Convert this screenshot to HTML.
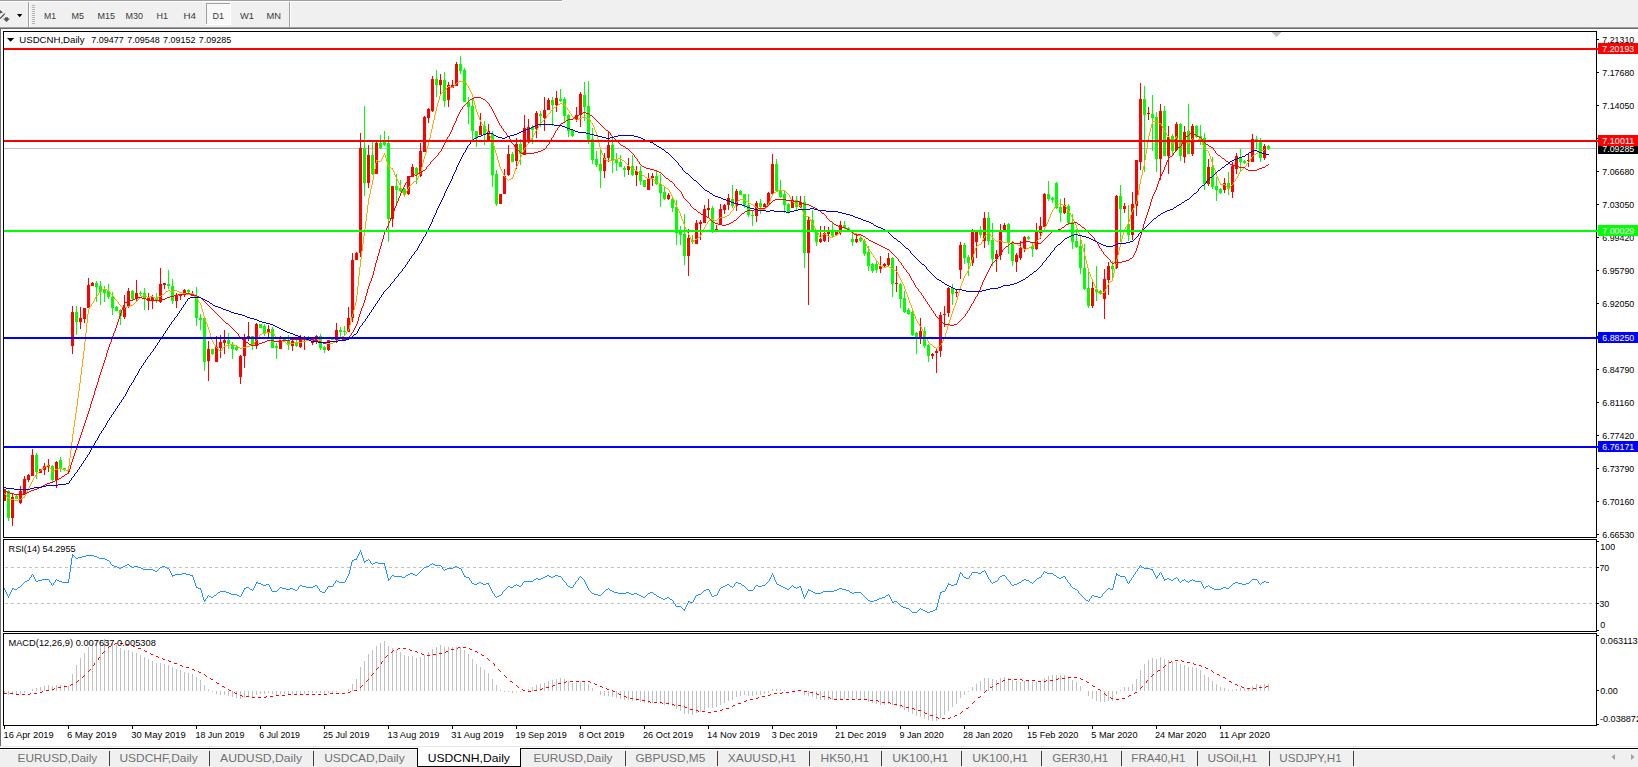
<!DOCTYPE html><html><head><meta charset="utf-8"><title>USDCNH,Daily</title>
<style>html,body{margin:0;padding:0;background:#fff;overflow:hidden}svg{display:block}text{font-family:"Liberation Sans",sans-serif}</style></head><body>
<svg width="1638" height="767" viewBox="0 0 1638 767">
<rect width="1638" height="767" fill="#fff"/>
<g shape-rendering="crispEdges">
<rect x="0" y="0" width="1638" height="27" fill="#f0f0f0"/>
<rect x="0" y="0" width="562" height="1" fill="#a0a0a0"/>
<rect x="0" y="1" width="563" height="1" fill="#ffffff"/>
<rect x="562" y="0" width="1" height="2" fill="#ffffff"/>
<rect x="0" y="27" width="1638" height="1" fill="#a0a0a0"/>
<rect x="0" y="28" width="1638" height="1" fill="#696969"/>
<rect x="28" y="2" width="1" height="25" fill="#a0a0a0"/>
<rect x="29" y="2" width="1" height="25" fill="#ffffff"/>
<rect x="289" y="2" width="1" height="25" fill="#a0a0a0"/>
<rect x="290" y="2" width="1" height="25" fill="#ffffff"/>
<rect x="32" y="5" width="3" height="1" fill="#b4b4b4"/>
<rect x="32" y="7" width="3" height="1" fill="#b4b4b4"/>
<rect x="32" y="9" width="3" height="1" fill="#b4b4b4"/>
<rect x="32" y="11" width="3" height="1" fill="#b4b4b4"/>
<rect x="32" y="13" width="3" height="1" fill="#b4b4b4"/>
<rect x="32" y="15" width="3" height="1" fill="#b4b4b4"/>
<rect x="32" y="17" width="3" height="1" fill="#b4b4b4"/>
<rect x="32" y="19" width="3" height="1" fill="#b4b4b4"/>
<rect x="32" y="21" width="3" height="1" fill="#b4b4b4"/>
<rect x="32" y="23" width="3" height="1" fill="#b4b4b4"/>
<rect x="206" y="3" width="25" height="22" fill="#f8f8f8"/>
<rect x="206" y="3" width="25" height="1" fill="#a0a0a0"/>
<rect x="206" y="3" width="1" height="22" fill="#a0a0a0"/>
<rect x="206" y="24" width="25" height="1" fill="#ffffff"/>
<rect x="230" y="3" width="1" height="22" fill="#ffffff"/>
</g>
<path d="M0 10 L3 12.6 L0 13.6 Z" fill="#555"/>
<path d="M0 18.6 L4.8 13.6" stroke="#4a4a4a" stroke-width="1.3" fill="none"/>
<path d="M3 18.4 L5 18.4 L5 17.2 L8 17.2 L8 18.4 L10 18.4 L6.5 22 Z" fill="#555"/>
<path d="M17 14 L22.4 14 L19.7 17.3 Z" fill="#000"/>
<text x="44" y="19" font-size="9.4" fill="#3a3a3a" textLength="12" lengthAdjust="spacingAndGlyphs">M1</text>
<text x="71.5" y="19" font-size="9.4" fill="#3a3a3a" textLength="12.5" lengthAdjust="spacingAndGlyphs">M5</text>
<text x="97.5" y="19" font-size="9.4" fill="#3a3a3a" textLength="17.5" lengthAdjust="spacingAndGlyphs">M15</text>
<text x="125.5" y="19" font-size="9.4" fill="#3a3a3a" textLength="17.5" lengthAdjust="spacingAndGlyphs">M30</text>
<text x="156.5" y="19" font-size="9.4" fill="#3a3a3a" textLength="11.5" lengthAdjust="spacingAndGlyphs">H1</text>
<text x="183.5" y="19" font-size="9.4" fill="#3a3a3a" textLength="12.5" lengthAdjust="spacingAndGlyphs">H4</text>
<text x="212.5" y="19" font-size="9.4" fill="#3a3a3a" textLength="11.5" lengthAdjust="spacingAndGlyphs">D1</text>
<text x="240" y="19" font-size="9.4" fill="#3a3a3a" textLength="14" lengthAdjust="spacingAndGlyphs">W1</text>
<text x="266.5" y="19" font-size="9.4" fill="#3a3a3a" textLength="14.5" lengthAdjust="spacingAndGlyphs">MN</text>
<g shape-rendering="crispEdges">
<rect x="0" y="29" width="1" height="718" fill="#6e6e6e"/>
<rect x="3" y="31" width="1594" height="1" fill="#000"/>
<rect x="3" y="537" width="1594" height="1" fill="#000"/>
<rect x="3" y="31" width="1" height="507" fill="#000"/>
<rect x="1596" y="31" width="1" height="507" fill="#000"/>
<rect x="3" y="539" width="1594" height="1" fill="#000"/>
<rect x="3" y="631" width="1594" height="1" fill="#000"/>
<rect x="3" y="539" width="1" height="93" fill="#000"/>
<rect x="1596" y="539" width="1" height="93" fill="#000"/>
<rect x="3" y="633" width="1594" height="1" fill="#000"/>
<rect x="3" y="725" width="1594" height="1" fill="#000"/>
<rect x="3" y="633" width="1" height="93" fill="#000"/>
<rect x="1596" y="633" width="1" height="93" fill="#000"/>
</g>
<g shape-rendering="crispEdges">
<rect x="4" y="148" width="1592" height="1" fill="#c0c0c0"/>
<rect x="4" y="489" width="1" height="12" fill="#ff0000"/>
<rect x="4" y="489" width="2" height="12" fill="#ff0000"/>
<rect x="8" y="490" width="1" height="31" fill="#00ff00"/>
<rect x="7" y="491" width="3" height="27" fill="#00ff00"/>
<rect x="12" y="494" width="1" height="32" fill="#ff0000"/>
<rect x="11" y="497" width="3" height="21" fill="#ff0000"/>
<rect x="16" y="494" width="1" height="5" fill="#00ff00"/>
<rect x="15" y="496" width="3" height="3" fill="#00ff00"/>
<rect x="20" y="486" width="1" height="18" fill="#ff0000"/>
<rect x="19" y="491" width="3" height="12" fill="#ff0000"/>
<rect x="24" y="476" width="1" height="19" fill="#ff0000"/>
<rect x="23" y="479" width="3" height="16" fill="#ff0000"/>
<rect x="28" y="474" width="1" height="8" fill="#ff0000"/>
<rect x="27" y="475" width="3" height="5" fill="#ff0000"/>
<rect x="32" y="449" width="1" height="27" fill="#ff0000"/>
<rect x="31" y="455" width="3" height="21" fill="#ff0000"/>
<rect x="36" y="453" width="1" height="26" fill="#00ff00"/>
<rect x="35" y="455" width="3" height="17" fill="#00ff00"/>
<rect x="40" y="469" width="1" height="4" fill="#ff0000"/>
<rect x="39" y="469" width="3" height="4" fill="#ff0000"/>
<rect x="44" y="463" width="1" height="12" fill="#ff0000"/>
<rect x="43" y="466" width="3" height="4" fill="#ff0000"/>
<rect x="48" y="459" width="1" height="13" fill="#ff0000"/>
<rect x="47" y="465" width="3" height="2" fill="#ff0000"/>
<rect x="52" y="465" width="1" height="17" fill="#00ff00"/>
<rect x="51" y="466" width="3" height="14" fill="#00ff00"/>
<rect x="56" y="461" width="1" height="27" fill="#ff0000"/>
<rect x="55" y="462" width="3" height="18" fill="#ff0000"/>
<rect x="60" y="457" width="1" height="15" fill="#00ff00"/>
<rect x="59" y="460" width="3" height="8" fill="#00ff00"/>
<rect x="64" y="468" width="1" height="3" fill="#00ff00"/>
<rect x="63" y="468" width="3" height="2" fill="#00ff00"/>
<rect x="68" y="469" width="1" height="3" fill="#ff0000"/>
<rect x="67" y="470" width="3" height="1" fill="#ff0000"/>
<rect x="72" y="306" width="1" height="48" fill="#ff0000"/>
<rect x="71" y="312" width="3" height="34" fill="#ff0000"/>
<rect x="76" y="306" width="1" height="29" fill="#00ff00"/>
<rect x="75" y="312" width="3" height="10" fill="#00ff00"/>
<rect x="80" y="307" width="1" height="22" fill="#ff0000"/>
<rect x="79" y="318" width="3" height="4" fill="#ff0000"/>
<rect x="84" y="308" width="1" height="15" fill="#ff0000"/>
<rect x="83" y="308" width="3" height="11" fill="#ff0000"/>
<rect x="88" y="278" width="1" height="30" fill="#ff0000"/>
<rect x="87" y="285" width="3" height="23" fill="#ff0000"/>
<rect x="92" y="282" width="1" height="4" fill="#ff0000"/>
<rect x="91" y="283" width="3" height="3" fill="#ff0000"/>
<rect x="96" y="281" width="1" height="21" fill="#00ff00"/>
<rect x="95" y="283" width="3" height="4" fill="#00ff00"/>
<rect x="100" y="281" width="1" height="24" fill="#00ff00"/>
<rect x="99" y="286" width="3" height="6" fill="#00ff00"/>
<rect x="104" y="286" width="1" height="16" fill="#00ff00"/>
<rect x="103" y="290" width="3" height="3" fill="#00ff00"/>
<rect x="108" y="284" width="1" height="15" fill="#00ff00"/>
<rect x="107" y="291" width="3" height="6" fill="#00ff00"/>
<rect x="112" y="292" width="1" height="23" fill="#00ff00"/>
<rect x="111" y="297" width="3" height="11" fill="#00ff00"/>
<rect x="116" y="306" width="1" height="5" fill="#00ff00"/>
<rect x="115" y="307" width="3" height="4" fill="#00ff00"/>
<rect x="120" y="309" width="1" height="16" fill="#00ff00"/>
<rect x="119" y="310" width="3" height="6" fill="#00ff00"/>
<rect x="124" y="295" width="1" height="24" fill="#ff0000"/>
<rect x="123" y="307" width="3" height="10" fill="#ff0000"/>
<rect x="128" y="288" width="1" height="20" fill="#ff0000"/>
<rect x="127" y="291" width="3" height="15" fill="#ff0000"/>
<rect x="132" y="290" width="1" height="10" fill="#00ff00"/>
<rect x="131" y="291" width="3" height="8" fill="#00ff00"/>
<rect x="136" y="280" width="1" height="21" fill="#ff0000"/>
<rect x="135" y="293" width="3" height="6" fill="#ff0000"/>
<rect x="140" y="291" width="1" height="5" fill="#00ff00"/>
<rect x="139" y="293" width="3" height="1" fill="#00ff00"/>
<rect x="144" y="288" width="1" height="22" fill="#00ff00"/>
<rect x="143" y="293" width="3" height="6" fill="#00ff00"/>
<rect x="148" y="293" width="1" height="17" fill="#ff0000"/>
<rect x="147" y="298" width="3" height="3" fill="#ff0000"/>
<rect x="152" y="295" width="1" height="14" fill="#ff0000"/>
<rect x="151" y="297" width="3" height="4" fill="#ff0000"/>
<rect x="156" y="293" width="1" height="10" fill="#00ff00"/>
<rect x="155" y="298" width="3" height="3" fill="#00ff00"/>
<rect x="160" y="268" width="1" height="35" fill="#ff0000"/>
<rect x="159" y="284" width="3" height="18" fill="#ff0000"/>
<rect x="164" y="283" width="1" height="6" fill="#ff0000"/>
<rect x="163" y="283" width="3" height="2" fill="#ff0000"/>
<rect x="168" y="270" width="1" height="19" fill="#00ff00"/>
<rect x="167" y="284" width="3" height="2" fill="#00ff00"/>
<rect x="172" y="279" width="1" height="25" fill="#00ff00"/>
<rect x="171" y="286" width="3" height="15" fill="#00ff00"/>
<rect x="176" y="293" width="1" height="15" fill="#ff0000"/>
<rect x="175" y="295" width="3" height="6" fill="#ff0000"/>
<rect x="180" y="294" width="1" height="6" fill="#ff0000"/>
<rect x="179" y="294" width="3" height="2" fill="#ff0000"/>
<rect x="184" y="289" width="1" height="8" fill="#ff0000"/>
<rect x="183" y="290" width="3" height="3" fill="#ff0000"/>
<rect x="188" y="289" width="1" height="4" fill="#00ff00"/>
<rect x="187" y="290" width="3" height="2" fill="#00ff00"/>
<rect x="192" y="291" width="1" height="5" fill="#ff0000"/>
<rect x="191" y="294" width="3" height="2" fill="#ff0000"/>
<rect x="196" y="287" width="1" height="39" fill="#00ff00"/>
<rect x="195" y="296" width="3" height="22" fill="#00ff00"/>
<rect x="200" y="314" width="1" height="16" fill="#00ff00"/>
<rect x="199" y="318" width="3" height="2" fill="#00ff00"/>
<rect x="204" y="318" width="1" height="53" fill="#00ff00"/>
<rect x="203" y="318" width="3" height="44" fill="#00ff00"/>
<rect x="208" y="341" width="1" height="40" fill="#ff0000"/>
<rect x="207" y="349" width="3" height="12" fill="#ff0000"/>
<rect x="212" y="349" width="1" height="6" fill="#00ff00"/>
<rect x="211" y="349" width="3" height="5" fill="#00ff00"/>
<rect x="216" y="336" width="1" height="26" fill="#ff0000"/>
<rect x="215" y="347" width="3" height="15" fill="#ff0000"/>
<rect x="220" y="335" width="1" height="23" fill="#ff0000"/>
<rect x="219" y="342" width="3" height="6" fill="#ff0000"/>
<rect x="224" y="330" width="1" height="24" fill="#ff0000"/>
<rect x="223" y="340" width="3" height="3" fill="#ff0000"/>
<rect x="228" y="333" width="1" height="16" fill="#00ff00"/>
<rect x="227" y="340" width="3" height="4" fill="#00ff00"/>
<rect x="232" y="342" width="1" height="17" fill="#00ff00"/>
<rect x="231" y="344" width="3" height="5" fill="#00ff00"/>
<rect x="236" y="346" width="1" height="5" fill="#00ff00"/>
<rect x="235" y="347" width="3" height="3" fill="#00ff00"/>
<rect x="240" y="355" width="1" height="29" fill="#ff0000"/>
<rect x="239" y="356" width="3" height="21" fill="#ff0000"/>
<rect x="244" y="334" width="1" height="34" fill="#ff0000"/>
<rect x="243" y="338" width="3" height="18" fill="#ff0000"/>
<rect x="248" y="322" width="1" height="19" fill="#ff0000"/>
<rect x="247" y="336" width="3" height="2" fill="#ff0000"/>
<rect x="252" y="336" width="1" height="14" fill="#00ff00"/>
<rect x="251" y="336" width="3" height="9" fill="#00ff00"/>
<rect x="256" y="323" width="1" height="26" fill="#ff0000"/>
<rect x="255" y="324" width="3" height="22" fill="#ff0000"/>
<rect x="260" y="324" width="1" height="4" fill="#00ff00"/>
<rect x="259" y="324" width="3" height="4" fill="#00ff00"/>
<rect x="264" y="324" width="1" height="12" fill="#00ff00"/>
<rect x="263" y="326" width="3" height="7" fill="#00ff00"/>
<rect x="268" y="325" width="1" height="12" fill="#ff0000"/>
<rect x="267" y="329" width="3" height="4" fill="#ff0000"/>
<rect x="272" y="327" width="1" height="21" fill="#00ff00"/>
<rect x="271" y="329" width="3" height="19" fill="#00ff00"/>
<rect x="276" y="343" width="1" height="16" fill="#00ff00"/>
<rect x="275" y="346" width="3" height="2" fill="#00ff00"/>
<rect x="280" y="336" width="1" height="13" fill="#ff0000"/>
<rect x="279" y="340" width="3" height="9" fill="#ff0000"/>
<rect x="284" y="338" width="1" height="4" fill="#00ff00"/>
<rect x="283" y="339" width="3" height="1" fill="#00ff00"/>
<rect x="288" y="335" width="1" height="15" fill="#00ff00"/>
<rect x="287" y="340" width="3" height="5" fill="#00ff00"/>
<rect x="292" y="340" width="1" height="11" fill="#ff0000"/>
<rect x="291" y="341" width="3" height="5" fill="#ff0000"/>
<rect x="296" y="340" width="1" height="7" fill="#00ff00"/>
<rect x="295" y="342" width="3" height="4" fill="#00ff00"/>
<rect x="300" y="335" width="1" height="13" fill="#ff0000"/>
<rect x="299" y="337" width="3" height="10" fill="#ff0000"/>
<rect x="304" y="336" width="1" height="14" fill="#ff0000"/>
<rect x="303" y="338" width="3" height="2" fill="#ff0000"/>
<rect x="308" y="336" width="1" height="4" fill="#00ff00"/>
<rect x="307" y="338" width="3" height="2" fill="#00ff00"/>
<rect x="312" y="340" width="1" height="5" fill="#ff0000"/>
<rect x="311" y="340" width="3" height="3" fill="#ff0000"/>
<rect x="316" y="335" width="1" height="9" fill="#ff0000"/>
<rect x="315" y="336" width="3" height="5" fill="#ff0000"/>
<rect x="320" y="334" width="1" height="16" fill="#00ff00"/>
<rect x="319" y="336" width="3" height="12" fill="#00ff00"/>
<rect x="324" y="346" width="1" height="7" fill="#00ff00"/>
<rect x="323" y="347" width="3" height="3" fill="#00ff00"/>
<rect x="328" y="340" width="1" height="11" fill="#ff0000"/>
<rect x="327" y="340" width="3" height="10" fill="#ff0000"/>
<rect x="332" y="337" width="1" height="3" fill="#00ff00"/>
<rect x="331" y="338" width="3" height="2" fill="#00ff00"/>
<rect x="336" y="323" width="1" height="20" fill="#ff0000"/>
<rect x="335" y="330" width="3" height="10" fill="#ff0000"/>
<rect x="340" y="327" width="1" height="10" fill="#00ff00"/>
<rect x="339" y="330" width="3" height="2" fill="#00ff00"/>
<rect x="344" y="326" width="1" height="10" fill="#00ff00"/>
<rect x="343" y="331" width="3" height="1" fill="#00ff00"/>
<rect x="348" y="307" width="1" height="25" fill="#ff0000"/>
<rect x="347" y="318" width="3" height="14" fill="#ff0000"/>
<rect x="352" y="253" width="1" height="69" fill="#ff0000"/>
<rect x="351" y="260" width="3" height="58" fill="#ff0000"/>
<rect x="356" y="252" width="1" height="8" fill="#ff0000"/>
<rect x="355" y="253" width="3" height="7" fill="#ff0000"/>
<rect x="360" y="133" width="1" height="124" fill="#ff0000"/>
<rect x="359" y="148" width="3" height="105" fill="#ff0000"/>
<rect x="364" y="106" width="1" height="90" fill="#00ff00"/>
<rect x="363" y="148" width="3" height="35" fill="#00ff00"/>
<rect x="368" y="145" width="1" height="43" fill="#ff0000"/>
<rect x="367" y="155" width="3" height="28" fill="#ff0000"/>
<rect x="372" y="142" width="1" height="33" fill="#00ff00"/>
<rect x="371" y="155" width="3" height="19" fill="#00ff00"/>
<rect x="376" y="142" width="1" height="32" fill="#ff0000"/>
<rect x="375" y="143" width="3" height="31" fill="#ff0000"/>
<rect x="380" y="135" width="1" height="14" fill="#00ff00"/>
<rect x="379" y="143" width="3" height="5" fill="#00ff00"/>
<rect x="384" y="131" width="1" height="15" fill="#00ff00"/>
<rect x="383" y="142" width="3" height="3" fill="#00ff00"/>
<rect x="388" y="136" width="1" height="106" fill="#00ff00"/>
<rect x="387" y="143" width="3" height="76" fill="#00ff00"/>
<rect x="392" y="186" width="1" height="41" fill="#ff0000"/>
<rect x="391" y="186" width="3" height="33" fill="#ff0000"/>
<rect x="396" y="174" width="1" height="32" fill="#00ff00"/>
<rect x="395" y="186" width="3" height="4" fill="#00ff00"/>
<rect x="400" y="180" width="1" height="12" fill="#00ff00"/>
<rect x="399" y="188" width="3" height="3" fill="#00ff00"/>
<rect x="404" y="188" width="1" height="8" fill="#00ff00"/>
<rect x="403" y="189" width="3" height="4" fill="#00ff00"/>
<rect x="408" y="176" width="1" height="19" fill="#ff0000"/>
<rect x="407" y="176" width="3" height="18" fill="#ff0000"/>
<rect x="412" y="164" width="1" height="13" fill="#ff0000"/>
<rect x="411" y="167" width="3" height="10" fill="#ff0000"/>
<rect x="416" y="167" width="1" height="17" fill="#00ff00"/>
<rect x="415" y="168" width="3" height="6" fill="#00ff00"/>
<rect x="420" y="143" width="1" height="34" fill="#ff0000"/>
<rect x="419" y="151" width="3" height="25" fill="#ff0000"/>
<rect x="424" y="116" width="1" height="36" fill="#ff0000"/>
<rect x="423" y="117" width="3" height="35" fill="#ff0000"/>
<rect x="428" y="108" width="1" height="15" fill="#ff0000"/>
<rect x="427" y="109" width="3" height="9" fill="#ff0000"/>
<rect x="432" y="76" width="1" height="36" fill="#ff0000"/>
<rect x="431" y="79" width="3" height="32" fill="#ff0000"/>
<rect x="436" y="70" width="1" height="27" fill="#00ff00"/>
<rect x="435" y="79" width="3" height="6" fill="#00ff00"/>
<rect x="440" y="74" width="1" height="22" fill="#ff0000"/>
<rect x="439" y="80" width="3" height="5" fill="#ff0000"/>
<rect x="444" y="72" width="1" height="35" fill="#00ff00"/>
<rect x="443" y="80" width="3" height="21" fill="#00ff00"/>
<rect x="448" y="82" width="1" height="25" fill="#ff0000"/>
<rect x="447" y="85" width="3" height="15" fill="#ff0000"/>
<rect x="452" y="80" width="1" height="8" fill="#ff0000"/>
<rect x="451" y="85" width="3" height="3" fill="#ff0000"/>
<rect x="456" y="62" width="1" height="24" fill="#ff0000"/>
<rect x="455" y="64" width="3" height="22" fill="#ff0000"/>
<rect x="460" y="56" width="1" height="18" fill="#00ff00"/>
<rect x="459" y="64" width="3" height="7" fill="#00ff00"/>
<rect x="464" y="68" width="1" height="34" fill="#00ff00"/>
<rect x="463" y="70" width="3" height="32" fill="#00ff00"/>
<rect x="468" y="97" width="1" height="27" fill="#00ff00"/>
<rect x="467" y="102" width="3" height="5" fill="#00ff00"/>
<rect x="472" y="99" width="1" height="41" fill="#00ff00"/>
<rect x="471" y="106" width="3" height="25" fill="#00ff00"/>
<rect x="476" y="131" width="1" height="16" fill="#00ff00"/>
<rect x="475" y="131" width="3" height="7" fill="#00ff00"/>
<rect x="480" y="113" width="1" height="22" fill="#ff0000"/>
<rect x="479" y="126" width="3" height="9" fill="#ff0000"/>
<rect x="484" y="121" width="1" height="24" fill="#00ff00"/>
<rect x="483" y="126" width="3" height="8" fill="#00ff00"/>
<rect x="488" y="124" width="1" height="16" fill="#ff0000"/>
<rect x="487" y="131" width="3" height="9" fill="#ff0000"/>
<rect x="492" y="131" width="1" height="56" fill="#00ff00"/>
<rect x="491" y="134" width="3" height="41" fill="#00ff00"/>
<rect x="496" y="170" width="1" height="36" fill="#00ff00"/>
<rect x="495" y="174" width="3" height="30" fill="#00ff00"/>
<rect x="500" y="194" width="1" height="10" fill="#ff0000"/>
<rect x="499" y="194" width="3" height="10" fill="#ff0000"/>
<rect x="504" y="169" width="1" height="25" fill="#ff0000"/>
<rect x="503" y="176" width="3" height="18" fill="#ff0000"/>
<rect x="508" y="145" width="1" height="31" fill="#ff0000"/>
<rect x="507" y="154" width="3" height="21" fill="#ff0000"/>
<rect x="512" y="152" width="1" height="10" fill="#00ff00"/>
<rect x="511" y="154" width="3" height="8" fill="#00ff00"/>
<rect x="516" y="138" width="1" height="31" fill="#ff0000"/>
<rect x="515" y="144" width="3" height="17" fill="#ff0000"/>
<rect x="520" y="139" width="1" height="26" fill="#00ff00"/>
<rect x="519" y="144" width="3" height="10" fill="#00ff00"/>
<rect x="524" y="115" width="1" height="40" fill="#ff0000"/>
<rect x="523" y="128" width="3" height="27" fill="#ff0000"/>
<rect x="528" y="119" width="1" height="24" fill="#ff0000"/>
<rect x="527" y="127" width="3" height="15" fill="#ff0000"/>
<rect x="532" y="125" width="1" height="19" fill="#00ff00"/>
<rect x="531" y="127" width="3" height="3" fill="#00ff00"/>
<rect x="536" y="111" width="1" height="27" fill="#ff0000"/>
<rect x="535" y="113" width="3" height="16" fill="#ff0000"/>
<rect x="540" y="111" width="1" height="16" fill="#00ff00"/>
<rect x="539" y="114" width="3" height="2" fill="#00ff00"/>
<rect x="544" y="97" width="1" height="34" fill="#ff0000"/>
<rect x="543" y="110" width="3" height="8" fill="#ff0000"/>
<rect x="548" y="98" width="1" height="12" fill="#ff0000"/>
<rect x="547" y="100" width="3" height="10" fill="#ff0000"/>
<rect x="552" y="97" width="1" height="29" fill="#00ff00"/>
<rect x="551" y="100" width="3" height="5" fill="#00ff00"/>
<rect x="556" y="91" width="1" height="21" fill="#ff0000"/>
<rect x="555" y="98" width="3" height="7" fill="#ff0000"/>
<rect x="560" y="89" width="1" height="13" fill="#00ff00"/>
<rect x="559" y="99" width="3" height="2" fill="#00ff00"/>
<rect x="564" y="97" width="1" height="25" fill="#00ff00"/>
<rect x="563" y="99" width="3" height="17" fill="#00ff00"/>
<rect x="568" y="114" width="1" height="23" fill="#00ff00"/>
<rect x="567" y="115" width="3" height="16" fill="#00ff00"/>
<rect x="572" y="129" width="1" height="8" fill="#00ff00"/>
<rect x="571" y="130" width="3" height="6" fill="#00ff00"/>
<rect x="576" y="107" width="1" height="15" fill="#ff0000"/>
<rect x="575" y="115" width="3" height="4" fill="#ff0000"/>
<rect x="580" y="92" width="1" height="35" fill="#ff0000"/>
<rect x="579" y="94" width="3" height="21" fill="#ff0000"/>
<rect x="584" y="82" width="1" height="39" fill="#00ff00"/>
<rect x="583" y="95" width="3" height="12" fill="#00ff00"/>
<rect x="588" y="81" width="1" height="63" fill="#00ff00"/>
<rect x="587" y="106" width="3" height="34" fill="#00ff00"/>
<rect x="592" y="128" width="1" height="36" fill="#00ff00"/>
<rect x="591" y="139" width="3" height="21" fill="#00ff00"/>
<rect x="596" y="151" width="1" height="16" fill="#00ff00"/>
<rect x="595" y="159" width="3" height="6" fill="#00ff00"/>
<rect x="600" y="150" width="1" height="38" fill="#00ff00"/>
<rect x="599" y="164" width="3" height="7" fill="#00ff00"/>
<rect x="604" y="153" width="1" height="25" fill="#ff0000"/>
<rect x="603" y="158" width="3" height="13" fill="#ff0000"/>
<rect x="608" y="132" width="1" height="30" fill="#ff0000"/>
<rect x="607" y="145" width="3" height="13" fill="#ff0000"/>
<rect x="612" y="137" width="1" height="36" fill="#00ff00"/>
<rect x="611" y="145" width="3" height="15" fill="#00ff00"/>
<rect x="616" y="153" width="1" height="18" fill="#00ff00"/>
<rect x="615" y="159" width="3" height="4" fill="#00ff00"/>
<rect x="620" y="155" width="1" height="12" fill="#00ff00"/>
<rect x="619" y="162" width="3" height="5" fill="#00ff00"/>
<rect x="624" y="166" width="1" height="11" fill="#00ff00"/>
<rect x="623" y="168" width="3" height="2" fill="#00ff00"/>
<rect x="628" y="158" width="1" height="17" fill="#ff0000"/>
<rect x="627" y="166" width="3" height="4" fill="#ff0000"/>
<rect x="632" y="155" width="1" height="21" fill="#00ff00"/>
<rect x="631" y="166" width="3" height="9" fill="#00ff00"/>
<rect x="636" y="166" width="1" height="20" fill="#ff0000"/>
<rect x="635" y="171" width="3" height="4" fill="#ff0000"/>
<rect x="640" y="166" width="1" height="19" fill="#00ff00"/>
<rect x="639" y="171" width="3" height="10" fill="#00ff00"/>
<rect x="644" y="180" width="1" height="7" fill="#00ff00"/>
<rect x="643" y="180" width="3" height="7" fill="#00ff00"/>
<rect x="648" y="173" width="1" height="17" fill="#ff0000"/>
<rect x="647" y="178" width="3" height="12" fill="#ff0000"/>
<rect x="652" y="173" width="1" height="13" fill="#ff0000"/>
<rect x="651" y="176" width="3" height="2" fill="#ff0000"/>
<rect x="656" y="170" width="1" height="15" fill="#00ff00"/>
<rect x="655" y="176" width="3" height="8" fill="#00ff00"/>
<rect x="660" y="174" width="1" height="33" fill="#00ff00"/>
<rect x="659" y="184" width="3" height="9" fill="#00ff00"/>
<rect x="664" y="186" width="1" height="14" fill="#00ff00"/>
<rect x="663" y="192" width="3" height="7" fill="#00ff00"/>
<rect x="668" y="193" width="1" height="7" fill="#ff0000"/>
<rect x="667" y="195" width="3" height="4" fill="#ff0000"/>
<rect x="672" y="196" width="1" height="16" fill="#00ff00"/>
<rect x="671" y="199" width="3" height="9" fill="#00ff00"/>
<rect x="676" y="200" width="1" height="45" fill="#00ff00"/>
<rect x="675" y="207" width="3" height="26" fill="#00ff00"/>
<rect x="680" y="226" width="1" height="19" fill="#00ff00"/>
<rect x="679" y="231" width="3" height="4" fill="#00ff00"/>
<rect x="684" y="214" width="1" height="51" fill="#00ff00"/>
<rect x="683" y="234" width="3" height="22" fill="#00ff00"/>
<rect x="688" y="229" width="1" height="47" fill="#ff0000"/>
<rect x="687" y="238" width="3" height="18" fill="#ff0000"/>
<rect x="692" y="235" width="1" height="9" fill="#00ff00"/>
<rect x="691" y="240" width="3" height="2" fill="#00ff00"/>
<rect x="696" y="220" width="1" height="24" fill="#ff0000"/>
<rect x="695" y="223" width="3" height="21" fill="#ff0000"/>
<rect x="700" y="220" width="1" height="20" fill="#ff0000"/>
<rect x="699" y="222" width="3" height="2" fill="#ff0000"/>
<rect x="704" y="205" width="1" height="18" fill="#ff0000"/>
<rect x="703" y="209" width="3" height="14" fill="#ff0000"/>
<rect x="708" y="199" width="1" height="18" fill="#ff0000"/>
<rect x="707" y="208" width="3" height="2" fill="#ff0000"/>
<rect x="712" y="206" width="1" height="27" fill="#00ff00"/>
<rect x="711" y="208" width="3" height="23" fill="#00ff00"/>
<rect x="716" y="225" width="1" height="5" fill="#ff0000"/>
<rect x="715" y="229" width="3" height="1" fill="#ff0000"/>
<rect x="720" y="204" width="1" height="20" fill="#ff0000"/>
<rect x="719" y="209" width="3" height="15" fill="#ff0000"/>
<rect x="724" y="204" width="1" height="10" fill="#ff0000"/>
<rect x="723" y="205" width="3" height="5" fill="#ff0000"/>
<rect x="728" y="194" width="1" height="16" fill="#ff0000"/>
<rect x="727" y="198" width="3" height="7" fill="#ff0000"/>
<rect x="732" y="185" width="1" height="23" fill="#00ff00"/>
<rect x="731" y="199" width="3" height="7" fill="#00ff00"/>
<rect x="736" y="189" width="1" height="22" fill="#ff0000"/>
<rect x="735" y="191" width="3" height="15" fill="#ff0000"/>
<rect x="740" y="190" width="1" height="5" fill="#00ff00"/>
<rect x="739" y="191" width="3" height="4" fill="#00ff00"/>
<rect x="744" y="194" width="1" height="14" fill="#00ff00"/>
<rect x="743" y="194" width="3" height="11" fill="#00ff00"/>
<rect x="748" y="194" width="1" height="23" fill="#00ff00"/>
<rect x="747" y="205" width="3" height="10" fill="#00ff00"/>
<rect x="752" y="210" width="1" height="16" fill="#00ff00"/>
<rect x="751" y="215" width="3" height="1" fill="#00ff00"/>
<rect x="756" y="201" width="1" height="21" fill="#ff0000"/>
<rect x="755" y="203" width="3" height="13" fill="#ff0000"/>
<rect x="760" y="199" width="1" height="15" fill="#00ff00"/>
<rect x="759" y="203" width="3" height="4" fill="#00ff00"/>
<rect x="764" y="203" width="1" height="4" fill="#ff0000"/>
<rect x="763" y="204" width="3" height="3" fill="#ff0000"/>
<rect x="768" y="192" width="1" height="14" fill="#ff0000"/>
<rect x="767" y="193" width="3" height="12" fill="#ff0000"/>
<rect x="772" y="154" width="1" height="41" fill="#ff0000"/>
<rect x="771" y="164" width="3" height="30" fill="#ff0000"/>
<rect x="776" y="159" width="1" height="32" fill="#00ff00"/>
<rect x="775" y="164" width="3" height="27" fill="#00ff00"/>
<rect x="780" y="180" width="1" height="18" fill="#00ff00"/>
<rect x="779" y="190" width="3" height="7" fill="#00ff00"/>
<rect x="784" y="190" width="1" height="23" fill="#00ff00"/>
<rect x="783" y="194" width="3" height="11" fill="#00ff00"/>
<rect x="788" y="203" width="1" height="11" fill="#00ff00"/>
<rect x="787" y="204" width="3" height="8" fill="#00ff00"/>
<rect x="792" y="196" width="1" height="12" fill="#ff0000"/>
<rect x="791" y="200" width="3" height="8" fill="#ff0000"/>
<rect x="796" y="196" width="1" height="14" fill="#00ff00"/>
<rect x="795" y="200" width="3" height="7" fill="#00ff00"/>
<rect x="800" y="196" width="1" height="12" fill="#ff0000"/>
<rect x="799" y="202" width="3" height="5" fill="#ff0000"/>
<rect x="804" y="196" width="1" height="72" fill="#00ff00"/>
<rect x="803" y="202" width="3" height="51" fill="#00ff00"/>
<rect x="808" y="216" width="1" height="89" fill="#ff0000"/>
<rect x="807" y="220" width="3" height="33" fill="#ff0000"/>
<rect x="812" y="210" width="1" height="22" fill="#00ff00"/>
<rect x="811" y="220" width="3" height="11" fill="#00ff00"/>
<rect x="816" y="230" width="1" height="16" fill="#00ff00"/>
<rect x="815" y="231" width="3" height="11" fill="#00ff00"/>
<rect x="820" y="226" width="1" height="17" fill="#ff0000"/>
<rect x="819" y="239" width="3" height="3" fill="#ff0000"/>
<rect x="824" y="226" width="1" height="16" fill="#ff0000"/>
<rect x="823" y="233" width="3" height="8" fill="#ff0000"/>
<rect x="828" y="227" width="1" height="15" fill="#ff0000"/>
<rect x="827" y="232" width="3" height="2" fill="#ff0000"/>
<rect x="832" y="222" width="1" height="15" fill="#00ff00"/>
<rect x="831" y="232" width="3" height="4" fill="#00ff00"/>
<rect x="836" y="232" width="1" height="3" fill="#ff0000"/>
<rect x="835" y="232" width="3" height="3" fill="#ff0000"/>
<rect x="840" y="221" width="1" height="14" fill="#ff0000"/>
<rect x="839" y="225" width="3" height="8" fill="#ff0000"/>
<rect x="844" y="221" width="1" height="8" fill="#00ff00"/>
<rect x="843" y="225" width="3" height="3" fill="#00ff00"/>
<rect x="848" y="227" width="1" height="5" fill="#00ff00"/>
<rect x="847" y="228" width="3" height="3" fill="#00ff00"/>
<rect x="852" y="232" width="1" height="14" fill="#00ff00"/>
<rect x="851" y="239" width="3" height="3" fill="#00ff00"/>
<rect x="856" y="234" width="1" height="9" fill="#ff0000"/>
<rect x="855" y="239" width="3" height="3" fill="#ff0000"/>
<rect x="860" y="237" width="1" height="5" fill="#00ff00"/>
<rect x="859" y="238" width="3" height="3" fill="#00ff00"/>
<rect x="864" y="239" width="1" height="17" fill="#00ff00"/>
<rect x="863" y="241" width="3" height="13" fill="#00ff00"/>
<rect x="868" y="246" width="1" height="25" fill="#00ff00"/>
<rect x="867" y="252" width="3" height="14" fill="#00ff00"/>
<rect x="872" y="263" width="1" height="10" fill="#00ff00"/>
<rect x="871" y="264" width="3" height="7" fill="#00ff00"/>
<rect x="876" y="261" width="1" height="12" fill="#00ff00"/>
<rect x="875" y="264" width="3" height="6" fill="#00ff00"/>
<rect x="880" y="256" width="1" height="17" fill="#ff0000"/>
<rect x="879" y="266" width="3" height="3" fill="#ff0000"/>
<rect x="884" y="263" width="1" height="4" fill="#ff0000"/>
<rect x="883" y="264" width="3" height="2" fill="#ff0000"/>
<rect x="888" y="253" width="1" height="13" fill="#ff0000"/>
<rect x="887" y="258" width="3" height="7" fill="#ff0000"/>
<rect x="892" y="257" width="1" height="40" fill="#00ff00"/>
<rect x="891" y="258" width="3" height="26" fill="#00ff00"/>
<rect x="896" y="266" width="1" height="26" fill="#ff0000"/>
<rect x="895" y="283" width="3" height="1" fill="#ff0000"/>
<rect x="900" y="283" width="1" height="25" fill="#00ff00"/>
<rect x="899" y="284" width="3" height="15" fill="#00ff00"/>
<rect x="904" y="291" width="1" height="22" fill="#00ff00"/>
<rect x="903" y="298" width="3" height="14" fill="#00ff00"/>
<rect x="908" y="308" width="1" height="7" fill="#00ff00"/>
<rect x="907" y="310" width="3" height="4" fill="#00ff00"/>
<rect x="912" y="310" width="1" height="26" fill="#00ff00"/>
<rect x="911" y="312" width="3" height="23" fill="#00ff00"/>
<rect x="916" y="332" width="1" height="22" fill="#00ff00"/>
<rect x="915" y="333" width="3" height="6" fill="#00ff00"/>
<rect x="920" y="318" width="1" height="26" fill="#ff0000"/>
<rect x="919" y="331" width="3" height="7" fill="#ff0000"/>
<rect x="924" y="327" width="1" height="21" fill="#00ff00"/>
<rect x="923" y="331" width="3" height="15" fill="#00ff00"/>
<rect x="928" y="344" width="1" height="18" fill="#00ff00"/>
<rect x="927" y="345" width="3" height="11" fill="#00ff00"/>
<rect x="932" y="353" width="1" height="6" fill="#ff0000"/>
<rect x="931" y="354" width="3" height="2" fill="#ff0000"/>
<rect x="936" y="348" width="1" height="25" fill="#ff0000"/>
<rect x="935" y="351" width="3" height="2" fill="#ff0000"/>
<rect x="940" y="312" width="1" height="45" fill="#ff0000"/>
<rect x="939" y="315" width="3" height="36" fill="#ff0000"/>
<rect x="944" y="306" width="1" height="21" fill="#ff0000"/>
<rect x="943" y="314" width="3" height="1" fill="#ff0000"/>
<rect x="948" y="287" width="1" height="30" fill="#ff0000"/>
<rect x="947" y="288" width="3" height="25" fill="#ff0000"/>
<rect x="952" y="284" width="1" height="21" fill="#00ff00"/>
<rect x="951" y="288" width="3" height="6" fill="#00ff00"/>
<rect x="956" y="289" width="1" height="8" fill="#ff0000"/>
<rect x="955" y="292" width="3" height="1" fill="#ff0000"/>
<rect x="960" y="242" width="1" height="37" fill="#ff0000"/>
<rect x="959" y="245" width="3" height="25" fill="#ff0000"/>
<rect x="964" y="243" width="1" height="21" fill="#00ff00"/>
<rect x="963" y="245" width="3" height="13" fill="#00ff00"/>
<rect x="968" y="255" width="1" height="21" fill="#00ff00"/>
<rect x="967" y="257" width="3" height="6" fill="#00ff00"/>
<rect x="972" y="229" width="1" height="37" fill="#ff0000"/>
<rect x="971" y="231" width="3" height="32" fill="#ff0000"/>
<rect x="976" y="230" width="1" height="28" fill="#ff0000"/>
<rect x="975" y="232" width="3" height="10" fill="#ff0000"/>
<rect x="980" y="226" width="1" height="12" fill="#00ff00"/>
<rect x="979" y="232" width="3" height="3" fill="#00ff00"/>
<rect x="984" y="212" width="1" height="36" fill="#ff0000"/>
<rect x="983" y="218" width="3" height="23" fill="#ff0000"/>
<rect x="988" y="212" width="1" height="33" fill="#00ff00"/>
<rect x="987" y="218" width="3" height="23" fill="#00ff00"/>
<rect x="992" y="223" width="1" height="43" fill="#00ff00"/>
<rect x="991" y="240" width="3" height="19" fill="#00ff00"/>
<rect x="996" y="250" width="1" height="22" fill="#ff0000"/>
<rect x="995" y="254" width="3" height="5" fill="#ff0000"/>
<rect x="1000" y="224" width="1" height="36" fill="#ff0000"/>
<rect x="999" y="230" width="3" height="25" fill="#ff0000"/>
<rect x="1004" y="223" width="1" height="7" fill="#ff0000"/>
<rect x="1003" y="225" width="3" height="5" fill="#ff0000"/>
<rect x="1008" y="223" width="1" height="31" fill="#00ff00"/>
<rect x="1007" y="224" width="3" height="18" fill="#00ff00"/>
<rect x="1012" y="241" width="1" height="25" fill="#00ff00"/>
<rect x="1011" y="242" width="3" height="19" fill="#00ff00"/>
<rect x="1016" y="253" width="1" height="19" fill="#ff0000"/>
<rect x="1015" y="255" width="3" height="7" fill="#ff0000"/>
<rect x="1020" y="241" width="1" height="19" fill="#ff0000"/>
<rect x="1019" y="248" width="3" height="10" fill="#ff0000"/>
<rect x="1024" y="236" width="1" height="16" fill="#ff0000"/>
<rect x="1023" y="237" width="3" height="12" fill="#ff0000"/>
<rect x="1028" y="236" width="1" height="4" fill="#00ff00"/>
<rect x="1027" y="237" width="3" height="2" fill="#00ff00"/>
<rect x="1032" y="242" width="1" height="15" fill="#00ff00"/>
<rect x="1031" y="246" width="3" height="3" fill="#00ff00"/>
<rect x="1036" y="223" width="1" height="27" fill="#ff0000"/>
<rect x="1035" y="232" width="3" height="17" fill="#ff0000"/>
<rect x="1040" y="217" width="1" height="22" fill="#ff0000"/>
<rect x="1039" y="226" width="3" height="7" fill="#ff0000"/>
<rect x="1044" y="193" width="1" height="34" fill="#ff0000"/>
<rect x="1043" y="194" width="3" height="33" fill="#ff0000"/>
<rect x="1048" y="181" width="1" height="20" fill="#00ff00"/>
<rect x="1047" y="194" width="3" height="5" fill="#00ff00"/>
<rect x="1052" y="197" width="1" height="6" fill="#00ff00"/>
<rect x="1051" y="198" width="3" height="2" fill="#00ff00"/>
<rect x="1056" y="182" width="1" height="27" fill="#00ff00"/>
<rect x="1055" y="183" width="3" height="25" fill="#00ff00"/>
<rect x="1060" y="199" width="1" height="23" fill="#00ff00"/>
<rect x="1059" y="207" width="3" height="6" fill="#00ff00"/>
<rect x="1064" y="198" width="1" height="16" fill="#ff0000"/>
<rect x="1063" y="205" width="3" height="8" fill="#ff0000"/>
<rect x="1068" y="204" width="1" height="21" fill="#00ff00"/>
<rect x="1067" y="206" width="3" height="17" fill="#00ff00"/>
<rect x="1072" y="214" width="1" height="35" fill="#00ff00"/>
<rect x="1071" y="222" width="3" height="20" fill="#00ff00"/>
<rect x="1076" y="229" width="1" height="19" fill="#00ff00"/>
<rect x="1075" y="241" width="3" height="6" fill="#00ff00"/>
<rect x="1080" y="238" width="1" height="36" fill="#00ff00"/>
<rect x="1079" y="246" width="3" height="22" fill="#00ff00"/>
<rect x="1084" y="244" width="1" height="46" fill="#00ff00"/>
<rect x="1083" y="268" width="3" height="21" fill="#00ff00"/>
<rect x="1088" y="272" width="1" height="36" fill="#00ff00"/>
<rect x="1087" y="288" width="3" height="18" fill="#00ff00"/>
<rect x="1092" y="281" width="1" height="27" fill="#ff0000"/>
<rect x="1091" y="288" width="3" height="18" fill="#ff0000"/>
<rect x="1096" y="266" width="1" height="35" fill="#00ff00"/>
<rect x="1095" y="289" width="3" height="3" fill="#00ff00"/>
<rect x="1100" y="290" width="1" height="5" fill="#00ff00"/>
<rect x="1099" y="291" width="3" height="3" fill="#00ff00"/>
<rect x="1104" y="269" width="1" height="50" fill="#ff0000"/>
<rect x="1103" y="279" width="3" height="20" fill="#ff0000"/>
<rect x="1108" y="262" width="1" height="33" fill="#ff0000"/>
<rect x="1107" y="266" width="3" height="14" fill="#ff0000"/>
<rect x="1112" y="261" width="1" height="18" fill="#00ff00"/>
<rect x="1111" y="266" width="3" height="3" fill="#00ff00"/>
<rect x="1116" y="195" width="1" height="74" fill="#ff0000"/>
<rect x="1115" y="196" width="3" height="72" fill="#ff0000"/>
<rect x="1120" y="185" width="1" height="57" fill="#00ff00"/>
<rect x="1119" y="196" width="3" height="13" fill="#00ff00"/>
<rect x="1124" y="203" width="1" height="10" fill="#ff0000"/>
<rect x="1123" y="206" width="3" height="3" fill="#ff0000"/>
<rect x="1128" y="205" width="1" height="36" fill="#00ff00"/>
<rect x="1127" y="224" width="3" height="11" fill="#00ff00"/>
<rect x="1132" y="192" width="1" height="48" fill="#ff0000"/>
<rect x="1131" y="204" width="3" height="31" fill="#ff0000"/>
<rect x="1136" y="160" width="1" height="56" fill="#ff0000"/>
<rect x="1135" y="160" width="3" height="46" fill="#ff0000"/>
<rect x="1140" y="83" width="1" height="87" fill="#ff0000"/>
<rect x="1139" y="99" width="3" height="63" fill="#ff0000"/>
<rect x="1144" y="86" width="1" height="86" fill="#00ff00"/>
<rect x="1143" y="99" width="3" height="16" fill="#00ff00"/>
<rect x="1148" y="107" width="1" height="13" fill="#ff0000"/>
<rect x="1147" y="113" width="3" height="1" fill="#ff0000"/>
<rect x="1152" y="95" width="1" height="56" fill="#00ff00"/>
<rect x="1151" y="114" width="3" height="4" fill="#00ff00"/>
<rect x="1156" y="112" width="1" height="60" fill="#00ff00"/>
<rect x="1155" y="117" width="3" height="42" fill="#00ff00"/>
<rect x="1160" y="104" width="1" height="76" fill="#ff0000"/>
<rect x="1159" y="111" width="3" height="48" fill="#ff0000"/>
<rect x="1164" y="106" width="1" height="50" fill="#00ff00"/>
<rect x="1163" y="111" width="3" height="45" fill="#00ff00"/>
<rect x="1168" y="126" width="1" height="48" fill="#ff0000"/>
<rect x="1167" y="137" width="3" height="19" fill="#ff0000"/>
<rect x="1172" y="134" width="1" height="22" fill="#00ff00"/>
<rect x="1171" y="136" width="3" height="15" fill="#00ff00"/>
<rect x="1176" y="122" width="1" height="29" fill="#ff0000"/>
<rect x="1175" y="124" width="3" height="26" fill="#ff0000"/>
<rect x="1180" y="123" width="1" height="38" fill="#00ff00"/>
<rect x="1179" y="124" width="3" height="32" fill="#00ff00"/>
<rect x="1184" y="126" width="1" height="37" fill="#ff0000"/>
<rect x="1183" y="132" width="3" height="25" fill="#ff0000"/>
<rect x="1188" y="104" width="1" height="50" fill="#00ff00"/>
<rect x="1187" y="131" width="3" height="23" fill="#00ff00"/>
<rect x="1192" y="124" width="1" height="32" fill="#ff0000"/>
<rect x="1191" y="126" width="3" height="28" fill="#ff0000"/>
<rect x="1196" y="125" width="1" height="13" fill="#00ff00"/>
<rect x="1195" y="126" width="3" height="11" fill="#00ff00"/>
<rect x="1200" y="125" width="1" height="20" fill="#00ff00"/>
<rect x="1199" y="136" width="3" height="4" fill="#00ff00"/>
<rect x="1204" y="133" width="1" height="57" fill="#00ff00"/>
<rect x="1203" y="138" width="3" height="46" fill="#00ff00"/>
<rect x="1208" y="159" width="1" height="27" fill="#ff0000"/>
<rect x="1207" y="167" width="3" height="17" fill="#ff0000"/>
<rect x="1212" y="157" width="1" height="32" fill="#00ff00"/>
<rect x="1211" y="167" width="3" height="20" fill="#00ff00"/>
<rect x="1216" y="177" width="1" height="24" fill="#00ff00"/>
<rect x="1215" y="186" width="3" height="4" fill="#00ff00"/>
<rect x="1220" y="188" width="1" height="6" fill="#00ff00"/>
<rect x="1219" y="189" width="3" height="4" fill="#00ff00"/>
<rect x="1224" y="178" width="1" height="15" fill="#ff0000"/>
<rect x="1223" y="183" width="3" height="7" fill="#ff0000"/>
<rect x="1228" y="172" width="1" height="23" fill="#00ff00"/>
<rect x="1227" y="183" width="3" height="6" fill="#00ff00"/>
<rect x="1232" y="162" width="1" height="36" fill="#ff0000"/>
<rect x="1231" y="166" width="3" height="26" fill="#ff0000"/>
<rect x="1236" y="153" width="1" height="21" fill="#ff0000"/>
<rect x="1235" y="156" width="3" height="13" fill="#ff0000"/>
<rect x="1240" y="149" width="1" height="22" fill="#00ff00"/>
<rect x="1239" y="157" width="3" height="5" fill="#00ff00"/>
<rect x="1244" y="160" width="1" height="4" fill="#00ff00"/>
<rect x="1243" y="161" width="3" height="2" fill="#00ff00"/>
<rect x="1248" y="154" width="1" height="13" fill="#ff0000"/>
<rect x="1247" y="160" width="3" height="1" fill="#ff0000"/>
<rect x="1252" y="134" width="1" height="28" fill="#ff0000"/>
<rect x="1251" y="139" width="3" height="23" fill="#ff0000"/>
<rect x="1256" y="136" width="1" height="13" fill="#00ff00"/>
<rect x="1255" y="139" width="3" height="1" fill="#00ff00"/>
<rect x="1260" y="138" width="1" height="24" fill="#00ff00"/>
<rect x="1259" y="142" width="3" height="16" fill="#00ff00"/>
<rect x="1264" y="144" width="1" height="16" fill="#ff0000"/>
<rect x="1263" y="146" width="3" height="12" fill="#ff0000"/>
<rect x="1268" y="145" width="1" height="5" fill="#00ff00"/>
<rect x="1267" y="146" width="3" height="3" fill="#00ff00"/>
<path d="M4 493h1v1h-1zM5 494h1v1h-1zM6 495h1v2h-1zM7 497h1v1h-1zM8 498h1v1h-1zM9 498h1v1h-1zM10 499h1v1h-1zM11 499h1v1h-1zM12 499h1v1h-1zM13 499h1v1h-1zM14 500h1v1h-1zM15 500h1v1h-1zM16 500h1v1h-1zM17 500h1v1h-1zM18 499h1v1h-1zM19 499h1v1h-1zM20 499h1v1h-1zM21 498h1v1h-1zM22 498h1v1h-1zM23 497h1v1h-1zM24 496h1v2h-1zM25 494h1v2h-1zM26 492h1v2h-1zM27 490h1v2h-1zM28 488h1v2h-1zM29 486h1v2h-1zM30 484h1v2h-1zM31 482h1v2h-1zM32 480h1v2h-1zM33 478h1v2h-1zM34 477h1v1h-1zM35 475h1v2h-1zM36 474h1v1h-1zM37 473h1v1h-1zM38 472h1v1h-1zM39 471h1v1h-1zM40 470h1v1h-1zM41 469h1v1h-1zM42 468h1v1h-1zM43 468h1v1h-1zM44 467h1v1h-1zM45 466h1v1h-1zM46 466h1v1h-1zM47 465h1v1h-1zM48 465h1v1h-1zM49 466h1v2h-1zM50 468h1v1h-1zM51 469h1v2h-1zM52 471h1v1h-1zM53 470h1v1h-1zM54 470h1v1h-1zM55 469h1v1h-1zM56 469h1v1h-1zM57 469h1v1h-1zM58 468h1v1h-1zM59 468h1v1h-1zM60 468h1v1h-1zM61 468h1v1h-1zM62 469h1v1h-1zM63 469h1v1h-1zM64 469h1v1h-1zM65 469h1v1h-1zM66 470h1v1h-1zM67 470h1v1h-1zM68 466h1v5h-1zM69 458h1v8h-1zM70 450h1v8h-1zM71 442h1v8h-1zM72 434h1v8h-1zM73 427h1v7h-1zM74 420h1v7h-1zM75 413h1v7h-1zM76 406h1v7h-1zM77 398h1v8h-1zM78 391h1v7h-1zM79 383h1v8h-1zM80 375h1v8h-1zM81 367h1v8h-1zM82 359h1v8h-1zM83 351h1v8h-1zM84 342h1v9h-1zM85 333h1v9h-1zM86 323h1v10h-1zM87 314h1v9h-1zM88 309h1v5h-1zM89 307h1v2h-1zM90 306h1v1h-1zM91 304h1v2h-1zM92 303h1v1h-1zM93 301h1v2h-1zM94 299h1v2h-1zM95 297h1v2h-1zM96 296h1v1h-1zM97 295h1v1h-1zM98 293h1v2h-1zM99 292h1v1h-1zM100 291h1v1h-1zM101 290h1v1h-1zM102 289h1v1h-1zM103 289h1v1h-1zM104 288h1v1h-1zM105 289h1v1h-1zM106 289h1v1h-1zM107 290h1v1h-1zM108 290h1v1h-1zM109 291h1v1h-1zM110 292h1v2h-1zM111 294h1v1h-1zM112 295h1v1h-1zM113 296h1v1h-1zM114 297h1v2h-1zM115 299h1v1h-1zM116 300h1v1h-1zM117 301h1v1h-1zM118 302h1v2h-1zM119 304h1v1h-1zM120 305h1v1h-1zM121 306h1v1h-1zM122 307h1v1h-1zM123 307h1v1h-1zM124 308h1v1h-1zM125 307h1v1h-1zM126 307h1v1h-1zM127 306h1v1h-1zM128 306h1v1h-1zM129 306h1v1h-1zM130 305h1v1h-1zM131 305h1v1h-1zM132 305h1v1h-1zM133 304h1v1h-1zM134 303h1v1h-1zM135 302h1v1h-1zM136 301h1v1h-1zM137 300h1v1h-1zM138 299h1v1h-1zM139 298h1v1h-1zM140 297h1v1h-1zM141 296h1v1h-1zM142 296h1v1h-1zM143 295h1v1h-1zM144 295h1v1h-1zM145 296h1v1h-1zM146 296h1v1h-1zM147 297h1v1h-1zM148 297h1v1h-1zM149 297h1v1h-1zM150 296h1v1h-1zM151 296h1v1h-1zM152 296h1v1h-1zM153 297h1v1h-1zM154 297h1v1h-1zM155 298h1v1h-1zM156 298h1v1h-1zM157 297h1v1h-1zM158 297h1v1h-1zM159 296h1v1h-1zM160 296h1v1h-1zM161 295h1v1h-1zM162 294h1v1h-1zM163 294h1v1h-1zM164 293h1v1h-1zM165 292h1v1h-1zM166 291h1v1h-1zM167 291h1v1h-1zM168 290h1v1h-1zM169 290h1v1h-1zM170 291h1v1h-1zM171 291h1v1h-1zM172 291h1v1h-1zM173 291h1v1h-1zM174 290h1v1h-1zM175 290h1v1h-1zM176 290h1v1h-1zM177 291h1v1h-1zM178 291h1v1h-1zM179 292h1v1h-1zM180 292h1v1h-1zM181 292h1v1h-1zM182 293h1v1h-1zM183 293h1v1h-1zM184 293h1v1h-1zM185 293h1v1h-1zM186 294h1v1h-1zM187 294h1v1h-1zM188 294h1v1h-1zM189 294h1v1h-1zM190 293h1v1h-1zM191 293h1v1h-1zM192 293h1v1h-1zM193 294h1v1h-1zM194 295h1v2h-1zM195 297h1v1h-1zM196 298h1v1h-1zM197 299h1v1h-1zM198 300h1v2h-1zM199 302h1v1h-1zM200 303h1v2h-1zM201 305h1v4h-1zM202 309h1v3h-1zM203 312h1v4h-1zM204 316h1v3h-1zM205 319h1v3h-1zM206 322h1v2h-1zM207 324h1v3h-1zM208 327h1v3h-1zM209 330h1v3h-1zM210 333h1v4h-1zM211 337h1v3h-1zM212 340h1v2h-1zM213 342h1v2h-1zM214 344h1v1h-1zM215 345h1v2h-1zM216 347h1v1h-1zM217 348h1v1h-1zM218 349h1v1h-1zM219 350h1v1h-1zM220 351h1v1h-1zM221 350h1v1h-1zM222 348h1v2h-1zM223 347h1v1h-1zM224 346h1v1h-1zM225 346h1v1h-1zM226 345h1v1h-1zM227 345h1v1h-1zM228 345h1v1h-1zM229 345h1v1h-1zM230 344h1v1h-1zM231 344h1v1h-1zM232 344h1v1h-1zM233 344h1v1h-1zM234 345h1v1h-1zM235 345h1v1h-1zM236 345h1v1h-1zM237 346h1v1h-1zM238 347h1v1h-1zM239 347h1v1h-1zM240 348h1v1h-1zM241 348h1v1h-1zM242 347h1v1h-1zM243 347h1v1h-1zM244 347h1v1h-1zM245 347h1v1h-1zM246 346h1v1h-1zM247 346h1v1h-1zM248 346h1v1h-1zM249 346h1v1h-1zM250 345h1v1h-1zM251 345h1v1h-1zM252 345h1v1h-1zM253 344h1v1h-1zM254 342h1v2h-1zM255 341h1v1h-1zM256 340h1v1h-1zM257 338h1v2h-1zM258 337h1v1h-1zM259 335h1v2h-1zM260 334h1v1h-1zM261 334h1v1h-1zM262 333h1v1h-1zM263 333h1v1h-1zM264 333h1v1h-1zM265 333h1v1h-1zM266 332h1v1h-1zM267 332h1v1h-1zM268 332h1v1h-1zM269 332h1v1h-1zM270 332h1v1h-1zM271 332h1v1h-1zM272 332h1v1h-1zM273 333h1v1h-1zM274 334h1v2h-1zM275 336h1v1h-1zM276 337h1v1h-1zM277 338h1v1h-1zM278 338h1v1h-1zM279 339h1v1h-1zM280 339h1v1h-1zM281 340h1v1h-1zM282 340h1v1h-1zM283 341h1v1h-1zM284 341h1v1h-1zM285 342h1v1h-1zM286 343h1v1h-1zM287 343h1v1h-1zM288 344h1v1h-1zM289 344h1v1h-1zM290 343h1v1h-1zM291 343h1v1h-1zM292 343h1v1h-1zM293 343h1v1h-1zM294 342h1v1h-1zM295 342h1v1h-1zM296 342h1v1h-1zM297 342h1v1h-1zM298 342h1v1h-1zM299 342h1v1h-1zM300 342h1v1h-1zM301 342h1v1h-1zM302 341h1v1h-1zM303 341h1v1h-1zM304 341h1v1h-1zM305 341h1v1h-1zM306 340h1v1h-1zM307 340h1v1h-1zM308 340h1v1h-1zM309 340h1v1h-1zM310 340h1v1h-1zM311 340h1v1h-1zM312 340h1v1h-1zM313 339h1v1h-1zM314 339h1v1h-1zM315 338h1v1h-1zM316 338h1v1h-1zM317 339h1v1h-1zM318 339h1v1h-1zM319 340h1v1h-1zM320 340h1v1h-1zM321 341h1v1h-1zM322 342h1v1h-1zM323 342h1v1h-1zM324 343h1v1h-1zM325 343h1v1h-1zM326 343h1v1h-1zM327 343h1v1h-1zM328 343h1v1h-1zM329 343h1v1h-1zM330 343h1v1h-1zM331 343h1v1h-1zM332 343h1v1h-1zM333 342h1v1h-1zM334 342h1v1h-1zM335 341h1v1h-1zM336 341h1v1h-1zM337 340h1v1h-1zM338 339h1v1h-1zM339 339h1v1h-1zM340 338h1v1h-1zM341 337h1v1h-1zM342 336h1v1h-1zM343 336h1v1h-1zM344 335h1v1h-1zM345 334h1v1h-1zM346 332h1v2h-1zM347 331h1v1h-1zM348 329h1v2h-1zM349 325h1v4h-1zM350 321h1v4h-1zM351 317h1v4h-1zM352 314h1v3h-1zM353 310h1v4h-1zM354 306h1v4h-1zM355 302h1v4h-1zM356 295h1v7h-1zM357 286h1v9h-1zM358 276h1v10h-1zM359 267h1v9h-1zM360 259h1v8h-1zM361 251h1v8h-1zM362 244h1v7h-1zM363 236h1v8h-1zM364 229h1v7h-1zM365 221h1v8h-1zM366 213h1v8h-1zM367 205h1v8h-1zM368 198h1v7h-1zM369 194h1v4h-1zM370 189h1v5h-1zM371 185h1v4h-1zM372 180h1v5h-1zM373 174h1v6h-1zM374 169h1v5h-1zM375 163h1v6h-1zM376 160h1v3h-1zM377 160h1v1h-1zM378 161h1v1h-1zM379 161h1v1h-1zM380 161h1v1h-1zM381 159h1v2h-1zM382 157h1v2h-1zM383 155h1v2h-1zM384 153h1v2h-1zM385 155h1v3h-1zM386 158h1v4h-1zM387 162h1v3h-1zM388 165h1v2h-1zM389 167h1v1h-1zM390 167h1v1h-1zM391 168h1v1h-1zM392 168h1v2h-1zM393 170h1v2h-1zM394 172h1v3h-1zM395 175h1v2h-1zM396 177h1v2h-1zM397 179h1v2h-1zM398 181h1v2h-1zM399 183h1v2h-1zM400 185h1v3h-1zM401 188h1v2h-1zM402 190h1v3h-1zM403 193h1v2h-1zM404 195h1v2h-1zM405 193h1v2h-1zM406 191h1v2h-1zM407 189h1v2h-1zM408 187h1v2h-1zM409 186h1v1h-1zM410 185h1v1h-1zM411 184h1v1h-1zM412 183h1v1h-1zM413 182h1v1h-1zM414 181h1v1h-1zM415 181h1v1h-1zM416 180h1v1h-1zM417 178h1v2h-1zM418 176h1v2h-1zM419 174h1v2h-1zM420 171h1v3h-1zM421 167h1v4h-1zM422 163h1v4h-1zM423 159h1v4h-1zM424 156h1v3h-1zM425 153h1v3h-1zM426 149h1v4h-1zM427 146h1v3h-1zM428 142h1v4h-1zM429 138h1v4h-1zM430 133h1v5h-1zM431 129h1v4h-1zM432 124h1v5h-1zM433 120h1v4h-1zM434 115h1v5h-1zM435 111h1v4h-1zM436 107h1v4h-1zM437 103h1v4h-1zM438 100h1v3h-1zM439 96h1v4h-1zM440 94h1v2h-1zM441 93h1v1h-1zM442 92h1v1h-1zM443 92h1v1h-1zM444 91h1v1h-1zM445 90h1v1h-1zM446 88h1v2h-1zM447 87h1v1h-1zM448 86h1v1h-1zM449 86h1v1h-1zM450 87h1v1h-1zM451 87h1v1h-1zM452 87h1v1h-1zM453 86h1v1h-1zM454 85h1v1h-1zM455 84h1v1h-1zM456 83h1v1h-1zM457 82h1v1h-1zM458 82h1v1h-1zM459 81h1v1h-1zM460 81h1v1h-1zM461 81h1v1h-1zM462 81h1v1h-1zM463 81h1v1h-1zM464 81h1v1h-1zM465 82h1v1h-1zM466 83h1v2h-1zM467 85h1v1h-1zM468 86h1v2h-1zM469 88h1v2h-1zM470 90h1v2h-1zM471 92h1v2h-1zM472 94h1v3h-1zM473 97h1v4h-1zM474 101h1v4h-1zM475 105h1v4h-1zM476 109h1v3h-1zM477 112h1v3h-1zM478 115h1v2h-1zM479 117h1v3h-1zM480 120h1v2h-1zM481 122h1v2h-1zM482 124h1v1h-1zM483 125h1v2h-1zM484 127h1v1h-1zM485 128h1v1h-1zM486 129h1v2h-1zM487 131h1v1h-1zM488 132h1v2h-1zM489 134h1v2h-1zM490 136h1v2h-1zM491 138h1v2h-1zM492 140h1v3h-1zM493 143h1v3h-1zM494 146h1v4h-1zM495 150h1v3h-1zM496 153h1v3h-1zM497 156h1v4h-1zM498 160h1v3h-1zM499 163h1v4h-1zM500 167h1v2h-1zM501 169h1v2h-1zM502 171h1v2h-1zM503 173h1v2h-1zM504 175h1v2h-1zM505 177h1v1h-1zM506 178h1v1h-1zM507 179h1v1h-1zM508 180h1v1h-1zM509 179h1v1h-1zM510 179h1v1h-1zM511 178h1v1h-1zM512 177h1v2h-1zM513 174h1v3h-1zM514 171h1v3h-1zM515 168h1v3h-1zM516 166h1v2h-1zM517 164h1v2h-1zM518 162h1v2h-1zM519 160h1v2h-1zM520 157h1v3h-1zM521 155h1v2h-1zM522 152h1v3h-1zM523 150h1v2h-1zM524 148h1v2h-1zM525 147h1v1h-1zM526 145h1v2h-1zM527 144h1v1h-1zM528 143h1v1h-1zM529 141h1v2h-1zM530 140h1v1h-1zM531 138h1v2h-1zM532 137h1v1h-1zM533 135h1v2h-1zM534 133h1v2h-1zM535 131h1v2h-1zM536 130h1v1h-1zM537 128h1v2h-1zM538 126h1v2h-1zM539 124h1v2h-1zM540 123h1v1h-1zM541 122h1v1h-1zM542 121h1v1h-1zM543 120h1v1h-1zM544 119h1v1h-1zM545 118h1v1h-1zM546 116h1v2h-1zM547 115h1v1h-1zM548 114h1v1h-1zM549 113h1v1h-1zM550 111h1v2h-1zM551 110h1v1h-1zM552 109h1v1h-1zM553 108h1v1h-1zM554 107h1v1h-1zM555 107h1v1h-1zM556 106h1v1h-1zM557 105h1v1h-1zM558 104h1v1h-1zM559 104h1v1h-1zM560 103h1v1h-1zM561 103h1v1h-1zM562 104h1v1h-1zM563 104h1v1h-1zM564 104h1v1h-1zM565 105h1v2h-1zM566 107h1v1h-1zM567 108h1v2h-1zM568 110h1v1h-1zM569 111h1v2h-1zM570 113h1v1h-1zM571 114h1v2h-1zM572 116h1v1h-1zM573 117h1v1h-1zM574 118h1v1h-1zM575 119h1v1h-1zM576 120h1v1h-1zM577 119h1v1h-1zM578 119h1v1h-1zM579 118h1v1h-1zM580 118h1v1h-1zM581 118h1v1h-1zM582 117h1v1h-1zM583 117h1v1h-1zM584 117h1v1h-1zM585 117h1v1h-1zM586 118h1v1h-1zM587 118h1v1h-1zM588 118h1v1h-1zM589 119h1v1h-1zM590 120h1v2h-1zM591 122h1v1h-1zM592 123h1v2h-1zM593 125h1v2h-1zM594 127h1v3h-1zM595 130h1v2h-1zM596 132h1v3h-1zM597 135h1v4h-1zM598 139h1v4h-1zM599 143h1v4h-1zM600 147h1v3h-1zM601 150h1v3h-1zM602 153h1v2h-1zM603 155h1v3h-1zM604 158h1v2h-1zM605 159h1v1h-1zM606 160h1v1h-1zM607 160h1v1h-1zM608 160h1v1h-1zM609 160h1v1h-1zM610 160h1v1h-1zM611 160h1v1h-1zM612 160h1v1h-1zM613 160h1v1h-1zM614 159h1v1h-1zM615 159h1v1h-1zM616 159h1v1h-1zM617 159h1v1h-1zM618 158h1v1h-1zM619 158h1v1h-1zM620 158h1v1h-1zM621 159h1v1h-1zM622 160h1v1h-1zM623 160h1v1h-1zM624 161h1v1h-1zM625 162h1v1h-1zM626 163h1v1h-1zM627 164h1v1h-1zM628 165h1v1h-1zM629 166h1v1h-1zM630 167h1v1h-1zM631 167h1v1h-1zM632 168h1v1h-1zM633 169h1v1h-1zM634 169h1v1h-1zM635 170h1v1h-1zM636 170h1v1h-1zM637 171h1v1h-1zM638 172h1v1h-1zM639 172h1v1h-1zM640 173h1v1h-1zM641 174h1v1h-1zM642 175h1v1h-1zM643 175h1v1h-1zM644 176h1v1h-1zM645 177h1v1h-1zM646 177h1v1h-1zM647 178h1v1h-1zM648 178h1v1h-1zM649 178h1v1h-1zM650 178h1v1h-1zM651 178h1v1h-1zM652 178h1v1h-1zM653 179h1v1h-1zM654 180h1v1h-1zM655 180h1v1h-1zM656 181h1v1h-1zM657 182h1v1h-1zM658 182h1v1h-1zM659 183h1v1h-1zM660 183h1v1h-1zM661 184h1v1h-1zM662 185h1v1h-1zM663 185h1v1h-1zM664 186h1v1h-1zM665 187h1v1h-1zM666 188h1v1h-1zM667 188h1v1h-1zM668 189h1v1h-1zM669 190h1v2h-1zM670 192h1v2h-1zM671 194h1v2h-1zM672 196h1v2h-1zM673 198h1v2h-1zM674 200h1v3h-1zM675 203h1v2h-1zM676 205h1v2h-1zM677 207h1v2h-1zM678 209h1v2h-1zM679 211h1v2h-1zM680 213h1v3h-1zM681 216h1v3h-1zM682 219h1v2h-1zM683 221h1v3h-1zM684 224h1v3h-1zM685 227h1v2h-1zM686 229h1v2h-1zM687 231h1v2h-1zM688 233h1v2h-1zM689 235h1v2h-1zM690 237h1v2h-1zM691 239h1v2h-1zM692 241h1v1h-1zM693 240h1v1h-1zM694 240h1v1h-1zM695 239h1v1h-1zM696 239h1v1h-1zM697 238h1v1h-1zM698 237h1v1h-1zM699 237h1v1h-1zM700 235h1v2h-1zM701 233h1v2h-1zM702 231h1v2h-1zM703 229h1v2h-1zM704 227h1v2h-1zM705 225h1v2h-1zM706 224h1v1h-1zM707 222h1v2h-1zM708 221h1v1h-1zM709 220h1v1h-1zM710 220h1v1h-1zM711 219h1v1h-1zM712 219h1v1h-1zM713 219h1v1h-1zM714 220h1v1h-1zM715 220h1v1h-1zM716 220h1v1h-1zM717 219h1v1h-1zM718 218h1v1h-1zM719 218h1v1h-1zM720 217h1v1h-1zM721 217h1v1h-1zM722 217h1v1h-1zM723 217h1v1h-1zM724 217h1v1h-1zM725 216h1v1h-1zM726 216h1v1h-1zM727 215h1v1h-1zM728 215h1v1h-1zM729 214h1v1h-1zM730 212h1v2h-1zM731 211h1v1h-1zM732 210h1v1h-1zM733 208h1v2h-1zM734 206h1v2h-1zM735 204h1v2h-1zM736 202h1v2h-1zM737 201h1v1h-1zM738 200h1v1h-1zM739 200h1v1h-1zM740 199h1v1h-1zM741 199h1v1h-1zM742 199h1v1h-1zM743 199h1v1h-1zM744 199h1v1h-1zM745 200h1v1h-1zM746 201h1v1h-1zM747 201h1v1h-1zM748 202h1v1h-1zM749 203h1v1h-1zM750 203h1v1h-1zM751 204h1v1h-1zM752 204h1v1h-1zM753 205h1v1h-1zM754 206h1v1h-1zM755 206h1v1h-1zM756 207h1v1h-1zM757 208h1v1h-1zM758 208h1v1h-1zM759 209h1v1h-1zM760 209h1v1h-1zM761 209h1v1h-1zM762 209h1v1h-1zM763 209h1v1h-1zM764 209h1v1h-1zM765 208h1v1h-1zM766 206h1v2h-1zM767 205h1v1h-1zM768 203h1v2h-1zM769 201h1v2h-1zM770 198h1v3h-1zM771 196h1v2h-1zM772 194h1v2h-1zM773 193h1v1h-1zM774 192h1v1h-1zM775 192h1v1h-1zM776 191h1v1h-1zM777 191h1v1h-1zM778 190h1v1h-1zM779 190h1v1h-1zM780 190h1v1h-1zM781 190h1v1h-1zM782 190h1v1h-1zM783 190h1v1h-1zM784 190h1v1h-1zM785 191h1v1h-1zM786 192h1v1h-1zM787 193h1v1h-1zM788 194h1v1h-1zM789 195h1v2h-1zM790 197h1v2h-1zM791 199h1v2h-1zM792 201h1v1h-1zM793 202h1v1h-1zM794 203h1v1h-1zM795 203h1v1h-1zM796 204h1v1h-1zM797 204h1v1h-1zM798 205h1v1h-1zM799 205h1v1h-1zM800 205h1v2h-1zM801 207h1v2h-1zM802 209h1v3h-1zM803 212h1v2h-1zM804 214h1v2h-1zM805 215h1v1h-1zM806 216h1v1h-1zM807 216h1v1h-1zM808 216h1v1h-1zM809 217h1v2h-1zM810 219h1v2h-1zM811 221h1v2h-1zM812 223h1v1h-1zM813 224h1v2h-1zM814 226h1v2h-1zM815 228h1v2h-1zM816 230h1v1h-1zM817 231h1v2h-1zM818 233h1v2h-1zM819 235h1v2h-1zM820 237h1v1h-1zM821 236h1v1h-1zM822 235h1v1h-1zM823 234h1v1h-1zM824 233h1v1h-1zM825 234h1v1h-1zM826 235h1v1h-1zM827 235h1v1h-1zM828 236h1v1h-1zM829 236h1v1h-1zM830 237h1v1h-1zM831 237h1v1h-1zM832 237h1v1h-1zM833 236h1v1h-1zM834 236h1v1h-1zM835 235h1v1h-1zM836 235h1v1h-1zM837 234h1v1h-1zM838 233h1v1h-1zM839 233h1v1h-1zM840 232h1v1h-1zM841 232h1v1h-1zM842 231h1v1h-1zM843 231h1v1h-1zM844 231h1v1h-1zM845 231h1v1h-1zM846 230h1v1h-1zM847 230h1v1h-1zM848 230h1v1h-1zM849 231h1v1h-1zM850 231h1v1h-1zM851 232h1v1h-1zM852 232h1v1h-1zM853 232h1v1h-1zM854 233h1v1h-1zM855 233h1v1h-1zM856 233h1v1h-1zM857 234h1v1h-1zM858 235h1v1h-1zM859 235h1v1h-1zM860 236h1v1h-1zM861 237h1v1h-1zM862 238h1v2h-1zM863 240h1v1h-1zM864 241h1v1h-1zM865 242h1v2h-1zM866 244h1v2h-1zM867 246h1v2h-1zM868 248h1v1h-1zM869 249h1v2h-1zM870 251h1v1h-1zM871 252h1v2h-1zM872 254h1v1h-1zM873 255h1v2h-1zM874 257h1v1h-1zM875 258h1v2h-1zM876 260h1v1h-1zM877 261h1v1h-1zM878 262h1v2h-1zM879 264h1v1h-1zM880 265h1v1h-1zM881 266h1v1h-1zM882 266h1v1h-1zM883 267h1v1h-1zM884 267h1v1h-1zM885 267h1v1h-1zM886 266h1v1h-1zM887 266h1v1h-1zM888 266h1v1h-1zM889 267h1v1h-1zM890 267h1v1h-1zM891 268h1v1h-1zM892 268h1v1h-1zM893 269h1v1h-1zM894 270h1v1h-1zM895 270h1v1h-1zM896 271h1v1h-1zM897 272h1v2h-1zM898 274h1v2h-1zM899 276h1v2h-1zM900 278h1v2h-1zM901 280h1v2h-1zM902 282h1v2h-1zM903 284h1v2h-1zM904 286h1v3h-1zM905 289h1v3h-1zM906 292h1v2h-1zM907 294h1v3h-1zM908 297h1v3h-1zM909 300h1v3h-1zM910 303h1v2h-1zM911 305h1v3h-1zM912 308h1v3h-1zM913 311h1v3h-1zM914 314h1v2h-1zM915 316h1v3h-1zM916 319h1v2h-1zM917 321h1v2h-1zM918 323h1v1h-1zM919 324h1v2h-1zM920 326h1v1h-1zM921 327h1v2h-1zM922 329h1v2h-1zM923 331h1v2h-1zM924 333h1v2h-1zM925 335h1v2h-1zM926 337h1v2h-1zM927 339h1v2h-1zM928 341h1v2h-1zM929 343h1v1h-1zM930 344h1v1h-1zM931 344h1v1h-1zM932 345h1v1h-1zM933 346h1v1h-1zM934 347h1v1h-1zM935 347h1v1h-1zM936 348h1v1h-1zM937 347h1v1h-1zM938 346h1v1h-1zM939 346h1v1h-1zM940 345h1v1h-1zM941 343h1v2h-1zM942 341h1v2h-1zM943 339h1v2h-1zM944 337h1v2h-1zM945 333h1v4h-1zM946 330h1v3h-1zM947 326h1v4h-1zM948 323h1v3h-1zM949 320h1v3h-1zM950 317h1v3h-1zM951 314h1v3h-1zM952 311h1v3h-1zM953 308h1v3h-1zM954 306h1v2h-1zM955 303h1v3h-1zM956 300h1v3h-1zM957 296h1v4h-1zM958 293h1v3h-1zM959 289h1v4h-1zM960 286h1v3h-1zM961 283h1v3h-1zM962 281h1v2h-1zM963 278h1v3h-1zM964 276h1v2h-1zM965 274h1v2h-1zM966 273h1v1h-1zM967 271h1v2h-1zM968 269h1v2h-1zM969 266h1v3h-1zM970 263h1v3h-1zM971 260h1v3h-1zM972 257h1v3h-1zM973 254h1v3h-1zM974 251h1v3h-1zM975 248h1v3h-1zM976 246h1v2h-1zM977 245h1v1h-1zM978 245h1v1h-1zM979 244h1v1h-1zM980 244h1v1h-1zM981 242h1v2h-1zM982 240h1v2h-1zM983 238h1v2h-1zM984 236h1v2h-1zM985 235h1v1h-1zM986 234h1v1h-1zM987 233h1v1h-1zM988 232h1v1h-1zM989 233h1v1h-1zM990 234h1v2h-1zM991 236h1v1h-1zM992 237h1v1h-1zM993 238h1v1h-1zM994 239h1v1h-1zM995 240h1v1h-1zM996 241h1v1h-1zM997 241h1v1h-1zM998 240h1v1h-1zM999 240h1v1h-1zM1000 240h1v1h-1zM1001 241h1v1h-1zM1002 241h1v1h-1zM1003 242h1v1h-1zM1004 242h1v1h-1zM1005 242h1v1h-1zM1006 242h1v1h-1zM1007 242h1v1h-1zM1008 242h1v1h-1zM1009 242h1v1h-1zM1010 243h1v1h-1zM1011 243h1v1h-1zM1012 243h1v1h-1zM1013 243h1v1h-1zM1014 243h1v1h-1zM1015 243h1v1h-1zM1016 243h1v1h-1zM1017 244h1v1h-1zM1018 245h1v1h-1zM1019 245h1v1h-1zM1020 246h1v1h-1zM1021 247h1v1h-1zM1022 248h1v1h-1zM1023 248h1v1h-1zM1024 249h1v1h-1zM1025 249h1v1h-1zM1026 248h1v1h-1zM1027 248h1v1h-1zM1028 248h1v1h-1zM1029 247h1v1h-1zM1030 247h1v1h-1zM1031 246h1v1h-1zM1032 246h1v1h-1zM1033 245h1v1h-1zM1034 243h1v2h-1zM1035 242h1v1h-1zM1036 241h1v1h-1zM1037 240h1v1h-1zM1038 239h1v1h-1zM1039 238h1v1h-1zM1040 236h1v2h-1zM1041 234h1v2h-1zM1042 232h1v2h-1zM1043 230h1v2h-1zM1044 228h1v2h-1zM1045 226h1v2h-1zM1046 224h1v2h-1zM1047 222h1v2h-1zM1048 219h1v3h-1zM1049 217h1v2h-1zM1050 214h1v3h-1zM1051 212h1v2h-1zM1052 210h1v2h-1zM1053 209h1v1h-1zM1054 207h1v2h-1zM1055 206h1v1h-1zM1056 205h1v1h-1zM1057 204h1v1h-1zM1058 204h1v1h-1zM1059 203h1v1h-1zM1060 203h1v1h-1zM1061 204h1v1h-1zM1062 204h1v1h-1zM1063 205h1v1h-1zM1064 205h1v1h-1zM1065 206h1v1h-1zM1066 207h1v2h-1zM1067 209h1v1h-1zM1068 210h1v1h-1zM1069 211h1v2h-1zM1070 213h1v2h-1zM1071 215h1v2h-1zM1072 217h1v2h-1zM1073 219h1v2h-1zM1074 221h1v2h-1zM1075 223h1v2h-1zM1076 225h1v3h-1zM1077 228h1v3h-1zM1078 231h1v2h-1zM1079 233h1v3h-1zM1080 236h1v4h-1zM1081 240h1v4h-1zM1082 244h1v4h-1zM1083 248h1v4h-1zM1084 252h1v4h-1zM1085 256h1v4h-1zM1086 260h1v4h-1zM1087 264h1v4h-1zM1088 268h1v4h-1zM1089 272h1v2h-1zM1090 274h1v3h-1zM1091 277h1v2h-1zM1092 279h1v3h-1zM1093 282h1v2h-1zM1094 284h1v2h-1zM1095 286h1v2h-1zM1096 288h1v2h-1zM1097 290h1v1h-1zM1098 291h1v2h-1zM1099 293h1v1h-1zM1100 294h1v1h-1zM1101 293h1v1h-1zM1102 293h1v1h-1zM1103 292h1v1h-1zM1104 291h1v2h-1zM1105 289h1v2h-1zM1106 287h1v2h-1zM1107 285h1v2h-1zM1108 283h1v2h-1zM1109 282h1v1h-1zM1110 281h1v1h-1zM1111 281h1v1h-1zM1112 278h1v3h-1zM1113 273h1v5h-1zM1114 269h1v4h-1zM1115 264h1v5h-1zM1116 259h1v5h-1zM1117 255h1v4h-1zM1118 251h1v4h-1zM1119 247h1v4h-1zM1120 243h1v4h-1zM1121 239h1v4h-1zM1122 235h1v4h-1zM1123 231h1v4h-1zM1124 229h1v2h-1zM1125 227h1v2h-1zM1126 226h1v1h-1zM1127 224h1v2h-1zM1128 222h1v2h-1zM1129 219h1v3h-1zM1130 215h1v4h-1zM1131 212h1v3h-1zM1132 210h1v2h-1zM1133 208h1v2h-1zM1134 206h1v2h-1zM1135 204h1v2h-1zM1136 201h1v3h-1zM1137 195h1v6h-1zM1138 190h1v5h-1zM1139 184h1v6h-1zM1140 179h1v5h-1zM1141 175h1v4h-1zM1142 170h1v5h-1zM1143 166h1v4h-1zM1144 160h1v6h-1zM1145 154h1v6h-1zM1146 148h1v6h-1zM1147 142h1v6h-1zM1148 136h1v6h-1zM1149 132h1v4h-1zM1150 128h1v4h-1zM1151 124h1v4h-1zM1152 121h1v3h-1zM1153 121h1v1h-1zM1154 121h1v1h-1zM1155 121h1v1h-1zM1156 121h1v1h-1zM1157 122h1v1h-1zM1158 122h1v1h-1zM1159 123h1v1h-1zM1160 123h1v1h-1zM1161 124h1v2h-1zM1162 126h1v2h-1zM1163 128h1v2h-1zM1164 130h1v2h-1zM1165 132h1v1h-1zM1166 133h1v2h-1zM1167 135h1v1h-1zM1168 136h1v1h-1zM1169 137h1v2h-1zM1170 139h1v2h-1zM1171 141h1v2h-1zM1172 143h1v1h-1zM1173 141h1v2h-1zM1174 139h1v2h-1zM1175 137h1v2h-1zM1176 136h1v2h-1zM1177 138h1v2h-1zM1178 140h1v2h-1zM1179 142h1v2h-1zM1180 144h1v2h-1zM1181 144h1v1h-1zM1182 142h1v2h-1zM1183 141h1v1h-1zM1184 140h1v1h-1zM1185 141h1v1h-1zM1186 142h1v1h-1zM1187 142h1v1h-1zM1188 143h1v1h-1zM1189 142h1v1h-1zM1190 140h1v2h-1zM1191 139h1v1h-1zM1192 138h1v1h-1zM1193 139h1v1h-1zM1194 140h1v1h-1zM1195 140h1v1h-1zM1196 141h1v1h-1zM1197 140h1v1h-1zM1198 139h1v1h-1zM1199 139h1v1h-1zM1200 138h1v2h-1zM1201 140h1v2h-1zM1202 142h1v3h-1zM1203 145h1v2h-1zM1204 147h1v2h-1zM1205 149h1v1h-1zM1206 150h1v1h-1zM1207 150h1v1h-1zM1208 151h1v2h-1zM1209 153h1v3h-1zM1210 156h1v3h-1zM1211 159h1v3h-1zM1212 162h1v3h-1zM1213 165h1v3h-1zM1214 168h1v2h-1zM1215 170h1v3h-1zM1216 173h1v3h-1zM1217 176h1v2h-1zM1218 178h1v3h-1zM1219 181h1v2h-1zM1220 183h1v2h-1zM1221 184h1v1h-1zM1222 184h1v1h-1zM1223 184h1v1h-1zM1224 184h1v1h-1zM1225 185h1v1h-1zM1226 186h1v1h-1zM1227 187h1v1h-1zM1228 188h1v1h-1zM1229 187h1v1h-1zM1230 186h1v1h-1zM1231 185h1v1h-1zM1232 184h1v1h-1zM1233 182h1v2h-1zM1234 181h1v1h-1zM1235 179h1v2h-1zM1236 178h1v1h-1zM1237 176h1v2h-1zM1238 174h1v2h-1zM1239 172h1v2h-1zM1240 171h1v1h-1zM1241 170h1v1h-1zM1242 169h1v1h-1zM1243 168h1v1h-1zM1244 167h1v1h-1zM1245 166h1v1h-1zM1246 164h1v2h-1zM1247 163h1v1h-1zM1248 162h1v1h-1zM1249 160h1v2h-1zM1250 159h1v1h-1zM1251 157h1v2h-1zM1252 156h1v1h-1zM1253 155h1v1h-1zM1254 154h1v1h-1zM1255 154h1v1h-1zM1256 153h1v1h-1zM1257 153h1v1h-1zM1258 152h1v1h-1zM1259 152h1v1h-1zM1260 152h1v1h-1zM1261 151h1v1h-1zM1262 150h1v1h-1zM1263 150h1v1h-1zM1264 149h1v1h-1z" fill="#ffa500"/>
<path d="M4 490h1v1h-1zM5 491h1v1h-1zM6 491h1v1h-1zM7 492h1v1h-1zM8 492h1v1h-1zM9 492h1v1h-1zM10 493h1v1h-1zM11 493h1v1h-1zM12 493h1v1h-1zM13 493h1v1h-1zM14 494h1v1h-1zM15 494h1v1h-1zM16 494h1v1h-1zM17 494h1v1h-1zM18 494h1v1h-1zM19 494h1v1h-1zM20 494h1v1h-1zM21 494h1v1h-1zM22 494h1v1h-1zM23 494h1v1h-1zM24 494h1v1h-1zM25 493h1v1h-1zM26 493h1v1h-1zM27 492h1v1h-1zM28 492h1v1h-1zM29 491h1v1h-1zM30 491h1v1h-1zM31 490h1v1h-1zM32 490h1v1h-1zM33 490h1v1h-1zM34 489h1v1h-1zM35 489h1v1h-1zM36 489h1v1h-1zM37 488h1v1h-1zM38 488h1v1h-1zM39 487h1v1h-1zM40 487h1v1h-1zM41 486h1v1h-1zM42 486h1v1h-1zM43 485h1v1h-1zM44 485h1v1h-1zM45 484h1v1h-1zM46 484h1v1h-1zM47 483h1v1h-1zM48 483h1v1h-1zM49 483h1v1h-1zM50 482h1v1h-1zM51 482h1v1h-1zM52 482h1v1h-1zM53 481h1v1h-1zM54 481h1v1h-1zM55 480h1v1h-1zM56 480h1v1h-1zM57 479h1v1h-1zM58 479h1v1h-1zM59 478h1v1h-1zM60 478h1v1h-1zM61 477h1v1h-1zM62 476h1v1h-1zM63 476h1v1h-1zM64 475h1v1h-1zM65 474h1v1h-1zM66 474h1v1h-1zM67 473h1v1h-1zM68 472h1v2h-1zM69 469h1v3h-1zM70 465h1v4h-1zM71 462h1v3h-1zM72 459h1v3h-1zM73 456h1v3h-1zM74 453h1v3h-1zM75 450h1v3h-1zM76 447h1v3h-1zM77 444h1v3h-1zM78 441h1v3h-1zM79 438h1v3h-1zM80 435h1v3h-1zM81 432h1v3h-1zM82 429h1v3h-1zM83 426h1v3h-1zM84 423h1v3h-1zM85 420h1v3h-1zM86 417h1v3h-1zM87 414h1v3h-1zM88 411h1v3h-1zM89 408h1v3h-1zM90 404h1v4h-1zM91 401h1v3h-1zM92 398h1v3h-1zM93 395h1v3h-1zM94 391h1v4h-1zM95 388h1v3h-1zM96 385h1v3h-1zM97 382h1v3h-1zM98 378h1v4h-1zM99 375h1v3h-1zM100 372h1v3h-1zM101 369h1v3h-1zM102 366h1v3h-1zM103 363h1v3h-1zM104 360h1v3h-1zM105 357h1v3h-1zM106 353h1v4h-1zM107 350h1v3h-1zM108 347h1v3h-1zM109 344h1v3h-1zM110 342h1v2h-1zM111 339h1v3h-1zM112 336h1v3h-1zM113 333h1v3h-1zM114 331h1v2h-1zM115 328h1v3h-1zM116 325h1v3h-1zM117 322h1v3h-1zM118 319h1v3h-1zM119 316h1v3h-1zM120 313h1v3h-1zM121 310h1v3h-1zM122 308h1v2h-1zM123 305h1v3h-1zM124 303h1v2h-1zM125 302h1v1h-1zM126 302h1v1h-1zM127 301h1v1h-1zM128 301h1v1h-1zM129 301h1v1h-1zM130 300h1v1h-1zM131 300h1v1h-1zM132 300h1v1h-1zM133 299h1v1h-1zM134 299h1v1h-1zM135 298h1v1h-1zM136 298h1v1h-1zM137 298h1v1h-1zM138 297h1v1h-1zM139 297h1v1h-1zM140 297h1v1h-1zM141 297h1v1h-1zM142 298h1v1h-1zM143 298h1v1h-1zM144 298h1v1h-1zM145 298h1v1h-1zM146 299h1v1h-1zM147 299h1v1h-1zM148 299h1v1h-1zM149 299h1v1h-1zM150 300h1v1h-1zM151 300h1v1h-1zM152 300h1v1h-1zM153 300h1v1h-1zM154 300h1v1h-1zM155 300h1v1h-1zM156 300h1v1h-1zM157 300h1v1h-1zM158 300h1v1h-1zM159 300h1v1h-1zM160 300h1v1h-1zM161 300h1v1h-1zM162 299h1v1h-1zM163 299h1v1h-1zM164 299h1v1h-1zM165 298h1v1h-1zM166 298h1v1h-1zM167 297h1v1h-1zM168 297h1v1h-1zM169 297h1v1h-1zM170 296h1v1h-1zM171 296h1v1h-1zM172 296h1v1h-1zM173 296h1v1h-1zM174 295h1v1h-1zM175 295h1v1h-1zM176 295h1v1h-1zM177 295h1v1h-1zM178 294h1v1h-1zM179 294h1v1h-1zM180 294h1v1h-1zM181 294h1v1h-1zM182 294h1v1h-1zM183 294h1v1h-1zM184 294h1v1h-1zM185 294h1v1h-1zM186 293h1v1h-1zM187 293h1v1h-1zM188 293h1v1h-1zM189 293h1v1h-1zM190 294h1v1h-1zM191 294h1v1h-1zM192 294h1v1h-1zM193 294h1v1h-1zM194 295h1v1h-1zM195 295h1v1h-1zM196 295h1v1h-1zM197 296h1v1h-1zM198 296h1v1h-1zM199 297h1v1h-1zM200 297h1v1h-1zM201 298h1v1h-1zM202 299h1v1h-1zM203 300h1v1h-1zM204 301h1v1h-1zM205 302h1v1h-1zM206 303h1v1h-1zM207 304h1v1h-1zM208 305h1v1h-1zM209 306h1v1h-1zM210 307h1v1h-1zM211 308h1v1h-1zM212 309h1v1h-1zM213 310h1v1h-1zM214 311h1v1h-1zM215 312h1v1h-1zM216 313h1v1h-1zM217 314h1v1h-1zM218 315h1v1h-1zM219 316h1v1h-1zM220 317h1v1h-1zM221 318h1v1h-1zM222 319h1v1h-1zM223 320h1v1h-1zM224 321h1v1h-1zM225 322h1v1h-1zM226 323h1v1h-1zM227 323h1v1h-1zM228 324h1v1h-1zM229 325h1v1h-1zM230 326h1v1h-1zM231 327h1v1h-1zM232 328h1v1h-1zM233 329h1v1h-1zM234 330h1v1h-1zM235 331h1v1h-1zM236 332h1v1h-1zM237 333h1v1h-1zM238 334h1v2h-1zM239 336h1v1h-1zM240 337h1v1h-1zM241 338h1v1h-1zM242 339h1v1h-1zM243 339h1v1h-1zM244 340h1v1h-1zM245 341h1v1h-1zM246 342h1v1h-1zM247 342h1v1h-1zM248 343h1v1h-1zM249 344h1v1h-1zM250 344h1v1h-1zM251 345h1v1h-1zM252 345h1v1h-1zM253 345h1v1h-1zM254 345h1v1h-1zM255 345h1v1h-1zM256 345h1v1h-1zM257 344h1v1h-1zM258 344h1v1h-1zM259 343h1v1h-1zM260 343h1v1h-1zM261 343h1v1h-1zM262 342h1v1h-1zM263 342h1v1h-1zM264 342h1v1h-1zM265 341h1v1h-1zM266 341h1v1h-1zM267 340h1v1h-1zM268 340h1v1h-1zM269 340h1v1h-1zM270 340h1v1h-1zM271 340h1v1h-1zM272 340h1v1h-1zM273 340h1v1h-1zM274 341h1v1h-1zM275 341h1v1h-1zM276 341h1v1h-1zM277 341h1v1h-1zM278 341h1v1h-1zM279 341h1v1h-1zM280 341h1v1h-1zM281 341h1v1h-1zM282 340h1v1h-1zM283 340h1v1h-1zM284 340h1v1h-1zM285 340h1v1h-1zM286 340h1v1h-1zM287 340h1v1h-1zM288 340h1v1h-1zM289 340h1v1h-1zM290 339h1v1h-1zM291 339h1v1h-1zM292 339h1v1h-1zM293 339h1v1h-1zM294 339h1v1h-1zM295 339h1v1h-1zM296 339h1v1h-1zM297 339h1v1h-1zM298 339h1v1h-1zM299 339h1v1h-1zM300 339h1v1h-1zM301 339h1v1h-1zM302 339h1v1h-1zM303 339h1v1h-1zM304 339h1v1h-1zM305 339h1v1h-1zM306 338h1v1h-1zM307 338h1v1h-1zM308 338h1v1h-1zM309 338h1v1h-1zM310 339h1v1h-1zM311 339h1v1h-1zM312 339h1v1h-1zM313 339h1v1h-1zM314 340h1v1h-1zM315 340h1v1h-1zM316 340h1v1h-1zM317 340h1v1h-1zM318 341h1v1h-1zM319 341h1v1h-1zM320 341h1v1h-1zM321 342h1v1h-1zM322 342h1v1h-1zM323 343h1v1h-1zM324 343h1v1h-1zM325 343h1v1h-1zM326 342h1v1h-1zM327 342h1v1h-1zM328 342h1v1h-1zM329 342h1v1h-1zM330 341h1v1h-1zM331 341h1v1h-1zM332 341h1v1h-1zM333 341h1v1h-1zM334 341h1v1h-1zM335 341h1v1h-1zM336 341h1v1h-1zM337 341h1v1h-1zM338 340h1v1h-1zM339 340h1v1h-1zM340 340h1v1h-1zM341 340h1v1h-1zM342 339h1v1h-1zM343 339h1v1h-1zM344 339h1v1h-1zM345 339h1v1h-1zM346 338h1v1h-1zM347 338h1v1h-1zM348 338h1v1h-1zM349 336h1v2h-1zM350 335h1v1h-1zM351 333h1v2h-1zM352 332h1v1h-1zM353 330h1v2h-1zM354 328h1v2h-1zM355 326h1v2h-1zM356 324h1v2h-1zM357 321h1v3h-1zM358 317h1v4h-1zM359 314h1v3h-1zM360 311h1v3h-1zM361 308h1v3h-1zM362 306h1v2h-1zM363 303h1v3h-1zM364 300h1v3h-1zM365 296h1v4h-1zM366 293h1v3h-1zM367 289h1v4h-1zM368 286h1v3h-1zM369 283h1v3h-1zM370 281h1v2h-1zM371 278h1v3h-1zM372 275h1v3h-1zM373 271h1v4h-1zM374 267h1v4h-1zM375 263h1v4h-1zM376 260h1v3h-1zM377 256h1v4h-1zM378 253h1v3h-1zM379 249h1v4h-1zM380 246h1v3h-1zM381 242h1v4h-1zM382 239h1v3h-1zM383 235h1v4h-1zM384 232h1v3h-1zM385 230h1v2h-1zM386 228h1v2h-1zM387 226h1v2h-1zM388 223h1v3h-1zM389 221h1v2h-1zM390 218h1v3h-1zM391 216h1v2h-1zM392 213h1v3h-1zM393 211h1v2h-1zM394 208h1v3h-1zM395 206h1v2h-1zM396 203h1v3h-1zM397 201h1v2h-1zM398 198h1v3h-1zM399 196h1v2h-1zM400 193h1v3h-1zM401 191h1v2h-1zM402 189h1v2h-1zM403 187h1v2h-1zM404 185h1v2h-1zM405 183h1v2h-1zM406 182h1v1h-1zM407 180h1v2h-1zM408 179h1v1h-1zM409 177h1v2h-1zM410 176h1v1h-1zM411 174h1v2h-1zM412 173h1v1h-1zM413 174h1v1h-1zM414 174h1v1h-1zM415 175h1v1h-1zM416 175h1v1h-1zM417 174h1v1h-1zM418 173h1v1h-1zM419 173h1v1h-1zM420 172h1v1h-1zM421 171h1v1h-1zM422 171h1v1h-1zM423 170h1v1h-1zM424 170h1v1h-1zM425 169h1v1h-1zM426 167h1v2h-1zM427 166h1v1h-1zM428 165h1v1h-1zM429 164h1v1h-1zM430 162h1v2h-1zM431 161h1v1h-1zM432 160h1v1h-1zM433 159h1v1h-1zM434 158h1v1h-1zM435 157h1v1h-1zM436 156h1v1h-1zM437 155h1v1h-1zM438 153h1v2h-1zM439 152h1v1h-1zM440 151h1v1h-1zM441 149h1v2h-1zM442 147h1v2h-1zM443 145h1v2h-1zM444 143h1v2h-1zM445 141h1v2h-1zM446 139h1v2h-1zM447 137h1v2h-1zM448 136h1v1h-1zM449 134h1v2h-1zM450 132h1v2h-1zM451 130h1v2h-1zM452 127h1v3h-1zM453 125h1v2h-1zM454 123h1v2h-1zM455 121h1v2h-1zM456 118h1v3h-1zM457 116h1v2h-1zM458 114h1v2h-1zM459 112h1v2h-1zM460 110h1v2h-1zM461 109h1v1h-1zM462 107h1v2h-1zM463 106h1v1h-1zM464 105h1v1h-1zM465 104h1v1h-1zM466 103h1v1h-1zM467 102h1v1h-1zM468 101h1v1h-1zM469 100h1v1h-1zM470 99h1v1h-1zM471 99h1v1h-1zM472 98h1v1h-1zM473 98h1v1h-1zM474 97h1v1h-1zM475 97h1v1h-1zM476 97h1v1h-1zM477 97h1v1h-1zM478 97h1v1h-1zM479 97h1v1h-1zM480 97h1v1h-1zM481 98h1v1h-1zM482 98h1v1h-1zM483 99h1v1h-1zM484 99h1v1h-1zM485 100h1v1h-1zM486 101h1v1h-1zM487 102h1v1h-1zM488 103h1v1h-1zM489 104h1v2h-1zM490 106h1v1h-1zM491 107h1v2h-1zM492 109h1v2h-1zM493 111h1v2h-1zM494 113h1v2h-1zM495 115h1v2h-1zM496 117h1v2h-1zM497 119h1v2h-1zM498 121h1v2h-1zM499 123h1v2h-1zM500 125h1v1h-1zM501 126h1v2h-1zM502 128h1v1h-1zM503 129h1v2h-1zM504 131h1v1h-1zM505 132h1v1h-1zM506 133h1v2h-1zM507 135h1v1h-1zM508 136h1v1h-1zM509 137h1v2h-1zM510 139h1v2h-1zM511 141h1v2h-1zM512 143h1v1h-1zM513 144h1v1h-1zM514 145h1v2h-1zM515 147h1v1h-1zM516 148h1v1h-1zM517 149h1v1h-1zM518 150h1v1h-1zM519 151h1v1h-1zM520 152h1v1h-1zM521 153h1v1h-1zM522 153h1v1h-1zM523 154h1v1h-1zM524 154h1v1h-1zM525 154h1v1h-1zM526 153h1v1h-1zM527 153h1v1h-1zM528 153h1v1h-1zM529 153h1v1h-1zM530 153h1v1h-1zM531 153h1v1h-1zM532 153h1v1h-1zM533 153h1v1h-1zM534 152h1v1h-1zM535 152h1v1h-1zM536 152h1v1h-1zM537 152h1v1h-1zM538 151h1v1h-1zM539 151h1v1h-1zM540 151h1v1h-1zM541 150h1v1h-1zM542 150h1v1h-1zM543 149h1v1h-1zM544 149h1v1h-1zM545 148h1v1h-1zM546 146h1v2h-1zM547 145h1v1h-1zM548 144h1v1h-1zM549 142h1v2h-1zM550 140h1v2h-1zM551 138h1v2h-1zM552 137h1v1h-1zM553 135h1v2h-1zM554 133h1v2h-1zM555 131h1v2h-1zM556 130h1v1h-1zM557 128h1v2h-1zM558 127h1v1h-1zM559 125h1v2h-1zM560 124h1v1h-1zM561 123h1v1h-1zM562 123h1v1h-1zM563 122h1v1h-1zM564 122h1v1h-1zM565 121h1v1h-1zM566 120h1v1h-1zM567 120h1v1h-1zM568 119h1v1h-1zM569 119h1v1h-1zM570 119h1v1h-1zM571 119h1v1h-1zM572 119h1v1h-1zM573 118h1v1h-1zM574 117h1v1h-1zM575 117h1v1h-1zM576 116h1v1h-1zM577 115h1v1h-1zM578 115h1v1h-1zM579 114h1v1h-1zM580 114h1v1h-1zM581 113h1v1h-1zM582 113h1v1h-1zM583 112h1v1h-1zM584 112h1v1h-1zM585 112h1v1h-1zM586 113h1v1h-1zM587 113h1v1h-1zM588 113h1v1h-1zM589 114h1v1h-1zM590 115h1v1h-1zM591 115h1v1h-1zM592 116h1v1h-1zM593 117h1v1h-1zM594 118h1v1h-1zM595 119h1v1h-1zM596 120h1v1h-1zM597 121h1v1h-1zM598 122h1v1h-1zM599 123h1v1h-1zM600 124h1v1h-1zM601 125h1v1h-1zM602 126h1v1h-1zM603 127h1v1h-1zM604 128h1v1h-1zM605 129h1v1h-1zM606 130h1v1h-1zM607 130h1v1h-1zM608 131h1v1h-1zM609 132h1v1h-1zM610 133h1v2h-1zM611 135h1v1h-1zM612 136h1v1h-1zM613 137h1v1h-1zM614 138h1v1h-1zM615 139h1v1h-1zM616 140h1v1h-1zM617 141h1v1h-1zM618 142h1v1h-1zM619 143h1v1h-1zM620 144h1v1h-1zM621 145h1v1h-1zM622 145h1v1h-1zM623 146h1v1h-1zM624 146h1v1h-1zM625 147h1v1h-1zM626 148h1v1h-1zM627 148h1v1h-1zM628 149h1v1h-1zM629 150h1v1h-1zM630 151h1v1h-1zM631 152h1v1h-1zM632 153h1v1h-1zM633 154h1v1h-1zM634 155h1v2h-1zM635 157h1v1h-1zM636 158h1v1h-1zM637 159h1v2h-1zM638 161h1v1h-1zM639 162h1v2h-1zM640 164h1v1h-1zM641 165h1v1h-1zM642 166h1v1h-1zM643 166h1v1h-1zM644 167h1v1h-1zM645 167h1v1h-1zM646 168h1v1h-1zM647 168h1v1h-1zM648 168h1v1h-1zM649 168h1v1h-1zM650 169h1v1h-1zM651 169h1v1h-1zM652 169h1v1h-1zM653 169h1v1h-1zM654 170h1v1h-1zM655 170h1v1h-1zM656 170h1v1h-1zM657 171h1v1h-1zM658 171h1v1h-1zM659 172h1v1h-1zM660 172h1v1h-1zM661 173h1v1h-1zM662 174h1v1h-1zM663 175h1v1h-1zM664 176h1v1h-1zM665 177h1v1h-1zM666 178h1v1h-1zM667 178h1v1h-1zM668 179h1v1h-1zM669 180h1v1h-1zM670 181h1v1h-1zM671 181h1v1h-1zM672 182h1v1h-1zM673 183h1v1h-1zM674 184h1v2h-1zM675 186h1v1h-1zM676 187h1v1h-1zM677 188h1v1h-1zM678 189h1v1h-1zM679 190h1v1h-1zM680 191h1v1h-1zM681 192h1v2h-1zM682 194h1v2h-1zM683 196h1v2h-1zM684 198h1v1h-1zM685 199h1v1h-1zM686 200h1v1h-1zM687 201h1v1h-1zM688 202h1v1h-1zM689 203h1v1h-1zM690 204h1v2h-1zM691 206h1v1h-1zM692 207h1v1h-1zM693 208h1v1h-1zM694 209h1v1h-1zM695 209h1v1h-1zM696 210h1v1h-1zM697 211h1v1h-1zM698 212h1v1h-1zM699 212h1v1h-1zM700 213h1v1h-1zM701 214h1v1h-1zM702 214h1v1h-1zM703 215h1v1h-1zM704 215h1v1h-1zM705 216h1v1h-1zM706 216h1v1h-1zM707 217h1v1h-1zM708 217h1v1h-1zM709 218h1v1h-1zM710 219h1v1h-1zM711 220h1v1h-1zM712 221h1v1h-1zM713 222h1v1h-1zM714 222h1v1h-1zM715 223h1v1h-1zM716 223h1v1h-1zM717 223h1v1h-1zM718 224h1v1h-1zM719 224h1v1h-1zM720 224h1v1h-1zM721 224h1v1h-1zM722 225h1v1h-1zM723 225h1v1h-1zM724 225h1v1h-1zM725 225h1v1h-1zM726 224h1v1h-1zM727 224h1v1h-1zM728 224h1v1h-1zM729 223h1v1h-1zM730 223h1v1h-1zM731 222h1v1h-1zM732 222h1v1h-1zM733 221h1v1h-1zM734 220h1v1h-1zM735 220h1v1h-1zM736 219h1v1h-1zM737 218h1v1h-1zM738 217h1v1h-1zM739 216h1v1h-1zM740 215h1v1h-1zM741 214h1v1h-1zM742 213h1v1h-1zM743 213h1v1h-1zM744 212h1v1h-1zM745 211h1v1h-1zM746 211h1v1h-1zM747 210h1v1h-1zM748 210h1v1h-1zM749 210h1v1h-1zM750 210h1v1h-1zM751 210h1v1h-1zM752 210h1v1h-1zM753 210h1v1h-1zM754 209h1v1h-1zM755 209h1v1h-1zM756 209h1v1h-1zM757 209h1v1h-1zM758 208h1v1h-1zM759 208h1v1h-1zM760 208h1v1h-1zM761 208h1v1h-1zM762 208h1v1h-1zM763 208h1v1h-1zM764 208h1v1h-1zM765 207h1v1h-1zM766 206h1v1h-1zM767 206h1v1h-1zM768 205h1v1h-1zM769 204h1v1h-1zM770 203h1v1h-1zM771 202h1v1h-1zM772 201h1v1h-1zM773 200h1v1h-1zM774 200h1v1h-1zM775 199h1v1h-1zM776 199h1v1h-1zM777 199h1v1h-1zM778 199h1v1h-1zM779 199h1v1h-1zM780 199h1v1h-1zM781 199h1v1h-1zM782 199h1v1h-1zM783 199h1v1h-1zM784 199h1v1h-1zM785 199h1v1h-1zM786 200h1v1h-1zM787 200h1v1h-1zM788 200h1v1h-1zM789 200h1v1h-1zM790 200h1v1h-1zM791 200h1v1h-1zM792 200h1v1h-1zM793 200h1v1h-1zM794 201h1v1h-1zM795 201h1v1h-1zM796 201h1v1h-1zM797 201h1v1h-1zM798 201h1v1h-1zM799 201h1v1h-1zM800 201h1v1h-1zM801 202h1v1h-1zM802 203h1v1h-1zM803 203h1v1h-1zM804 204h1v1h-1zM805 204h1v1h-1zM806 204h1v1h-1zM807 204h1v1h-1zM808 204h1v1h-1zM809 205h1v1h-1zM810 205h1v1h-1zM811 206h1v1h-1zM812 206h1v1h-1zM813 207h1v1h-1zM814 207h1v1h-1zM815 208h1v1h-1zM816 208h1v1h-1zM817 209h1v1h-1zM818 210h1v1h-1zM819 210h1v1h-1zM820 211h1v1h-1zM821 212h1v1h-1zM822 213h1v1h-1zM823 213h1v1h-1zM824 214h1v1h-1zM825 215h1v1h-1zM826 216h1v2h-1zM827 218h1v1h-1zM828 219h1v1h-1zM829 220h1v1h-1zM830 221h1v1h-1zM831 221h1v1h-1zM832 222h1v1h-1zM833 223h1v1h-1zM834 224h1v1h-1zM835 224h1v1h-1zM836 225h1v1h-1zM837 225h1v1h-1zM838 226h1v1h-1zM839 226h1v1h-1zM840 226h1v1h-1zM841 226h1v1h-1zM842 227h1v1h-1zM843 227h1v1h-1zM844 227h1v1h-1zM845 228h1v1h-1zM846 228h1v1h-1zM847 229h1v1h-1zM848 229h1v1h-1zM849 230h1v1h-1zM850 231h1v1h-1zM851 231h1v1h-1zM852 232h1v1h-1zM853 233h1v1h-1zM854 234h1v1h-1zM855 234h1v1h-1zM856 235h1v1h-1zM857 235h1v1h-1zM858 234h1v1h-1zM859 234h1v1h-1zM860 234h1v1h-1zM861 235h1v1h-1zM862 235h1v1h-1zM863 236h1v1h-1zM864 236h1v1h-1zM865 237h1v1h-1zM866 238h1v1h-1zM867 238h1v1h-1zM868 239h1v1h-1zM869 240h1v1h-1zM870 240h1v1h-1zM871 241h1v1h-1zM872 241h1v1h-1zM873 242h1v1h-1zM874 242h1v1h-1zM875 243h1v1h-1zM876 243h1v1h-1zM877 244h1v1h-1zM878 244h1v1h-1zM879 245h1v1h-1zM880 245h1v1h-1zM881 246h1v1h-1zM882 246h1v1h-1zM883 247h1v1h-1zM884 247h1v1h-1zM885 248h1v1h-1zM886 248h1v1h-1zM887 249h1v1h-1zM888 249h1v1h-1zM889 250h1v1h-1zM890 251h1v1h-1zM891 252h1v1h-1zM892 253h1v1h-1zM893 254h1v1h-1zM894 255h1v1h-1zM895 256h1v1h-1zM896 257h1v1h-1zM897 258h1v1h-1zM898 259h1v2h-1zM899 261h1v1h-1zM900 262h1v1h-1zM901 263h1v2h-1zM902 265h1v1h-1zM903 266h1v2h-1zM904 268h1v1h-1zM905 269h1v1h-1zM906 270h1v2h-1zM907 272h1v1h-1zM908 273h1v1h-1zM909 274h1v2h-1zM910 276h1v2h-1zM911 278h1v2h-1zM912 280h1v1h-1zM913 281h1v2h-1zM914 283h1v2h-1zM915 285h1v2h-1zM916 287h1v1h-1zM917 288h1v1h-1zM918 289h1v2h-1zM919 291h1v1h-1zM920 292h1v1h-1zM921 293h1v2h-1zM922 295h1v1h-1zM923 296h1v2h-1zM924 298h1v1h-1zM925 299h1v2h-1zM926 301h1v1h-1zM927 302h1v2h-1zM928 304h1v1h-1zM929 305h1v2h-1zM930 307h1v1h-1zM931 308h1v2h-1zM932 310h1v1h-1zM933 311h1v2h-1zM934 313h1v1h-1zM935 314h1v2h-1zM936 316h1v1h-1zM937 317h1v1h-1zM938 318h1v1h-1zM939 319h1v1h-1zM940 320h1v1h-1zM941 321h1v1h-1zM942 322h1v1h-1zM943 323h1v1h-1zM944 324h1v1h-1zM945 324h1v1h-1zM946 324h1v1h-1zM947 324h1v1h-1zM948 324h1v1h-1zM949 324h1v1h-1zM950 325h1v1h-1zM951 325h1v1h-1zM952 325h1v1h-1zM953 325h1v1h-1zM954 324h1v1h-1zM955 324h1v1h-1zM956 324h1v1h-1zM957 323h1v1h-1zM958 322h1v1h-1zM959 321h1v1h-1zM960 320h1v1h-1zM961 319h1v1h-1zM962 318h1v1h-1zM963 317h1v1h-1zM964 316h1v1h-1zM965 314h1v2h-1zM966 313h1v1h-1zM967 311h1v2h-1zM968 310h1v1h-1zM969 308h1v2h-1zM970 306h1v2h-1zM971 304h1v2h-1zM972 303h1v1h-1zM973 301h1v2h-1zM974 299h1v2h-1zM975 297h1v2h-1zM976 296h1v1h-1zM977 294h1v2h-1zM978 292h1v2h-1zM979 290h1v2h-1zM980 287h1v3h-1zM981 285h1v2h-1zM982 282h1v3h-1zM983 280h1v2h-1zM984 278h1v2h-1zM985 276h1v2h-1zM986 274h1v2h-1zM987 272h1v2h-1zM988 270h1v2h-1zM989 268h1v2h-1zM990 266h1v2h-1zM991 264h1v2h-1zM992 263h1v1h-1zM993 262h1v1h-1zM994 261h1v1h-1zM995 260h1v1h-1zM996 259h1v1h-1zM997 257h1v2h-1zM998 256h1v1h-1zM999 254h1v2h-1zM1000 253h1v1h-1zM1001 252h1v1h-1zM1002 250h1v2h-1zM1003 249h1v1h-1zM1004 248h1v1h-1zM1005 247h1v1h-1zM1006 246h1v1h-1zM1007 246h1v1h-1zM1008 245h1v1h-1zM1009 244h1v1h-1zM1010 243h1v1h-1zM1011 243h1v1h-1zM1012 242h1v1h-1zM1013 242h1v1h-1zM1014 243h1v1h-1zM1015 243h1v1h-1zM1016 243h1v1h-1zM1017 243h1v1h-1zM1018 243h1v1h-1zM1019 243h1v1h-1zM1020 243h1v1h-1zM1021 242h1v1h-1zM1022 242h1v1h-1zM1023 241h1v1h-1zM1024 241h1v1h-1zM1025 241h1v1h-1zM1026 241h1v1h-1zM1027 241h1v1h-1zM1028 241h1v1h-1zM1029 241h1v1h-1zM1030 242h1v1h-1zM1031 242h1v1h-1zM1032 242h1v1h-1zM1033 242h1v1h-1zM1034 242h1v1h-1zM1035 242h1v1h-1zM1036 242h1v1h-1zM1037 242h1v1h-1zM1038 243h1v1h-1zM1039 243h1v1h-1zM1040 243h1v1h-1zM1041 242h1v1h-1zM1042 241h1v1h-1zM1043 240h1v1h-1zM1044 239h1v1h-1zM1045 238h1v1h-1zM1046 237h1v1h-1zM1047 236h1v1h-1zM1048 235h1v1h-1zM1049 234h1v1h-1zM1050 233h1v1h-1zM1051 232h1v1h-1zM1052 231h1v1h-1zM1053 231h1v1h-1zM1054 230h1v1h-1zM1055 230h1v1h-1zM1056 230h1v1h-1zM1057 230h1v1h-1zM1058 229h1v1h-1zM1059 229h1v1h-1zM1060 229h1v1h-1zM1061 228h1v1h-1zM1062 227h1v1h-1zM1063 227h1v1h-1zM1064 226h1v1h-1zM1065 225h1v1h-1zM1066 224h1v1h-1zM1067 224h1v1h-1zM1068 223h1v1h-1zM1069 223h1v1h-1zM1070 223h1v1h-1zM1071 223h1v1h-1zM1072 223h1v1h-1zM1073 223h1v1h-1zM1074 222h1v1h-1zM1075 222h1v1h-1zM1076 222h1v1h-1zM1077 223h1v1h-1zM1078 224h1v1h-1zM1079 224h1v1h-1zM1080 225h1v1h-1zM1081 226h1v1h-1zM1082 227h1v1h-1zM1083 227h1v1h-1zM1084 228h1v1h-1zM1085 229h1v1h-1zM1086 230h1v1h-1zM1087 231h1v1h-1zM1088 232h1v1h-1zM1089 233h1v1h-1zM1090 234h1v1h-1zM1091 235h1v1h-1zM1092 236h1v1h-1zM1093 237h1v1h-1zM1094 238h1v2h-1zM1095 240h1v1h-1zM1096 241h1v1h-1zM1097 242h1v2h-1zM1098 244h1v2h-1zM1099 246h1v2h-1zM1100 248h1v1h-1zM1101 249h1v2h-1zM1102 251h1v1h-1zM1103 252h1v2h-1zM1104 254h1v1h-1zM1105 255h1v1h-1zM1106 256h1v1h-1zM1107 257h1v1h-1zM1108 258h1v1h-1zM1109 259h1v1h-1zM1110 260h1v2h-1zM1111 262h1v1h-1zM1112 263h1v1h-1zM1113 263h1v1h-1zM1114 262h1v1h-1zM1115 262h1v1h-1zM1116 262h1v1h-1zM1117 262h1v1h-1zM1118 262h1v1h-1zM1119 262h1v1h-1zM1120 262h1v1h-1zM1121 262h1v1h-1zM1122 261h1v1h-1zM1123 261h1v1h-1zM1124 261h1v1h-1zM1125 261h1v1h-1zM1126 260h1v1h-1zM1127 260h1v1h-1zM1128 260h1v1h-1zM1129 259h1v1h-1zM1130 258h1v1h-1zM1131 258h1v1h-1zM1132 257h1v1h-1zM1133 255h1v2h-1zM1134 253h1v2h-1zM1135 251h1v2h-1zM1136 248h1v3h-1zM1137 245h1v3h-1zM1138 241h1v4h-1zM1139 238h1v3h-1zM1140 235h1v3h-1zM1141 231h1v4h-1zM1142 228h1v3h-1zM1143 224h1v4h-1zM1144 221h1v3h-1zM1145 218h1v3h-1zM1146 215h1v3h-1zM1147 212h1v3h-1zM1148 209h1v3h-1zM1149 206h1v3h-1zM1150 202h1v4h-1zM1151 199h1v3h-1zM1152 196h1v3h-1zM1153 194h1v2h-1zM1154 192h1v2h-1zM1155 190h1v2h-1zM1156 187h1v3h-1zM1157 184h1v3h-1zM1158 181h1v3h-1zM1159 178h1v3h-1zM1160 176h1v2h-1zM1161 174h1v2h-1zM1162 172h1v2h-1zM1163 170h1v2h-1zM1164 167h1v3h-1zM1165 165h1v2h-1zM1166 162h1v3h-1zM1167 160h1v2h-1zM1168 158h1v2h-1zM1169 157h1v1h-1zM1170 156h1v1h-1zM1171 156h1v1h-1zM1172 155h1v1h-1zM1173 153h1v2h-1zM1174 152h1v1h-1zM1175 150h1v2h-1zM1176 149h1v1h-1zM1177 148h1v1h-1zM1178 147h1v1h-1zM1179 147h1v1h-1zM1180 146h1v1h-1zM1181 144h1v2h-1zM1182 142h1v2h-1zM1183 140h1v2h-1zM1184 138h1v2h-1zM1185 137h1v1h-1zM1186 136h1v1h-1zM1187 136h1v1h-1zM1188 135h1v1h-1zM1189 134h1v1h-1zM1190 133h1v1h-1zM1191 133h1v1h-1zM1192 132h1v1h-1zM1193 133h1v1h-1zM1194 134h1v1h-1zM1195 134h1v1h-1zM1196 135h1v1h-1zM1197 136h1v1h-1zM1198 136h1v1h-1zM1199 137h1v1h-1zM1200 137h1v1h-1zM1201 138h1v1h-1zM1202 139h1v2h-1zM1203 141h1v1h-1zM1204 142h1v1h-1zM1205 143h1v1h-1zM1206 144h1v1h-1zM1207 144h1v1h-1zM1208 145h1v1h-1zM1209 146h1v1h-1zM1210 146h1v1h-1zM1211 147h1v1h-1zM1212 147h1v1h-1zM1213 148h1v2h-1zM1214 150h1v1h-1zM1215 151h1v2h-1zM1216 153h1v1h-1zM1217 154h1v1h-1zM1218 155h1v1h-1zM1219 155h1v1h-1zM1220 156h1v1h-1zM1221 157h1v1h-1zM1222 158h1v1h-1zM1223 158h1v1h-1zM1224 159h1v1h-1zM1225 160h1v1h-1zM1226 161h1v1h-1zM1227 161h1v1h-1zM1228 162h1v1h-1zM1229 163h1v1h-1zM1230 164h1v1h-1zM1231 164h1v1h-1zM1232 165h1v1h-1zM1233 165h1v1h-1zM1234 165h1v1h-1zM1235 165h1v1h-1zM1236 165h1v1h-1zM1237 166h1v1h-1zM1238 166h1v1h-1zM1239 167h1v1h-1zM1240 167h1v1h-1zM1241 167h1v1h-1zM1242 167h1v1h-1zM1243 167h1v1h-1zM1244 167h1v1h-1zM1245 168h1v1h-1zM1246 169h1v1h-1zM1247 169h1v1h-1zM1248 170h1v1h-1zM1249 170h1v1h-1zM1250 170h1v1h-1zM1251 170h1v1h-1zM1252 170h1v1h-1zM1253 170h1v1h-1zM1254 170h1v1h-1zM1255 170h1v1h-1zM1256 170h1v1h-1zM1257 169h1v1h-1zM1258 169h1v1h-1zM1259 168h1v1h-1zM1260 168h1v1h-1zM1261 168h1v1h-1zM1262 167h1v1h-1zM1263 167h1v1h-1zM1264 167h1v1h-1zM1265 166h1v1h-1zM1266 165h1v1h-1zM1267 165h1v1h-1zM1268 164h1v1h-1z" fill="#ff0000"/>
<path d="M4 487h1v1h-1zM5 487h1v1h-1zM6 488h1v1h-1zM7 488h1v1h-1zM8 488h1v1h-1zM9 488h1v1h-1zM10 488h1v1h-1zM11 488h1v1h-1zM12 488h1v1h-1zM13 488h1v1h-1zM14 489h1v1h-1zM15 489h1v1h-1zM16 489h1v1h-1zM17 489h1v1h-1zM18 489h1v1h-1zM19 489h1v1h-1zM20 489h1v1h-1zM21 489h1v1h-1zM22 489h1v1h-1zM23 489h1v1h-1zM24 489h1v1h-1zM25 489h1v1h-1zM26 489h1v1h-1zM27 489h1v1h-1zM28 489h1v1h-1zM29 489h1v1h-1zM30 488h1v1h-1zM31 488h1v1h-1zM32 488h1v1h-1zM33 488h1v1h-1zM34 487h1v1h-1zM35 487h1v1h-1zM36 487h1v1h-1zM37 487h1v1h-1zM38 487h1v1h-1zM39 487h1v1h-1zM40 487h1v1h-1zM41 487h1v1h-1zM42 486h1v1h-1zM43 486h1v1h-1zM44 486h1v1h-1zM45 486h1v1h-1zM46 485h1v1h-1zM47 485h1v1h-1zM48 485h1v1h-1zM49 485h1v1h-1zM50 485h1v1h-1zM51 485h1v1h-1zM52 485h1v1h-1zM53 485h1v1h-1zM54 485h1v1h-1zM55 485h1v1h-1zM56 485h1v1h-1zM57 485h1v1h-1zM58 484h1v1h-1zM59 484h1v1h-1zM60 484h1v1h-1zM61 484h1v1h-1zM62 484h1v1h-1zM63 484h1v1h-1zM64 484h1v1h-1zM65 484h1v1h-1zM66 483h1v1h-1zM67 483h1v1h-1zM68 483h1v1h-1zM69 481h1v2h-1zM70 480h1v1h-1zM71 478h1v2h-1zM72 477h1v1h-1zM73 476h1v1h-1zM74 474h1v2h-1zM75 473h1v1h-1zM76 472h1v1h-1zM77 470h1v2h-1zM78 469h1v1h-1zM79 467h1v2h-1zM80 466h1v1h-1zM81 464h1v2h-1zM82 463h1v1h-1zM83 461h1v2h-1zM84 460h1v1h-1zM85 458h1v2h-1zM86 457h1v1h-1zM87 455h1v2h-1zM88 454h1v1h-1zM89 452h1v2h-1zM90 450h1v2h-1zM91 448h1v2h-1zM92 447h1v1h-1zM93 445h1v2h-1zM94 443h1v2h-1zM95 441h1v2h-1zM96 440h1v1h-1zM97 438h1v2h-1zM98 436h1v2h-1zM99 434h1v2h-1zM100 433h1v1h-1zM101 431h1v2h-1zM102 430h1v1h-1zM103 428h1v2h-1zM104 427h1v1h-1zM105 425h1v2h-1zM106 423h1v2h-1zM107 421h1v2h-1zM108 420h1v1h-1zM109 418h1v2h-1zM110 417h1v1h-1zM111 415h1v2h-1zM112 414h1v1h-1zM113 412h1v2h-1zM114 411h1v1h-1zM115 409h1v2h-1zM116 408h1v1h-1zM117 406h1v2h-1zM118 405h1v1h-1zM119 403h1v2h-1zM120 402h1v1h-1zM121 400h1v2h-1zM122 399h1v1h-1zM123 397h1v2h-1zM124 396h1v1h-1zM125 394h1v2h-1zM126 392h1v2h-1zM127 390h1v2h-1zM128 388h1v2h-1zM129 386h1v2h-1zM130 385h1v1h-1zM131 383h1v2h-1zM132 382h1v1h-1zM133 380h1v2h-1zM134 378h1v2h-1zM135 376h1v2h-1zM136 375h1v1h-1zM137 373h1v2h-1zM138 371h1v2h-1zM139 369h1v2h-1zM140 368h1v1h-1zM141 366h1v2h-1zM142 365h1v1h-1zM143 363h1v2h-1zM144 362h1v1h-1zM145 360h1v2h-1zM146 359h1v1h-1zM147 357h1v2h-1zM148 356h1v1h-1zM149 355h1v1h-1zM150 353h1v2h-1zM151 352h1v1h-1zM152 351h1v1h-1zM153 349h1v2h-1zM154 348h1v1h-1zM155 346h1v2h-1zM156 345h1v1h-1zM157 343h1v2h-1zM158 342h1v1h-1zM159 340h1v2h-1zM160 339h1v1h-1zM161 337h1v2h-1zM162 336h1v1h-1zM163 334h1v2h-1zM164 333h1v1h-1zM165 331h1v2h-1zM166 330h1v1h-1zM167 328h1v2h-1zM168 327h1v1h-1zM169 325h1v2h-1zM170 324h1v1h-1zM171 322h1v2h-1zM172 321h1v1h-1zM173 320h1v1h-1zM174 318h1v2h-1zM175 317h1v1h-1zM176 316h1v1h-1zM177 314h1v2h-1zM178 313h1v1h-1zM179 311h1v2h-1zM180 310h1v1h-1zM181 308h1v2h-1zM182 307h1v1h-1zM183 305h1v2h-1zM184 304h1v1h-1zM185 302h1v2h-1zM186 301h1v1h-1zM187 299h1v2h-1zM188 298h1v1h-1zM189 298h1v1h-1zM190 297h1v1h-1zM191 297h1v1h-1zM192 297h1v1h-1zM193 297h1v1h-1zM194 297h1v1h-1zM195 297h1v1h-1zM196 297h1v1h-1zM197 297h1v1h-1zM198 297h1v1h-1zM199 297h1v1h-1zM200 297h1v1h-1zM201 298h1v1h-1zM202 298h1v1h-1zM203 299h1v1h-1zM204 299h1v1h-1zM205 300h1v1h-1zM206 300h1v1h-1zM207 301h1v1h-1zM208 301h1v1h-1zM209 302h1v1h-1zM210 303h1v1h-1zM211 303h1v1h-1zM212 304h1v1h-1zM213 305h1v1h-1zM214 305h1v1h-1zM215 306h1v1h-1zM216 306h1v1h-1zM217 306h1v1h-1zM218 307h1v1h-1zM219 307h1v1h-1zM220 307h1v1h-1zM221 308h1v1h-1zM222 308h1v1h-1zM223 309h1v1h-1zM224 309h1v1h-1zM225 309h1v1h-1zM226 310h1v1h-1zM227 310h1v1h-1zM228 310h1v1h-1zM229 311h1v1h-1zM230 311h1v1h-1zM231 312h1v1h-1zM232 312h1v1h-1zM233 312h1v1h-1zM234 313h1v1h-1zM235 313h1v1h-1zM236 313h1v1h-1zM237 313h1v1h-1zM238 314h1v1h-1zM239 314h1v1h-1zM240 314h1v1h-1zM241 314h1v1h-1zM242 315h1v1h-1zM243 315h1v1h-1zM244 315h1v1h-1zM245 316h1v1h-1zM246 316h1v1h-1zM247 317h1v1h-1zM248 317h1v1h-1zM249 317h1v1h-1zM250 318h1v1h-1zM251 318h1v1h-1zM252 318h1v1h-1zM253 318h1v1h-1zM254 319h1v1h-1zM255 319h1v1h-1zM256 319h1v1h-1zM257 320h1v1h-1zM258 320h1v1h-1zM259 321h1v1h-1zM260 321h1v1h-1zM261 321h1v1h-1zM262 322h1v1h-1zM263 322h1v1h-1zM264 322h1v1h-1zM265 322h1v1h-1zM266 323h1v1h-1zM267 323h1v1h-1zM268 323h1v1h-1zM269 323h1v1h-1zM270 324h1v1h-1zM271 324h1v1h-1zM272 324h1v1h-1zM273 325h1v1h-1zM274 325h1v1h-1zM275 326h1v1h-1zM276 326h1v1h-1zM277 327h1v1h-1zM278 327h1v1h-1zM279 328h1v1h-1zM280 328h1v1h-1zM281 329h1v1h-1zM282 329h1v1h-1zM283 330h1v1h-1zM284 330h1v1h-1zM285 331h1v1h-1zM286 331h1v1h-1zM287 332h1v1h-1zM288 332h1v1h-1zM289 332h1v1h-1zM290 333h1v1h-1zM291 333h1v1h-1zM292 333h1v1h-1zM293 334h1v1h-1zM294 334h1v1h-1zM295 335h1v1h-1zM296 335h1v1h-1zM297 335h1v1h-1zM298 336h1v1h-1zM299 336h1v1h-1zM300 336h1v1h-1zM301 337h1v1h-1zM302 337h1v1h-1zM303 338h1v1h-1zM304 338h1v1h-1zM305 338h1v1h-1zM306 339h1v1h-1zM307 339h1v1h-1zM308 339h1v1h-1zM309 340h1v1h-1zM310 340h1v1h-1zM311 341h1v1h-1zM312 341h1v1h-1zM313 341h1v1h-1zM314 341h1v1h-1zM315 341h1v1h-1zM316 341h1v1h-1zM317 341h1v1h-1zM318 342h1v1h-1zM319 342h1v1h-1zM320 342h1v1h-1zM321 342h1v1h-1zM322 342h1v1h-1zM323 342h1v1h-1zM324 342h1v1h-1zM325 342h1v1h-1zM326 342h1v1h-1zM327 342h1v1h-1zM328 342h1v1h-1zM329 342h1v1h-1zM330 341h1v1h-1zM331 341h1v1h-1zM332 341h1v1h-1zM333 341h1v1h-1zM334 341h1v1h-1zM335 341h1v1h-1zM336 341h1v1h-1zM337 341h1v1h-1zM338 340h1v1h-1zM339 340h1v1h-1zM340 340h1v1h-1zM341 340h1v1h-1zM342 340h1v1h-1zM343 340h1v1h-1zM344 340h1v1h-1zM345 340h1v1h-1zM346 339h1v1h-1zM347 339h1v1h-1zM348 339h1v1h-1zM349 338h1v1h-1zM350 337h1v1h-1zM351 337h1v1h-1zM352 336h1v1h-1zM353 335h1v1h-1zM354 334h1v1h-1zM355 334h1v1h-1zM356 333h1v1h-1zM357 331h1v2h-1zM358 329h1v2h-1zM359 327h1v2h-1zM360 326h1v1h-1zM361 325h1v1h-1zM362 323h1v2h-1zM363 322h1v1h-1zM364 321h1v1h-1zM365 319h1v2h-1zM366 318h1v1h-1zM367 316h1v2h-1zM368 315h1v1h-1zM369 313h1v2h-1zM370 312h1v1h-1zM371 310h1v2h-1zM372 309h1v1h-1zM373 307h1v2h-1zM374 306h1v1h-1zM375 304h1v2h-1zM376 303h1v1h-1zM377 301h1v2h-1zM378 300h1v1h-1zM379 298h1v2h-1zM380 297h1v1h-1zM381 295h1v2h-1zM382 294h1v1h-1zM383 292h1v2h-1zM384 291h1v1h-1zM385 290h1v1h-1zM386 289h1v1h-1zM387 288h1v1h-1zM388 287h1v1h-1zM389 286h1v1h-1zM390 284h1v2h-1zM391 283h1v1h-1zM392 282h1v1h-1zM393 281h1v1h-1zM394 279h1v2h-1zM395 278h1v1h-1zM396 277h1v1h-1zM397 276h1v1h-1zM398 274h1v2h-1zM399 273h1v1h-1zM400 272h1v1h-1zM401 271h1v1h-1zM402 269h1v2h-1zM403 268h1v1h-1zM404 267h1v1h-1zM405 265h1v2h-1zM406 264h1v1h-1zM407 262h1v2h-1zM408 261h1v1h-1zM409 259h1v2h-1zM410 258h1v1h-1zM411 256h1v2h-1zM412 255h1v1h-1zM413 254h1v1h-1zM414 252h1v2h-1zM415 251h1v1h-1zM416 250h1v1h-1zM417 248h1v2h-1zM418 246h1v2h-1zM419 244h1v2h-1zM420 243h1v1h-1zM421 241h1v2h-1zM422 239h1v2h-1zM423 237h1v2h-1zM424 236h1v1h-1zM425 234h1v2h-1zM426 232h1v2h-1zM427 230h1v2h-1zM428 228h1v2h-1zM429 226h1v2h-1zM430 224h1v2h-1zM431 222h1v2h-1zM432 219h1v3h-1zM433 217h1v2h-1zM434 215h1v2h-1zM435 213h1v2h-1zM436 210h1v3h-1zM437 208h1v2h-1zM438 206h1v2h-1zM439 204h1v2h-1zM440 202h1v2h-1zM441 200h1v2h-1zM442 198h1v2h-1zM443 196h1v2h-1zM444 193h1v3h-1zM445 191h1v2h-1zM446 189h1v2h-1zM447 187h1v2h-1zM448 185h1v2h-1zM449 183h1v2h-1zM450 181h1v2h-1zM451 179h1v2h-1zM452 176h1v3h-1zM453 174h1v2h-1zM454 172h1v2h-1zM455 170h1v2h-1zM456 167h1v3h-1zM457 165h1v2h-1zM458 163h1v2h-1zM459 161h1v2h-1zM460 159h1v2h-1zM461 157h1v2h-1zM462 155h1v2h-1zM463 153h1v2h-1zM464 152h1v1h-1zM465 150h1v2h-1zM466 148h1v2h-1zM467 146h1v2h-1zM468 145h1v1h-1zM469 144h1v1h-1zM470 142h1v2h-1zM471 141h1v1h-1zM472 140h1v1h-1zM473 139h1v1h-1zM474 138h1v1h-1zM475 138h1v1h-1zM476 137h1v1h-1zM477 137h1v1h-1zM478 136h1v1h-1zM479 136h1v1h-1zM480 136h1v1h-1zM481 135h1v1h-1zM482 135h1v1h-1zM483 134h1v1h-1zM484 134h1v1h-1zM485 134h1v1h-1zM486 133h1v1h-1zM487 133h1v1h-1zM488 133h1v1h-1zM489 133h1v1h-1zM490 133h1v1h-1zM491 133h1v1h-1zM492 133h1v1h-1zM493 134h1v1h-1zM494 135h1v1h-1zM495 135h1v1h-1zM496 136h1v1h-1zM497 136h1v1h-1zM498 137h1v1h-1zM499 137h1v1h-1zM500 137h1v1h-1zM501 137h1v1h-1zM502 138h1v1h-1zM503 138h1v1h-1zM504 138h1v1h-1zM505 137h1v1h-1zM506 137h1v1h-1zM507 136h1v1h-1zM508 136h1v1h-1zM509 136h1v1h-1zM510 135h1v1h-1zM511 135h1v1h-1zM512 135h1v1h-1zM513 135h1v1h-1zM514 134h1v1h-1zM515 134h1v1h-1zM516 134h1v1h-1zM517 133h1v1h-1zM518 133h1v1h-1zM519 132h1v1h-1zM520 132h1v1h-1zM521 131h1v1h-1zM522 131h1v1h-1zM523 130h1v1h-1zM524 130h1v1h-1zM525 130h1v1h-1zM526 129h1v1h-1zM527 129h1v1h-1zM528 129h1v1h-1zM529 128h1v1h-1zM530 128h1v1h-1zM531 127h1v1h-1zM532 127h1v1h-1zM533 126h1v1h-1zM534 126h1v1h-1zM535 125h1v1h-1zM536 125h1v1h-1zM537 125h1v1h-1zM538 124h1v1h-1zM539 124h1v1h-1zM540 124h1v1h-1zM541 124h1v1h-1zM542 124h1v1h-1zM543 124h1v1h-1zM544 124h1v1h-1zM545 124h1v1h-1zM546 124h1v1h-1zM547 124h1v1h-1zM548 124h1v1h-1zM549 124h1v1h-1zM550 124h1v1h-1zM551 124h1v1h-1zM552 124h1v1h-1zM553 124h1v1h-1zM554 125h1v1h-1zM555 125h1v1h-1zM556 125h1v1h-1zM557 125h1v1h-1zM558 125h1v1h-1zM559 125h1v1h-1zM560 125h1v1h-1zM561 125h1v1h-1zM562 126h1v1h-1zM563 126h1v1h-1zM564 126h1v1h-1zM565 127h1v1h-1zM566 127h1v1h-1zM567 128h1v1h-1zM568 128h1v1h-1zM569 128h1v1h-1zM570 129h1v1h-1zM571 129h1v1h-1zM572 129h1v1h-1zM573 130h1v1h-1zM574 130h1v1h-1zM575 131h1v1h-1zM576 131h1v1h-1zM577 131h1v1h-1zM578 132h1v1h-1zM579 132h1v1h-1zM580 132h1v1h-1zM581 132h1v1h-1zM582 132h1v1h-1zM583 132h1v1h-1zM584 132h1v1h-1zM585 132h1v1h-1zM586 133h1v1h-1zM587 133h1v1h-1zM588 133h1v1h-1zM589 133h1v1h-1zM590 134h1v1h-1zM591 134h1v1h-1zM592 134h1v1h-1zM593 134h1v1h-1zM594 135h1v1h-1zM595 135h1v1h-1zM596 135h1v1h-1zM597 135h1v1h-1zM598 136h1v1h-1zM599 136h1v1h-1zM600 136h1v1h-1zM601 136h1v1h-1zM602 137h1v1h-1zM603 137h1v1h-1zM604 137h1v1h-1zM605 137h1v1h-1zM606 138h1v1h-1zM607 138h1v1h-1zM608 138h1v1h-1zM609 138h1v1h-1zM610 137h1v1h-1zM611 137h1v1h-1zM612 137h1v1h-1zM613 137h1v1h-1zM614 136h1v1h-1zM615 136h1v1h-1zM616 136h1v1h-1zM617 136h1v1h-1zM618 135h1v1h-1zM619 135h1v1h-1zM620 135h1v1h-1zM621 135h1v1h-1zM622 135h1v1h-1zM623 135h1v1h-1zM624 135h1v1h-1zM625 135h1v1h-1zM626 135h1v1h-1zM627 135h1v1h-1zM628 135h1v1h-1zM629 135h1v1h-1zM630 135h1v1h-1zM631 135h1v1h-1zM632 135h1v1h-1zM633 135h1v1h-1zM634 136h1v1h-1zM635 136h1v1h-1zM636 136h1v1h-1zM637 136h1v1h-1zM638 137h1v1h-1zM639 137h1v1h-1zM640 137h1v1h-1zM641 138h1v1h-1zM642 138h1v1h-1zM643 139h1v1h-1zM644 139h1v1h-1zM645 140h1v1h-1zM646 140h1v1h-1zM647 141h1v1h-1zM648 141h1v1h-1zM649 141h1v1h-1zM650 142h1v1h-1zM651 142h1v1h-1zM652 142h1v1h-1zM653 143h1v1h-1zM654 144h1v1h-1zM655 144h1v1h-1zM656 145h1v1h-1zM657 146h1v1h-1zM658 146h1v1h-1zM659 147h1v1h-1zM660 147h1v1h-1zM661 148h1v1h-1zM662 149h1v1h-1zM663 149h1v1h-1zM664 150h1v1h-1zM665 151h1v1h-1zM666 152h1v1h-1zM667 152h1v1h-1zM668 153h1v1h-1zM669 154h1v1h-1zM670 155h1v1h-1zM671 156h1v1h-1zM672 157h1v1h-1zM673 158h1v1h-1zM674 159h1v1h-1zM675 160h1v1h-1zM676 161h1v1h-1zM677 162h1v1h-1zM678 163h1v2h-1zM679 165h1v1h-1zM680 166h1v1h-1zM681 167h1v1h-1zM682 168h1v2h-1zM683 170h1v1h-1zM684 171h1v1h-1zM685 172h1v1h-1zM686 173h1v1h-1zM687 173h1v1h-1zM688 174h1v1h-1zM689 175h1v1h-1zM690 176h1v1h-1zM691 177h1v1h-1zM692 178h1v1h-1zM693 179h1v1h-1zM694 180h1v1h-1zM695 180h1v1h-1zM696 181h1v1h-1zM697 182h1v1h-1zM698 183h1v1h-1zM699 184h1v1h-1zM700 185h1v1h-1zM701 186h1v1h-1zM702 187h1v1h-1zM703 188h1v1h-1zM704 189h1v1h-1zM705 190h1v1h-1zM706 190h1v1h-1zM707 191h1v1h-1zM708 191h1v1h-1zM709 192h1v1h-1zM710 193h1v1h-1zM711 193h1v1h-1zM712 194h1v1h-1zM713 195h1v1h-1zM714 195h1v1h-1zM715 196h1v1h-1zM716 196h1v1h-1zM717 196h1v1h-1zM718 197h1v1h-1zM719 197h1v1h-1zM720 197h1v1h-1zM721 198h1v1h-1zM722 198h1v1h-1zM723 199h1v1h-1zM724 199h1v1h-1zM725 199h1v1h-1zM726 200h1v1h-1zM727 200h1v1h-1zM728 200h1v1h-1zM729 201h1v1h-1zM730 201h1v1h-1zM731 202h1v1h-1zM732 202h1v1h-1zM733 202h1v1h-1zM734 203h1v1h-1zM735 203h1v1h-1zM736 203h1v1h-1zM737 203h1v1h-1zM738 204h1v1h-1zM739 204h1v1h-1zM740 204h1v1h-1zM741 204h1v1h-1zM742 205h1v1h-1zM743 205h1v1h-1zM744 205h1v1h-1zM745 206h1v1h-1zM746 206h1v1h-1zM747 207h1v1h-1zM748 207h1v1h-1zM749 207h1v1h-1zM750 208h1v1h-1zM751 208h1v1h-1zM752 208h1v1h-1zM753 208h1v1h-1zM754 209h1v1h-1zM755 209h1v1h-1zM756 209h1v1h-1zM757 209h1v1h-1zM758 210h1v1h-1zM759 210h1v1h-1zM760 210h1v1h-1zM761 210h1v1h-1zM762 210h1v1h-1zM763 210h1v1h-1zM764 210h1v1h-1zM765 210h1v1h-1zM766 211h1v1h-1zM767 211h1v1h-1zM768 211h1v1h-1zM769 211h1v1h-1zM770 210h1v1h-1zM771 210h1v1h-1zM772 210h1v1h-1zM773 210h1v1h-1zM774 211h1v1h-1zM775 211h1v1h-1zM776 211h1v1h-1zM777 211h1v1h-1zM778 211h1v1h-1zM779 211h1v1h-1zM780 211h1v1h-1zM781 211h1v1h-1zM782 211h1v1h-1zM783 211h1v1h-1zM784 211h1v1h-1zM785 211h1v1h-1zM786 212h1v1h-1zM787 212h1v1h-1zM788 212h1v1h-1zM789 212h1v1h-1zM790 211h1v1h-1zM791 211h1v1h-1zM792 211h1v1h-1zM793 211h1v1h-1zM794 210h1v1h-1zM795 210h1v1h-1zM796 210h1v1h-1zM797 210h1v1h-1zM798 209h1v1h-1zM799 209h1v1h-1zM800 209h1v1h-1zM801 209h1v1h-1zM802 209h1v1h-1zM803 209h1v1h-1zM804 209h1v1h-1zM805 209h1v1h-1zM806 209h1v1h-1zM807 209h1v1h-1zM808 209h1v1h-1zM809 209h1v1h-1zM810 208h1v1h-1zM811 208h1v1h-1zM812 208h1v1h-1zM813 208h1v1h-1zM814 209h1v1h-1zM815 209h1v1h-1zM816 209h1v1h-1zM817 209h1v1h-1zM818 210h1v1h-1zM819 210h1v1h-1zM820 210h1v1h-1zM821 210h1v1h-1zM822 210h1v1h-1zM823 210h1v1h-1zM824 210h1v1h-1zM825 210h1v1h-1zM826 211h1v1h-1zM827 211h1v1h-1zM828 211h1v1h-1zM829 211h1v1h-1zM830 211h1v1h-1zM831 211h1v1h-1zM832 211h1v1h-1zM833 211h1v1h-1zM834 211h1v1h-1zM835 211h1v1h-1zM836 211h1v1h-1zM837 211h1v1h-1zM838 212h1v1h-1zM839 212h1v1h-1zM840 212h1v1h-1zM841 212h1v1h-1zM842 213h1v1h-1zM843 213h1v1h-1zM844 213h1v1h-1zM845 213h1v1h-1zM846 214h1v1h-1zM847 214h1v1h-1zM848 214h1v1h-1zM849 214h1v1h-1zM850 215h1v1h-1zM851 215h1v1h-1zM852 215h1v1h-1zM853 216h1v1h-1zM854 216h1v1h-1zM855 217h1v1h-1zM856 217h1v1h-1zM857 217h1v1h-1zM858 218h1v1h-1zM859 218h1v1h-1zM860 218h1v1h-1zM861 219h1v1h-1zM862 219h1v1h-1zM863 220h1v1h-1zM864 220h1v1h-1zM865 220h1v1h-1zM866 221h1v1h-1zM867 221h1v1h-1zM868 221h1v1h-1zM869 222h1v1h-1zM870 222h1v1h-1zM871 223h1v1h-1zM872 223h1v1h-1zM873 224h1v1h-1zM874 225h1v1h-1zM875 225h1v1h-1zM876 226h1v1h-1zM877 226h1v1h-1zM878 227h1v1h-1zM879 227h1v1h-1zM880 227h1v1h-1zM881 228h1v1h-1zM882 228h1v1h-1zM883 229h1v1h-1zM884 229h1v1h-1zM885 230h1v1h-1zM886 231h1v1h-1zM887 231h1v1h-1zM888 232h1v1h-1zM889 233h1v1h-1zM890 234h1v1h-1zM891 235h1v1h-1zM892 236h1v1h-1zM893 237h1v1h-1zM894 238h1v1h-1zM895 238h1v1h-1zM896 239h1v1h-1zM897 240h1v1h-1zM898 241h1v1h-1zM899 241h1v1h-1zM900 242h1v1h-1zM901 243h1v1h-1zM902 244h1v1h-1zM903 245h1v1h-1zM904 246h1v1h-1zM905 247h1v1h-1zM906 248h1v1h-1zM907 248h1v1h-1zM908 249h1v1h-1zM909 250h1v1h-1zM910 251h1v2h-1zM911 253h1v1h-1zM912 254h1v1h-1zM913 255h1v1h-1zM914 256h1v1h-1zM915 257h1v1h-1zM916 258h1v1h-1zM917 259h1v1h-1zM918 260h1v1h-1zM919 261h1v1h-1zM920 262h1v1h-1zM921 263h1v1h-1zM922 264h1v1h-1zM923 264h1v1h-1zM924 265h1v1h-1zM925 266h1v1h-1zM926 267h1v2h-1zM927 269h1v1h-1zM928 270h1v1h-1zM929 271h1v1h-1zM930 272h1v1h-1zM931 273h1v1h-1zM932 274h1v1h-1zM933 275h1v1h-1zM934 276h1v1h-1zM935 277h1v1h-1zM936 278h1v1h-1zM937 279h1v1h-1zM938 279h1v1h-1zM939 280h1v1h-1zM940 280h1v1h-1zM941 281h1v1h-1zM942 282h1v1h-1zM943 282h1v1h-1zM944 283h1v1h-1zM945 284h1v1h-1zM946 284h1v1h-1zM947 285h1v1h-1zM948 285h1v1h-1zM949 286h1v1h-1zM950 286h1v1h-1zM951 287h1v1h-1zM952 287h1v1h-1zM953 288h1v1h-1zM954 288h1v1h-1zM955 289h1v1h-1zM956 289h1v1h-1zM957 289h1v1h-1zM958 289h1v1h-1zM959 289h1v1h-1zM960 289h1v1h-1zM961 289h1v1h-1zM962 290h1v1h-1zM963 290h1v1h-1zM964 290h1v1h-1zM965 290h1v1h-1zM966 291h1v1h-1zM967 291h1v1h-1zM968 291h1v1h-1zM969 291h1v1h-1zM970 291h1v1h-1zM971 291h1v1h-1zM972 291h1v1h-1zM973 291h1v1h-1zM974 291h1v1h-1zM975 291h1v1h-1zM976 291h1v1h-1zM977 291h1v1h-1zM978 291h1v1h-1zM979 291h1v1h-1zM980 291h1v1h-1zM981 291h1v1h-1zM982 290h1v1h-1zM983 290h1v1h-1zM984 290h1v1h-1zM985 290h1v1h-1zM986 289h1v1h-1zM987 289h1v1h-1zM988 289h1v1h-1zM989 289h1v1h-1zM990 288h1v1h-1zM991 288h1v1h-1zM992 288h1v1h-1zM993 288h1v1h-1zM994 288h1v1h-1zM995 288h1v1h-1zM996 288h1v1h-1zM997 288h1v1h-1zM998 287h1v1h-1zM999 287h1v1h-1zM1000 287h1v1h-1zM1001 286h1v1h-1zM1002 286h1v1h-1zM1003 285h1v1h-1zM1004 285h1v1h-1zM1005 285h1v1h-1zM1006 285h1v1h-1zM1007 285h1v1h-1zM1008 285h1v1h-1zM1009 285h1v1h-1zM1010 284h1v1h-1zM1011 284h1v1h-1zM1012 284h1v1h-1zM1013 284h1v1h-1zM1014 283h1v1h-1zM1015 283h1v1h-1zM1016 283h1v1h-1zM1017 282h1v1h-1zM1018 282h1v1h-1zM1019 281h1v1h-1zM1020 281h1v1h-1zM1021 280h1v1h-1zM1022 280h1v1h-1zM1023 279h1v1h-1zM1024 279h1v1h-1zM1025 278h1v1h-1zM1026 277h1v1h-1zM1027 277h1v1h-1zM1028 276h1v1h-1zM1029 275h1v1h-1zM1030 274h1v1h-1zM1031 274h1v1h-1zM1032 273h1v1h-1zM1033 272h1v1h-1zM1034 271h1v1h-1zM1035 271h1v1h-1zM1036 270h1v1h-1zM1037 269h1v1h-1zM1038 268h1v1h-1zM1039 267h1v1h-1zM1040 266h1v1h-1zM1041 265h1v1h-1zM1042 263h1v2h-1zM1043 262h1v1h-1zM1044 261h1v1h-1zM1045 260h1v1h-1zM1046 258h1v2h-1zM1047 257h1v1h-1zM1048 256h1v1h-1zM1049 255h1v1h-1zM1050 253h1v2h-1zM1051 252h1v1h-1zM1052 251h1v1h-1zM1053 250h1v1h-1zM1054 248h1v2h-1zM1055 247h1v1h-1zM1056 246h1v1h-1zM1057 245h1v1h-1zM1058 244h1v1h-1zM1059 244h1v1h-1zM1060 243h1v1h-1zM1061 242h1v1h-1zM1062 241h1v1h-1zM1063 240h1v1h-1zM1064 239h1v1h-1zM1065 238h1v1h-1zM1066 238h1v1h-1zM1067 237h1v1h-1zM1068 237h1v1h-1zM1069 236h1v1h-1zM1070 236h1v1h-1zM1071 235h1v1h-1zM1072 235h1v1h-1zM1073 235h1v1h-1zM1074 234h1v1h-1zM1075 234h1v1h-1zM1076 234h1v1h-1zM1077 234h1v1h-1zM1078 235h1v1h-1zM1079 235h1v1h-1zM1080 235h1v1h-1zM1081 235h1v1h-1zM1082 236h1v1h-1zM1083 236h1v1h-1zM1084 236h1v1h-1zM1085 236h1v1h-1zM1086 237h1v1h-1zM1087 237h1v1h-1zM1088 237h1v1h-1zM1089 238h1v1h-1zM1090 238h1v1h-1zM1091 239h1v1h-1zM1092 239h1v1h-1zM1093 240h1v1h-1zM1094 240h1v1h-1zM1095 241h1v1h-1zM1096 241h1v1h-1zM1097 242h1v1h-1zM1098 242h1v1h-1zM1099 243h1v1h-1zM1100 243h1v1h-1zM1101 244h1v1h-1zM1102 244h1v1h-1zM1103 245h1v1h-1zM1104 245h1v1h-1zM1105 245h1v1h-1zM1106 246h1v1h-1zM1107 246h1v1h-1zM1108 246h1v1h-1zM1109 246h1v1h-1zM1110 246h1v1h-1zM1111 246h1v1h-1zM1112 246h1v1h-1zM1113 245h1v1h-1zM1114 245h1v1h-1zM1115 244h1v1h-1zM1116 244h1v1h-1zM1117 244h1v1h-1zM1118 243h1v1h-1zM1119 243h1v1h-1zM1120 243h1v1h-1zM1121 243h1v1h-1zM1122 243h1v1h-1zM1123 243h1v1h-1zM1124 243h1v1h-1zM1125 243h1v1h-1zM1126 242h1v1h-1zM1127 242h1v1h-1zM1128 242h1v1h-1zM1129 242h1v1h-1zM1130 241h1v1h-1zM1131 241h1v1h-1zM1132 241h1v1h-1zM1133 240h1v1h-1zM1134 239h1v1h-1zM1135 238h1v1h-1zM1136 237h1v1h-1zM1137 236h1v1h-1zM1138 234h1v2h-1zM1139 233h1v1h-1zM1140 232h1v1h-1zM1141 231h1v1h-1zM1142 230h1v1h-1zM1143 229h1v1h-1zM1144 228h1v1h-1zM1145 227h1v1h-1zM1146 226h1v1h-1zM1147 225h1v1h-1zM1148 224h1v1h-1zM1149 223h1v1h-1zM1150 222h1v1h-1zM1151 221h1v1h-1zM1152 220h1v1h-1zM1153 219h1v1h-1zM1154 218h1v1h-1zM1155 218h1v1h-1zM1156 217h1v1h-1zM1157 216h1v1h-1zM1158 215h1v1h-1zM1159 215h1v1h-1zM1160 214h1v1h-1zM1161 213h1v1h-1zM1162 213h1v1h-1zM1163 212h1v1h-1zM1164 212h1v1h-1zM1165 211h1v1h-1zM1166 211h1v1h-1zM1167 210h1v1h-1zM1168 210h1v1h-1zM1169 210h1v1h-1zM1170 209h1v1h-1zM1171 209h1v1h-1zM1172 209h1v1h-1zM1173 208h1v1h-1zM1174 207h1v1h-1zM1175 207h1v1h-1zM1176 206h1v1h-1zM1177 205h1v1h-1zM1178 205h1v1h-1zM1179 204h1v1h-1zM1180 204h1v1h-1zM1181 203h1v1h-1zM1182 202h1v1h-1zM1183 202h1v1h-1zM1184 201h1v1h-1zM1185 200h1v1h-1zM1186 200h1v1h-1zM1187 199h1v1h-1zM1188 199h1v1h-1zM1189 198h1v1h-1zM1190 197h1v1h-1zM1191 196h1v1h-1zM1192 195h1v1h-1zM1193 194h1v1h-1zM1194 193h1v1h-1zM1195 193h1v1h-1zM1196 192h1v1h-1zM1197 191h1v1h-1zM1198 189h1v2h-1zM1199 188h1v1h-1zM1200 187h1v1h-1zM1201 186h1v1h-1zM1202 185h1v1h-1zM1203 185h1v1h-1zM1204 184h1v1h-1zM1205 183h1v1h-1zM1206 181h1v2h-1zM1207 180h1v1h-1zM1208 179h1v1h-1zM1209 178h1v1h-1zM1210 177h1v1h-1zM1211 177h1v1h-1zM1212 176h1v1h-1zM1213 175h1v1h-1zM1214 174h1v1h-1zM1215 173h1v1h-1zM1216 172h1v1h-1zM1217 171h1v1h-1zM1218 170h1v1h-1zM1219 170h1v1h-1zM1220 169h1v1h-1zM1221 168h1v1h-1zM1222 167h1v1h-1zM1223 167h1v1h-1zM1224 166h1v1h-1zM1225 165h1v1h-1zM1226 164h1v1h-1zM1227 164h1v1h-1zM1228 163h1v1h-1zM1229 162h1v1h-1zM1230 161h1v1h-1zM1231 161h1v1h-1zM1232 160h1v1h-1zM1233 160h1v1h-1zM1234 159h1v1h-1zM1235 159h1v1h-1zM1236 159h1v1h-1zM1237 158h1v1h-1zM1238 158h1v1h-1zM1239 157h1v1h-1zM1240 157h1v1h-1zM1241 157h1v1h-1zM1242 156h1v1h-1zM1243 156h1v1h-1zM1244 156h1v1h-1zM1245 155h1v1h-1zM1246 154h1v1h-1zM1247 154h1v1h-1zM1248 153h1v1h-1zM1249 152h1v1h-1zM1250 152h1v1h-1zM1251 151h1v1h-1zM1252 151h1v1h-1zM1253 151h1v1h-1zM1254 150h1v1h-1zM1255 150h1v1h-1zM1256 150h1v1h-1zM1257 151h1v1h-1zM1258 151h1v1h-1zM1259 152h1v1h-1zM1260 152h1v1h-1zM1261 152h1v1h-1zM1262 153h1v1h-1zM1263 153h1v1h-1zM1264 153h1v1h-1zM1265 153h1v1h-1zM1266 154h1v1h-1zM1267 154h1v1h-1zM1268 154h1v1h-1z" fill="#0000cd"/>
<rect x="4" y="48" width="1594" height="2" fill="#ff0000"/>
<rect x="4" y="140" width="1594" height="2" fill="#ff0000"/>
<rect x="4" y="230" width="1594" height="2" fill="#00ff00"/>
<rect x="4" y="337" width="1594" height="2" fill="#0000ff"/>
<rect x="4" y="446" width="1594" height="2" fill="#0000ff"/>
<path d="M1271.5 32 L1281.5 32 L1276.5 37 Z" fill="#c0c0c0"/>
</g>
<path d="M7 38 L14.2 38 L10.6 41.8 Z" fill="#000"/>
<text x="19.3" y="43.3" font-size="9.5" fill="#000" textLength="65.2" lengthAdjust="spacingAndGlyphs">USDCNH,Daily</text>
<text x="91.3" y="43.3" font-size="9.5" fill="#000" textLength="32.5" lengthAdjust="spacingAndGlyphs">7.09477</text>
<text x="127.15" y="43.3" font-size="9.5" fill="#000" textLength="32.5" lengthAdjust="spacingAndGlyphs">7.09548</text>
<text x="163.0" y="43.3" font-size="9.5" fill="#000" textLength="32.5" lengthAdjust="spacingAndGlyphs">7.09152</text>
<text x="198.85000000000002" y="43.3" font-size="9.5" fill="#000" textLength="32.5" lengthAdjust="spacingAndGlyphs">7.09285</text>
<g shape-rendering="crispEdges">
<rect x="1597" y="39" width="2" height="1" fill="#000"/>
<rect x="1597" y="72" width="2" height="1" fill="#000"/>
<rect x="1597" y="105" width="2" height="1" fill="#000"/>
<rect x="1597" y="138" width="2" height="1" fill="#000"/>
<rect x="1597" y="171" width="2" height="1" fill="#000"/>
<rect x="1597" y="204" width="2" height="1" fill="#000"/>
<rect x="1597" y="237" width="2" height="1" fill="#000"/>
<rect x="1597" y="270" width="2" height="1" fill="#000"/>
<rect x="1597" y="303" width="2" height="1" fill="#000"/>
<rect x="1597" y="336" width="2" height="1" fill="#000"/>
<rect x="1597" y="369" width="2" height="1" fill="#000"/>
<rect x="1597" y="402" width="2" height="1" fill="#000"/>
<rect x="1597" y="435" width="2" height="1" fill="#000"/>
<rect x="1597" y="468" width="2" height="1" fill="#000"/>
<rect x="1597" y="501" width="2" height="1" fill="#000"/>
<rect x="1597" y="534" width="2" height="1" fill="#000"/>
</g>
<text x="1602.3" y="43" font-size="9.5" fill="#000" textLength="32" lengthAdjust="spacingAndGlyphs">7.21310</text>
<text x="1602.3" y="76" font-size="9.5" fill="#000" textLength="32" lengthAdjust="spacingAndGlyphs">7.17680</text>
<text x="1602.3" y="109" font-size="9.5" fill="#000" textLength="32" lengthAdjust="spacingAndGlyphs">7.14050</text>
<text x="1602.3" y="175" font-size="9.5" fill="#000" textLength="32" lengthAdjust="spacingAndGlyphs">7.06680</text>
<text x="1602.3" y="208" font-size="9.5" fill="#000" textLength="32" lengthAdjust="spacingAndGlyphs">7.03050</text>
<text x="1602.3" y="241" font-size="9.5" fill="#000" textLength="32" lengthAdjust="spacingAndGlyphs">6.99420</text>
<text x="1602.3" y="274" font-size="9.5" fill="#000" textLength="32" lengthAdjust="spacingAndGlyphs">6.95790</text>
<text x="1602.3" y="307" font-size="9.5" fill="#000" textLength="32" lengthAdjust="spacingAndGlyphs">6.92050</text>
<text x="1602.3" y="373" font-size="9.5" fill="#000" textLength="32" lengthAdjust="spacingAndGlyphs">6.84790</text>
<text x="1602.3" y="406" font-size="9.5" fill="#000" textLength="32" lengthAdjust="spacingAndGlyphs">6.81160</text>
<text x="1602.3" y="439" font-size="9.5" fill="#000" textLength="32" lengthAdjust="spacingAndGlyphs">6.77420</text>
<text x="1602.3" y="472" font-size="9.5" fill="#000" textLength="32" lengthAdjust="spacingAndGlyphs">6.73790</text>
<text x="1602.3" y="505" font-size="9.5" fill="#000" textLength="32" lengthAdjust="spacingAndGlyphs">6.70160</text>
<text x="1602.3" y="538" font-size="9.5" fill="#000" textLength="32" lengthAdjust="spacingAndGlyphs">6.66530</text>
<rect x="1598" y="143" width="40" height="11" fill="#000" shape-rendering="crispEdges"/>
<text x="1602.3" y="152" font-size="9.5" fill="#fff" textLength="32" lengthAdjust="spacingAndGlyphs">7.09285</text>
<rect x="1598" y="43" width="40" height="11" fill="#ff0000" shape-rendering="crispEdges"/>
<text x="1602.3" y="52" font-size="9.5" fill="#fff" textLength="32" lengthAdjust="spacingAndGlyphs">7.20193</text>
<rect x="1598" y="135" width="40" height="11" fill="#ff0000" shape-rendering="crispEdges"/>
<text x="1602.3" y="144" font-size="9.5" fill="#fff" textLength="32" lengthAdjust="spacingAndGlyphs">7.10011</text>
<rect x="1598" y="225" width="40" height="11" fill="#00ff00" shape-rendering="crispEdges"/>
<text x="1602.3" y="234" font-size="9.5" fill="#fff" textLength="32" lengthAdjust="spacingAndGlyphs">7.00029</text>
<rect x="1598" y="332" width="40" height="11" fill="#0000ff" shape-rendering="crispEdges"/>
<text x="1602.3" y="341" font-size="9.5" fill="#fff" textLength="32" lengthAdjust="spacingAndGlyphs">6.88250</text>
<rect x="1598" y="441" width="40" height="11" fill="#0000ff" shape-rendering="crispEdges"/>
<text x="1602.3" y="450" font-size="9.5" fill="#fff" textLength="32" lengthAdjust="spacingAndGlyphs">6.76171</text>
<g shape-rendering="crispEdges">
<line x1="5" x2="1596" y1="567.5" y2="567.5" stroke="#c0c0c0" stroke-width="1" stroke-dasharray="3 3"/>
<line x1="5" x2="1596" y1="603.5" y2="603.5" stroke="#c0c0c0" stroke-width="1" stroke-dasharray="3 3"/>
<path d="M4 588h1v2h-1zM5 590h1v2h-1zM6 592h1v2h-1zM7 594h1v2h-1zM8 596h1v2h-1zM9 594h1v2h-1zM10 592h1v2h-1zM11 590h1v2h-1zM12 588h1v2h-1zM13 588h1v1h-1zM14 589h1v1h-1zM15 589h1v1h-1zM16 589h1v1h-1zM17 588h1v1h-1zM18 587h1v1h-1zM19 587h1v1h-1zM20 586h1v1h-1zM21 585h1v1h-1zM22 584h1v1h-1zM23 583h1v1h-1zM24 582h1v1h-1zM25 581h1v1h-1zM26 581h1v1h-1zM27 580h1v1h-1zM28 580h1v1h-1zM29 578h1v2h-1zM30 577h1v1h-1zM31 575h1v2h-1zM32 574h1v1h-1zM33 575h1v2h-1zM34 577h1v2h-1zM35 579h1v2h-1zM36 581h1v1h-1zM37 581h1v1h-1zM38 580h1v1h-1zM39 580h1v1h-1zM40 580h1v1h-1zM41 580h1v1h-1zM42 579h1v1h-1zM43 579h1v1h-1zM44 579h1v1h-1zM45 579h1v1h-1zM46 579h1v1h-1zM47 579h1v1h-1zM48 579h1v1h-1zM49 580h1v2h-1zM50 582h1v1h-1zM51 583h1v2h-1zM52 585h1v1h-1zM53 583h1v2h-1zM54 582h1v1h-1zM55 580h1v2h-1zM56 579h1v1h-1zM57 580h1v1h-1zM58 580h1v1h-1zM59 581h1v1h-1zM60 581h1v1h-1zM61 581h1v1h-1zM62 582h1v1h-1zM63 582h1v1h-1zM64 582h1v1h-1zM65 582h1v1h-1zM66 582h1v1h-1zM67 582h1v1h-1zM68 579h1v4h-1zM69 572h1v7h-1zM70 565h1v7h-1zM71 558h1v7h-1zM72 554h1v4h-1zM73 555h1v1h-1zM74 556h1v1h-1zM75 557h1v1h-1zM76 558h1v1h-1zM77 558h1v1h-1zM78 557h1v1h-1zM79 557h1v1h-1zM80 557h1v1h-1zM81 557h1v1h-1zM82 556h1v1h-1zM83 556h1v1h-1zM84 556h1v1h-1zM85 556h1v1h-1zM86 555h1v1h-1zM87 555h1v1h-1zM88 555h1v1h-1zM89 555h1v1h-1zM90 555h1v1h-1zM91 555h1v1h-1zM92 555h1v1h-1zM93 555h1v1h-1zM94 556h1v1h-1zM95 556h1v1h-1zM96 556h1v1h-1zM97 557h1v1h-1zM98 557h1v1h-1zM99 558h1v1h-1zM100 558h1v1h-1zM101 558h1v1h-1zM102 558h1v1h-1zM103 558h1v1h-1zM104 558h1v1h-1zM105 559h1v1h-1zM106 559h1v1h-1zM107 560h1v1h-1zM108 560h1v1h-1zM109 561h1v1h-1zM110 562h1v2h-1zM111 564h1v1h-1zM112 565h1v1h-1zM113 565h1v1h-1zM114 566h1v1h-1zM115 566h1v1h-1zM116 566h1v1h-1zM117 567h1v1h-1zM118 567h1v1h-1zM119 568h1v1h-1zM120 568h1v1h-1zM121 567h1v1h-1zM122 567h1v1h-1zM123 566h1v1h-1zM124 566h1v1h-1zM125 565h1v1h-1zM126 565h1v1h-1zM127 564h1v1h-1zM128 564h1v1h-1zM129 565h1v1h-1zM130 566h1v1h-1zM131 566h1v1h-1zM132 567h1v1h-1zM133 567h1v1h-1zM134 566h1v1h-1zM135 566h1v1h-1zM136 566h1v1h-1zM137 566h1v1h-1zM138 567h1v1h-1zM139 567h1v1h-1zM140 567h1v1h-1zM141 568h1v1h-1zM142 568h1v1h-1zM143 569h1v1h-1zM144 569h1v1h-1zM145 569h1v1h-1zM146 569h1v1h-1zM147 569h1v1h-1zM148 569h1v1h-1zM149 569h1v1h-1zM150 569h1v1h-1zM151 569h1v1h-1zM152 569h1v1h-1zM153 570h1v1h-1zM154 570h1v1h-1zM155 571h1v1h-1zM156 571h1v1h-1zM157 570h1v1h-1zM158 569h1v1h-1zM159 568h1v1h-1zM160 567h1v1h-1zM161 567h1v1h-1zM162 566h1v1h-1zM163 566h1v1h-1zM164 566h1v1h-1zM165 567h1v1h-1zM166 567h1v1h-1zM167 568h1v1h-1zM168 568h1v1h-1zM169 569h1v2h-1zM170 571h1v2h-1zM171 573h1v2h-1zM172 575h1v2h-1zM173 575h1v1h-1zM174 575h1v1h-1zM175 574h1v1h-1zM176 574h1v1h-1zM177 574h1v1h-1zM178 574h1v1h-1zM179 574h1v1h-1zM180 574h1v1h-1zM181 574h1v1h-1zM182 573h1v1h-1zM183 573h1v1h-1zM184 573h1v1h-1zM185 573h1v1h-1zM186 574h1v1h-1zM187 574h1v1h-1zM188 574h1v1h-1zM189 574h1v1h-1zM190 575h1v1h-1zM191 575h1v1h-1zM192 575h1v2h-1zM193 577h1v3h-1zM194 580h1v3h-1zM195 583h1v3h-1zM196 586h1v2h-1zM197 587h1v1h-1zM198 588h1v1h-1zM199 588h1v1h-1zM200 588h1v2h-1zM201 590h1v3h-1zM202 593h1v4h-1zM203 597h1v3h-1zM204 600h1v2h-1zM205 599h1v2h-1zM206 598h1v1h-1zM207 596h1v2h-1zM208 595h1v1h-1zM209 596h1v1h-1zM210 596h1v1h-1zM211 597h1v1h-1zM212 597h1v1h-1zM213 596h1v1h-1zM214 595h1v1h-1zM215 595h1v1h-1zM216 594h1v1h-1zM217 593h1v1h-1zM218 592h1v1h-1zM219 592h1v1h-1zM220 591h1v1h-1zM221 591h1v1h-1zM222 591h1v1h-1zM223 591h1v1h-1zM224 591h1v1h-1zM225 591h1v1h-1zM226 592h1v1h-1zM227 592h1v1h-1zM228 592h1v1h-1zM229 593h1v1h-1zM230 593h1v1h-1zM231 594h1v1h-1zM232 594h1v1h-1zM233 594h1v1h-1zM234 594h1v1h-1zM235 594h1v1h-1zM236 594h1v1h-1zM237 595h1v1h-1zM238 595h1v1h-1zM239 596h1v1h-1zM240 596h1v1h-1zM241 594h1v2h-1zM242 592h1v2h-1zM243 590h1v2h-1zM244 588h1v2h-1zM245 588h1v1h-1zM246 587h1v1h-1zM247 587h1v1h-1zM248 587h1v1h-1zM249 588h1v1h-1zM250 589h1v1h-1zM251 589h1v1h-1zM252 590h1v1h-1zM253 588h1v2h-1zM254 586h1v2h-1zM255 584h1v2h-1zM256 582h1v2h-1zM257 582h1v1h-1zM258 583h1v1h-1zM259 583h1v1h-1zM260 583h1v1h-1zM261 584h1v1h-1zM262 584h1v1h-1zM263 585h1v1h-1zM264 585h1v1h-1zM265 585h1v1h-1zM266 584h1v1h-1zM267 584h1v1h-1zM268 584h1v1h-1zM269 585h1v2h-1zM270 587h1v2h-1zM271 589h1v2h-1zM272 591h1v1h-1zM273 591h1v1h-1zM274 591h1v1h-1zM275 591h1v1h-1zM276 591h1v1h-1zM277 590h1v1h-1zM278 589h1v1h-1zM279 588h1v1h-1zM280 587h1v1h-1zM281 587h1v1h-1zM282 588h1v1h-1zM283 588h1v1h-1zM284 588h1v1h-1zM285 588h1v1h-1zM286 589h1v1h-1zM287 589h1v1h-1zM288 589h1v1h-1zM289 589h1v1h-1zM290 588h1v1h-1zM291 588h1v1h-1zM292 588h1v1h-1zM293 589h1v1h-1zM294 589h1v1h-1zM295 590h1v1h-1zM296 590h1v1h-1zM297 589h1v1h-1zM298 587h1v2h-1zM299 586h1v1h-1zM300 585h1v1h-1zM301 585h1v1h-1zM302 586h1v1h-1zM303 586h1v1h-1zM304 586h1v1h-1zM305 586h1v1h-1zM306 587h1v1h-1zM307 587h1v1h-1zM308 587h1v1h-1zM309 587h1v1h-1zM310 587h1v1h-1zM311 587h1v1h-1zM312 587h1v1h-1zM313 586h1v1h-1zM314 586h1v1h-1zM315 585h1v1h-1zM316 585h1v1h-1zM317 586h1v2h-1zM318 588h1v1h-1zM319 589h1v2h-1zM320 591h1v1h-1zM321 591h1v1h-1zM322 592h1v1h-1zM323 592h1v1h-1zM324 592h1v1h-1zM325 590h1v2h-1zM326 589h1v1h-1zM327 587h1v2h-1zM328 586h1v1h-1zM329 586h1v1h-1zM330 586h1v1h-1zM331 586h1v1h-1zM332 586h1v1h-1zM333 584h1v2h-1zM334 583h1v1h-1zM335 581h1v2h-1zM336 580h1v1h-1zM337 581h1v1h-1zM338 581h1v1h-1zM339 582h1v1h-1zM340 582h1v1h-1zM341 582h1v1h-1zM342 582h1v1h-1zM343 582h1v1h-1zM344 582h1v1h-1zM345 580h1v2h-1zM346 578h1v2h-1zM347 576h1v2h-1zM348 574h1v2h-1zM349 570h1v4h-1zM350 566h1v4h-1zM351 562h1v4h-1zM352 560h1v2h-1zM353 560h1v1h-1zM354 559h1v1h-1zM355 559h1v1h-1zM356 558h1v2h-1zM357 556h1v2h-1zM358 554h1v2h-1zM359 552h1v2h-1zM360 550h1v2h-1zM361 552h1v3h-1zM362 555h1v3h-1zM363 558h1v3h-1zM364 561h1v2h-1zM365 561h1v1h-1zM366 560h1v1h-1zM367 560h1v1h-1zM368 559h1v1h-1zM369 560h1v1h-1zM370 561h1v2h-1zM371 563h1v1h-1zM372 564h1v1h-1zM373 563h1v1h-1zM374 563h1v1h-1zM375 562h1v1h-1zM376 562h1v1h-1zM377 562h1v1h-1zM378 563h1v1h-1zM379 563h1v1h-1zM380 563h1v1h-1zM381 563h1v1h-1zM382 563h1v1h-1zM383 563h1v1h-1zM384 563h1v3h-1zM385 566h1v4h-1zM386 570h1v4h-1zM387 574h1v4h-1zM388 578h1v3h-1zM389 579h1v1h-1zM390 577h1v2h-1zM391 576h1v1h-1zM392 575h1v1h-1zM393 575h1v1h-1zM394 576h1v1h-1zM395 576h1v1h-1zM396 576h1v1h-1zM397 576h1v1h-1zM398 576h1v1h-1zM399 576h1v1h-1zM400 576h1v1h-1zM401 576h1v1h-1zM402 577h1v1h-1zM403 577h1v1h-1zM404 577h1v1h-1zM405 576h1v1h-1zM406 575h1v1h-1zM407 575h1v1h-1zM408 574h1v1h-1zM409 574h1v1h-1zM410 573h1v1h-1zM411 573h1v1h-1zM412 573h1v1h-1zM413 574h1v1h-1zM414 574h1v1h-1zM415 575h1v1h-1zM416 575h1v1h-1zM417 574h1v1h-1zM418 573h1v1h-1zM419 572h1v1h-1zM420 571h1v1h-1zM421 570h1v1h-1zM422 569h1v1h-1zM423 568h1v1h-1zM424 567h1v1h-1zM425 567h1v1h-1zM426 566h1v1h-1zM427 566h1v1h-1zM428 566h1v1h-1zM429 565h1v1h-1zM430 564h1v1h-1zM431 564h1v1h-1zM432 563h1v1h-1zM433 564h1v1h-1zM434 564h1v1h-1zM435 565h1v1h-1zM436 565h1v1h-1zM437 565h1v1h-1zM438 565h1v1h-1zM439 565h1v1h-1zM440 565h1v1h-1zM441 566h1v1h-1zM442 567h1v2h-1zM443 569h1v1h-1zM444 570h1v1h-1zM445 569h1v1h-1zM446 569h1v1h-1zM447 568h1v1h-1zM448 568h1v1h-1zM449 568h1v1h-1zM450 568h1v1h-1zM451 568h1v1h-1zM452 568h1v1h-1zM453 567h1v1h-1zM454 567h1v1h-1zM455 566h1v1h-1zM456 566h1v1h-1zM457 567h1v1h-1zM458 567h1v1h-1zM459 568h1v1h-1zM460 568h1v1h-1zM461 569h1v2h-1zM462 571h1v2h-1zM463 573h1v2h-1zM464 575h1v2h-1zM465 576h1v1h-1zM466 577h1v1h-1zM467 577h1v1h-1zM468 577h1v1h-1zM469 578h1v2h-1zM470 580h1v1h-1zM471 581h1v2h-1zM472 583h1v1h-1zM473 583h1v1h-1zM474 584h1v1h-1zM475 584h1v1h-1zM476 584h1v1h-1zM477 583h1v1h-1zM478 583h1v1h-1zM479 582h1v1h-1zM480 582h1v1h-1zM481 583h1v1h-1zM482 583h1v1h-1zM483 584h1v1h-1zM484 584h1v1h-1zM485 584h1v1h-1zM486 583h1v1h-1zM487 583h1v1h-1zM488 583h1v2h-1zM489 585h1v2h-1zM490 587h1v2h-1zM491 589h1v2h-1zM492 591h1v2h-1zM493 593h1v1h-1zM494 594h1v2h-1zM495 596h1v1h-1zM496 597h1v1h-1zM497 596h1v1h-1zM498 596h1v1h-1zM499 595h1v1h-1zM500 595h1v1h-1zM501 594h1v1h-1zM502 592h1v2h-1zM503 591h1v1h-1zM504 590h1v1h-1zM505 589h1v1h-1zM506 588h1v1h-1zM507 587h1v1h-1zM508 586h1v1h-1zM509 586h1v1h-1zM510 587h1v1h-1zM511 587h1v1h-1zM512 587h1v1h-1zM513 586h1v1h-1zM514 585h1v1h-1zM515 585h1v1h-1zM516 584h1v1h-1zM517 585h1v1h-1zM518 585h1v1h-1zM519 586h1v1h-1zM520 586h1v1h-1zM521 585h1v1h-1zM522 583h1v2h-1zM523 582h1v1h-1zM524 581h1v1h-1zM525 581h1v1h-1zM526 581h1v1h-1zM527 581h1v1h-1zM528 581h1v1h-1zM529 581h1v1h-1zM530 581h1v1h-1zM531 581h1v1h-1zM532 581h1v1h-1zM533 580h1v1h-1zM534 579h1v1h-1zM535 579h1v1h-1zM536 578h1v1h-1zM537 578h1v1h-1zM538 579h1v1h-1zM539 579h1v1h-1zM540 579h1v1h-1zM541 578h1v1h-1zM542 578h1v1h-1zM543 577h1v1h-1zM544 577h1v1h-1zM545 576h1v1h-1zM546 576h1v1h-1zM547 575h1v1h-1zM548 575h1v1h-1zM549 576h1v1h-1zM550 576h1v1h-1zM551 577h1v1h-1zM552 577h1v1h-1zM553 576h1v1h-1zM554 576h1v1h-1zM555 575h1v1h-1zM556 575h1v1h-1zM557 575h1v1h-1zM558 576h1v1h-1zM559 576h1v1h-1zM560 576h1v1h-1zM561 577h1v1h-1zM562 578h1v2h-1zM563 580h1v1h-1zM564 581h1v1h-1zM565 582h1v1h-1zM566 583h1v2h-1zM567 585h1v1h-1zM568 586h1v1h-1zM569 586h1v1h-1zM570 587h1v1h-1zM571 587h1v1h-1zM572 587h1v1h-1zM573 585h1v2h-1zM574 584h1v1h-1zM575 582h1v2h-1zM576 581h1v1h-1zM577 580h1v1h-1zM578 578h1v2h-1zM579 577h1v1h-1zM580 576h1v1h-1zM581 577h1v1h-1zM582 578h1v1h-1zM583 579h1v1h-1zM584 580h1v2h-1zM585 582h1v2h-1zM586 584h1v2h-1zM587 586h1v2h-1zM588 588h1v2h-1zM589 590h1v1h-1zM590 591h1v1h-1zM591 592h1v1h-1zM592 593h1v1h-1zM593 593h1v1h-1zM594 594h1v1h-1zM595 594h1v1h-1zM596 594h1v1h-1zM597 594h1v1h-1zM598 595h1v1h-1zM599 595h1v1h-1zM600 595h1v1h-1zM601 594h1v1h-1zM602 593h1v1h-1zM603 592h1v1h-1zM604 591h1v1h-1zM605 590h1v1h-1zM606 589h1v1h-1zM607 589h1v1h-1zM608 588h1v1h-1zM609 589h1v1h-1zM610 590h1v1h-1zM611 590h1v1h-1zM612 591h1v1h-1zM613 591h1v1h-1zM614 592h1v1h-1zM615 592h1v1h-1zM616 592h1v1h-1zM617 592h1v1h-1zM618 593h1v1h-1zM619 593h1v1h-1zM620 593h1v1h-1zM621 593h1v1h-1zM622 593h1v1h-1zM623 593h1v1h-1zM624 593h1v1h-1zM625 593h1v1h-1zM626 592h1v1h-1zM627 592h1v1h-1zM628 592h1v1h-1zM629 593h1v1h-1zM630 593h1v1h-1zM631 594h1v1h-1zM632 594h1v1h-1zM633 594h1v1h-1zM634 593h1v1h-1zM635 593h1v1h-1zM636 593h1v1h-1zM637 594h1v1h-1zM638 594h1v1h-1zM639 595h1v1h-1zM640 595h1v1h-1zM641 596h1v1h-1zM642 596h1v1h-1zM643 597h1v1h-1zM644 597h1v1h-1zM645 596h1v1h-1zM646 595h1v1h-1zM647 594h1v1h-1zM648 593h1v1h-1zM649 593h1v1h-1zM650 592h1v1h-1zM651 592h1v1h-1zM652 592h1v1h-1zM653 593h1v1h-1zM654 594h1v1h-1zM655 594h1v1h-1zM656 595h1v1h-1zM657 596h1v1h-1zM658 596h1v1h-1zM659 597h1v1h-1zM660 597h1v1h-1zM661 598h1v1h-1zM662 598h1v1h-1zM663 599h1v1h-1zM664 599h1v1h-1zM665 598h1v1h-1zM666 598h1v1h-1zM667 597h1v1h-1zM668 597h1v1h-1zM669 598h1v1h-1zM670 599h1v1h-1zM671 599h1v1h-1zM672 600h1v1h-1zM673 601h1v2h-1zM674 603h1v1h-1zM675 604h1v2h-1zM676 606h1v1h-1zM677 606h1v1h-1zM678 606h1v1h-1zM679 606h1v1h-1zM680 606h1v1h-1zM681 607h1v1h-1zM682 608h1v1h-1zM683 609h1v1h-1zM684 609h1v2h-1zM685 607h1v2h-1zM686 605h1v2h-1zM687 603h1v2h-1zM688 601h1v2h-1zM689 601h1v1h-1zM690 602h1v1h-1zM691 602h1v1h-1zM692 602h1v1h-1zM693 600h1v2h-1zM694 598h1v2h-1zM695 596h1v2h-1zM696 595h1v1h-1zM697 595h1v1h-1zM698 594h1v1h-1zM699 594h1v1h-1zM700 594h1v1h-1zM701 593h1v1h-1zM702 592h1v1h-1zM703 591h1v1h-1zM704 590h1v1h-1zM705 590h1v1h-1zM706 589h1v1h-1zM707 589h1v1h-1zM708 589h1v1h-1zM709 590h1v2h-1zM710 592h1v2h-1zM711 594h1v2h-1zM712 596h1v1h-1zM713 596h1v1h-1zM714 595h1v1h-1zM715 595h1v1h-1zM716 595h1v1h-1zM717 593h1v2h-1zM718 591h1v2h-1zM719 589h1v2h-1zM720 588h1v1h-1zM721 587h1v1h-1zM722 587h1v1h-1zM723 586h1v1h-1zM724 586h1v1h-1zM725 585h1v1h-1zM726 585h1v1h-1zM727 584h1v1h-1zM728 584h1v1h-1zM729 585h1v1h-1zM730 586h1v1h-1zM731 586h1v1h-1zM732 587h1v1h-1zM733 586h1v1h-1zM734 584h1v2h-1zM735 583h1v1h-1zM736 582h1v1h-1zM737 582h1v1h-1zM738 583h1v1h-1zM739 583h1v1h-1zM740 583h1v1h-1zM741 584h1v1h-1zM742 585h1v1h-1zM743 585h1v1h-1zM744 586h1v1h-1zM745 587h1v1h-1zM746 588h1v1h-1zM747 589h1v1h-1zM748 590h1v1h-1zM749 590h1v1h-1zM750 590h1v1h-1zM751 590h1v1h-1zM752 590h1v1h-1zM753 589h1v1h-1zM754 587h1v2h-1zM755 586h1v1h-1zM756 585h1v1h-1zM757 585h1v1h-1zM758 586h1v1h-1zM759 586h1v1h-1zM760 586h1v1h-1zM761 586h1v1h-1zM762 585h1v1h-1zM763 585h1v1h-1zM764 585h1v1h-1zM765 584h1v1h-1zM766 583h1v1h-1zM767 582h1v1h-1zM768 581h1v1h-1zM769 579h1v2h-1zM770 577h1v2h-1zM771 575h1v2h-1zM772 573h1v2h-1zM773 575h1v2h-1zM774 577h1v3h-1zM775 580h1v2h-1zM776 582h1v2h-1zM777 584h1v1h-1zM778 584h1v1h-1zM779 585h1v1h-1zM780 585h1v1h-1zM781 586h1v1h-1zM782 586h1v1h-1zM783 587h1v1h-1zM784 587h1v1h-1zM785 588h1v1h-1zM786 588h1v1h-1zM787 589h1v1h-1zM788 589h1v1h-1zM789 588h1v1h-1zM790 587h1v1h-1zM791 586h1v1h-1zM792 585h1v1h-1zM793 586h1v1h-1zM794 587h1v1h-1zM795 587h1v1h-1zM796 588h1v1h-1zM797 587h1v1h-1zM798 587h1v1h-1zM799 586h1v1h-1zM800 586h1v2h-1zM801 588h1v3h-1zM802 591h1v3h-1zM803 594h1v3h-1zM804 597h1v2h-1zM805 595h1v2h-1zM806 593h1v2h-1zM807 591h1v2h-1zM808 589h1v2h-1zM809 590h1v1h-1zM810 590h1v1h-1zM811 591h1v1h-1zM812 591h1v1h-1zM813 592h1v1h-1zM814 592h1v1h-1zM815 593h1v1h-1zM816 593h1v1h-1zM817 593h1v1h-1zM818 593h1v1h-1zM819 593h1v1h-1zM820 593h1v1h-1zM821 592h1v1h-1zM822 592h1v1h-1zM823 591h1v1h-1zM824 591h1v1h-1zM825 591h1v1h-1zM826 591h1v1h-1zM827 591h1v1h-1zM828 591h1v1h-1zM829 591h1v1h-1zM830 591h1v1h-1zM831 591h1v1h-1zM832 591h1v1h-1zM833 591h1v1h-1zM834 590h1v1h-1zM835 590h1v1h-1zM836 590h1v1h-1zM837 589h1v1h-1zM838 589h1v1h-1zM839 588h1v1h-1zM840 588h1v1h-1zM841 588h1v1h-1zM842 589h1v1h-1zM843 589h1v1h-1zM844 589h1v1h-1zM845 589h1v1h-1zM846 590h1v1h-1zM847 590h1v1h-1zM848 590h1v1h-1zM849 591h1v1h-1zM850 592h1v1h-1zM851 592h1v1h-1zM852 593h1v1h-1zM853 593h1v1h-1zM854 592h1v1h-1zM855 592h1v1h-1zM856 592h1v1h-1zM857 592h1v1h-1zM858 592h1v1h-1zM859 592h1v1h-1zM860 592h1v1h-1zM861 593h1v1h-1zM862 594h1v1h-1zM863 595h1v1h-1zM864 596h1v1h-1zM865 597h1v1h-1zM866 598h1v1h-1zM867 599h1v1h-1zM868 600h1v1h-1zM869 600h1v1h-1zM870 601h1v1h-1zM871 601h1v1h-1zM872 601h1v1h-1zM873 601h1v1h-1zM874 600h1v1h-1zM875 600h1v1h-1zM876 600h1v1h-1zM877 599h1v1h-1zM878 599h1v1h-1zM879 598h1v1h-1zM880 598h1v1h-1zM881 598h1v1h-1zM882 597h1v1h-1zM883 597h1v1h-1zM884 597h1v1h-1zM885 596h1v1h-1zM886 595h1v1h-1zM887 595h1v1h-1zM888 594h1v1h-1zM889 595h1v2h-1zM890 597h1v2h-1zM891 599h1v2h-1zM892 601h1v2h-1zM893 602h1v1h-1zM894 601h1v1h-1zM895 601h1v1h-1zM896 601h1v1h-1zM897 602h1v1h-1zM898 603h1v1h-1zM899 604h1v1h-1zM900 605h1v1h-1zM901 606h1v1h-1zM902 606h1v1h-1zM903 607h1v1h-1zM904 607h1v1h-1zM905 607h1v1h-1zM906 608h1v1h-1zM907 608h1v1h-1zM908 608h1v1h-1zM909 609h1v1h-1zM910 610h1v1h-1zM911 611h1v1h-1zM912 612h1v1h-1zM913 612h1v1h-1zM914 612h1v1h-1zM915 612h1v1h-1zM916 612h1v1h-1zM917 611h1v1h-1zM918 610h1v1h-1zM919 609h1v1h-1zM920 608h1v1h-1zM921 609h1v1h-1zM922 609h1v1h-1zM923 610h1v1h-1zM924 610h1v1h-1zM925 611h1v1h-1zM926 611h1v1h-1zM927 612h1v1h-1zM928 612h1v1h-1zM929 612h1v1h-1zM930 611h1v1h-1zM931 611h1v1h-1zM932 611h1v1h-1zM933 610h1v1h-1zM934 610h1v1h-1zM935 609h1v1h-1zM936 607h1v3h-1zM937 603h1v4h-1zM938 599h1v4h-1zM939 595h1v4h-1zM940 592h1v3h-1zM941 592h1v1h-1zM942 591h1v1h-1zM943 591h1v1h-1zM944 591h1v1h-1zM945 589h1v2h-1zM946 587h1v2h-1zM947 585h1v2h-1zM948 583h1v2h-1zM949 584h1v1h-1zM950 584h1v1h-1zM951 585h1v1h-1zM952 585h1v1h-1zM953 585h1v1h-1zM954 584h1v1h-1zM955 584h1v1h-1zM956 583h1v2h-1zM957 580h1v3h-1zM958 577h1v3h-1zM959 574h1v3h-1zM960 572h1v2h-1zM961 573h1v1h-1zM962 574h1v2h-1zM963 576h1v1h-1zM964 577h1v1h-1zM965 577h1v1h-1zM966 578h1v1h-1zM967 578h1v1h-1zM968 578h1v1h-1zM969 576h1v2h-1zM970 575h1v1h-1zM971 573h1v2h-1zM972 572h1v1h-1zM973 572h1v1h-1zM974 572h1v1h-1zM975 572h1v1h-1zM976 572h1v1h-1zM977 572h1v1h-1zM978 573h1v1h-1zM979 573h1v1h-1zM980 573h1v1h-1zM981 572h1v1h-1zM982 571h1v1h-1zM983 571h1v1h-1zM984 570h1v1h-1zM985 571h1v2h-1zM986 573h1v2h-1zM987 575h1v2h-1zM988 577h1v2h-1zM989 579h1v1h-1zM990 580h1v2h-1zM991 582h1v1h-1zM992 583h1v1h-1zM993 582h1v1h-1zM994 582h1v1h-1zM995 581h1v1h-1zM996 581h1v1h-1zM997 580h1v1h-1zM998 578h1v2h-1zM999 577h1v1h-1zM1000 576h1v1h-1zM1001 576h1v1h-1zM1002 575h1v1h-1zM1003 575h1v1h-1zM1004 575h1v1h-1zM1005 576h1v1h-1zM1006 577h1v2h-1zM1007 579h1v1h-1zM1008 580h1v1h-1zM1009 581h1v1h-1zM1010 582h1v2h-1zM1011 584h1v1h-1zM1012 585h1v1h-1zM1013 585h1v1h-1zM1014 584h1v1h-1zM1015 584h1v1h-1zM1016 584h1v1h-1zM1017 583h1v1h-1zM1018 583h1v1h-1zM1019 582h1v1h-1zM1020 582h1v1h-1zM1021 581h1v1h-1zM1022 580h1v1h-1zM1023 580h1v1h-1zM1024 579h1v1h-1zM1025 579h1v1h-1zM1026 580h1v1h-1zM1027 580h1v1h-1zM1028 580h1v1h-1zM1029 581h1v1h-1zM1030 582h1v1h-1zM1031 582h1v1h-1zM1032 583h1v1h-1zM1033 582h1v1h-1zM1034 581h1v1h-1zM1035 580h1v1h-1zM1036 579h1v1h-1zM1037 578h1v1h-1zM1038 578h1v1h-1zM1039 577h1v1h-1zM1040 577h1v1h-1zM1041 575h1v2h-1zM1042 574h1v1h-1zM1043 572h1v2h-1zM1044 571h1v1h-1zM1045 572h1v1h-1zM1046 572h1v1h-1zM1047 573h1v1h-1zM1048 573h1v1h-1zM1049 573h1v1h-1zM1050 573h1v1h-1zM1051 573h1v1h-1zM1052 573h1v1h-1zM1053 574h1v1h-1zM1054 575h1v1h-1zM1055 575h1v1h-1zM1056 576h1v1h-1zM1057 577h1v1h-1zM1058 577h1v1h-1zM1059 578h1v1h-1zM1060 578h1v1h-1zM1061 577h1v1h-1zM1062 577h1v1h-1zM1063 576h1v1h-1zM1064 576h1v1h-1zM1065 577h1v2h-1zM1066 579h1v1h-1zM1067 580h1v2h-1zM1068 582h1v1h-1zM1069 583h1v1h-1zM1070 584h1v2h-1zM1071 586h1v1h-1zM1072 587h1v1h-1zM1073 588h1v1h-1zM1074 588h1v1h-1zM1075 589h1v1h-1zM1076 589h1v1h-1zM1077 590h1v1h-1zM1078 591h1v2h-1zM1079 593h1v1h-1zM1080 594h1v1h-1zM1081 595h1v1h-1zM1082 596h1v1h-1zM1083 597h1v1h-1zM1084 598h1v1h-1zM1085 599h1v1h-1zM1086 600h1v1h-1zM1087 600h1v1h-1zM1088 601h1v1h-1zM1089 599h1v2h-1zM1090 598h1v1h-1zM1091 596h1v2h-1zM1092 595h1v1h-1zM1093 595h1v1h-1zM1094 596h1v1h-1zM1095 596h1v1h-1zM1096 596h1v1h-1zM1097 596h1v1h-1zM1098 597h1v1h-1zM1099 597h1v1h-1zM1100 597h1v1h-1zM1101 596h1v1h-1zM1102 594h1v2h-1zM1103 593h1v1h-1zM1104 592h1v1h-1zM1105 591h1v1h-1zM1106 590h1v1h-1zM1107 589h1v1h-1zM1108 588h1v1h-1zM1109 588h1v1h-1zM1110 589h1v1h-1zM1111 589h1v1h-1zM1112 588h1v2h-1zM1113 584h1v4h-1zM1114 580h1v4h-1zM1115 576h1v4h-1zM1116 573h1v3h-1zM1117 574h1v1h-1zM1118 575h1v1h-1zM1119 575h1v1h-1zM1120 576h1v1h-1zM1121 576h1v1h-1zM1122 576h1v1h-1zM1123 576h1v1h-1zM1124 576h1v1h-1zM1125 577h1v2h-1zM1126 579h1v2h-1zM1127 581h1v2h-1zM1128 583h1v1h-1zM1129 581h1v2h-1zM1130 580h1v1h-1zM1131 578h1v2h-1zM1132 577h1v1h-1zM1133 575h1v2h-1zM1134 574h1v1h-1zM1135 572h1v2h-1zM1136 571h1v1h-1zM1137 569h1v2h-1zM1138 568h1v1h-1zM1139 566h1v2h-1zM1140 565h1v1h-1zM1141 566h1v1h-1zM1142 567h1v1h-1zM1143 567h1v1h-1zM1144 568h1v1h-1zM1145 568h1v1h-1zM1146 568h1v1h-1zM1147 568h1v1h-1zM1148 568h1v1h-1zM1149 568h1v1h-1zM1150 569h1v1h-1zM1151 569h1v1h-1zM1152 569h1v2h-1zM1153 571h1v2h-1zM1154 573h1v2h-1zM1155 575h1v2h-1zM1156 577h1v2h-1zM1157 576h1v2h-1zM1158 575h1v1h-1zM1159 573h1v2h-1zM1160 572h1v1h-1zM1161 573h1v2h-1zM1162 575h1v2h-1zM1163 577h1v2h-1zM1164 579h1v2h-1zM1165 579h1v1h-1zM1166 579h1v1h-1zM1167 578h1v1h-1zM1168 578h1v1h-1zM1169 579h1v1h-1zM1170 579h1v1h-1zM1171 580h1v1h-1zM1172 580h1v1h-1zM1173 579h1v1h-1zM1174 578h1v1h-1zM1175 578h1v1h-1zM1176 577h1v1h-1zM1177 578h1v1h-1zM1178 579h1v2h-1zM1179 581h1v1h-1zM1180 582h1v1h-1zM1181 581h1v1h-1zM1182 580h1v1h-1zM1183 580h1v1h-1zM1184 579h1v1h-1zM1185 580h1v1h-1zM1186 581h1v1h-1zM1187 581h1v1h-1zM1188 582h1v1h-1zM1189 581h1v1h-1zM1190 580h1v1h-1zM1191 580h1v1h-1zM1192 579h1v1h-1zM1193 580h1v1h-1zM1194 580h1v1h-1zM1195 581h1v1h-1zM1196 581h1v1h-1zM1197 581h1v1h-1zM1198 581h1v1h-1zM1199 581h1v1h-1zM1200 581h1v1h-1zM1201 582h1v2h-1zM1202 584h1v2h-1zM1203 586h1v2h-1zM1204 588h1v1h-1zM1205 587h1v1h-1zM1206 586h1v1h-1zM1207 586h1v1h-1zM1208 585h1v1h-1zM1209 586h1v1h-1zM1210 587h1v1h-1zM1211 587h1v1h-1zM1212 588h1v1h-1zM1213 588h1v1h-1zM1214 589h1v1h-1zM1215 589h1v1h-1zM1216 589h1v1h-1zM1217 589h1v1h-1zM1218 589h1v1h-1zM1219 589h1v1h-1zM1220 589h1v1h-1zM1221 588h1v1h-1zM1222 588h1v1h-1zM1223 587h1v1h-1zM1224 587h1v1h-1zM1225 587h1v1h-1zM1226 588h1v1h-1zM1227 588h1v1h-1zM1228 588h1v1h-1zM1229 587h1v1h-1zM1230 586h1v1h-1zM1231 585h1v1h-1zM1232 584h1v1h-1zM1233 583h1v1h-1zM1234 583h1v1h-1zM1235 582h1v1h-1zM1236 582h1v1h-1zM1237 582h1v1h-1zM1238 583h1v1h-1zM1239 583h1v1h-1zM1240 583h1v1h-1zM1241 583h1v1h-1zM1242 584h1v1h-1zM1243 584h1v1h-1zM1244 584h1v1h-1zM1245 584h1v1h-1zM1246 583h1v1h-1zM1247 583h1v1h-1zM1248 583h1v1h-1zM1249 582h1v1h-1zM1250 581h1v1h-1zM1251 580h1v1h-1zM1252 579h1v1h-1zM1253 579h1v1h-1zM1254 579h1v1h-1zM1255 579h1v1h-1zM1256 579h1v1h-1zM1257 580h1v1h-1zM1258 581h1v2h-1zM1259 583h1v1h-1zM1260 584h1v1h-1zM1261 583h1v1h-1zM1262 582h1v1h-1zM1263 582h1v1h-1zM1264 581h1v1h-1zM1265 581h1v1h-1zM1266 582h1v1h-1zM1267 582h1v1h-1zM1268 582h1v1h-1z" fill="#1e90ff"/>
<rect x="1597" y="541" width="2" height="1" fill="#000"/>
<rect x="1597" y="567" width="2" height="1" fill="#000"/>
<rect x="1597" y="603" width="2" height="1" fill="#000"/>
<rect x="1597" y="630" width="2" height="1" fill="#000"/>
</g>
<text x="8.6" y="552.3" font-size="9.5" fill="#000" textLength="67" lengthAdjust="spacingAndGlyphs">RSI(14) 54.2955</text>
<text x="1600.3" y="550" font-size="9.5" fill="#000" textLength="14.8" lengthAdjust="spacingAndGlyphs">100</text>
<text x="1599.4" y="571" font-size="9.5" fill="#000" textLength="9.7" lengthAdjust="spacingAndGlyphs">70</text>
<text x="1599.2" y="607" font-size="9.5" fill="#000" textLength="10" lengthAdjust="spacingAndGlyphs">30</text>
<text x="1600.2" y="628" font-size="9.5" fill="#000" textLength="5" lengthAdjust="spacingAndGlyphs">0</text>
<g shape-rendering="crispEdges">
<rect x="4" y="691" width="1" height="2" fill="#c0c0c0"/>
<rect x="8" y="691" width="1" height="4" fill="#c0c0c0"/>
<rect x="12" y="691" width="1" height="4" fill="#c0c0c0"/>
<rect x="16" y="691" width="1" height="4" fill="#c0c0c0"/>
<rect x="20" y="691" width="1" height="3" fill="#c0c0c0"/>
<rect x="24" y="691" width="1" height="2" fill="#c0c0c0"/>
<rect x="32" y="689" width="1" height="2" fill="#c0c0c0"/>
<rect x="36" y="688" width="1" height="3" fill="#c0c0c0"/>
<rect x="40" y="687" width="1" height="4" fill="#c0c0c0"/>
<rect x="44" y="686" width="1" height="5" fill="#c0c0c0"/>
<rect x="48" y="685" width="1" height="6" fill="#c0c0c0"/>
<rect x="52" y="686" width="1" height="5" fill="#c0c0c0"/>
<rect x="56" y="685" width="1" height="6" fill="#c0c0c0"/>
<rect x="60" y="685" width="1" height="6" fill="#c0c0c0"/>
<rect x="64" y="685" width="1" height="6" fill="#c0c0c0"/>
<rect x="68" y="686" width="1" height="5" fill="#c0c0c0"/>
<rect x="72" y="674" width="1" height="17" fill="#c0c0c0"/>
<rect x="76" y="665" width="1" height="26" fill="#c0c0c0"/>
<rect x="80" y="658" width="1" height="33" fill="#c0c0c0"/>
<rect x="84" y="653" width="1" height="38" fill="#c0c0c0"/>
<rect x="88" y="647" width="1" height="44" fill="#c0c0c0"/>
<rect x="92" y="643" width="1" height="48" fill="#c0c0c0"/>
<rect x="96" y="640" width="1" height="51" fill="#c0c0c0"/>
<rect x="100" y="640" width="1" height="51" fill="#c0c0c0"/>
<rect x="104" y="639" width="1" height="52" fill="#c0c0c0"/>
<rect x="108" y="640" width="1" height="51" fill="#c0c0c0"/>
<rect x="112" y="642" width="1" height="49" fill="#c0c0c0"/>
<rect x="116" y="645" width="1" height="46" fill="#c0c0c0"/>
<rect x="120" y="648" width="1" height="43" fill="#c0c0c0"/>
<rect x="124" y="650" width="1" height="41" fill="#c0c0c0"/>
<rect x="128" y="650" width="1" height="41" fill="#c0c0c0"/>
<rect x="132" y="652" width="1" height="39" fill="#c0c0c0"/>
<rect x="136" y="653" width="1" height="38" fill="#c0c0c0"/>
<rect x="140" y="655" width="1" height="36" fill="#c0c0c0"/>
<rect x="144" y="657" width="1" height="34" fill="#c0c0c0"/>
<rect x="148" y="659" width="1" height="32" fill="#c0c0c0"/>
<rect x="152" y="661" width="1" height="30" fill="#c0c0c0"/>
<rect x="156" y="663" width="1" height="28" fill="#c0c0c0"/>
<rect x="160" y="663" width="1" height="28" fill="#c0c0c0"/>
<rect x="164" y="664" width="1" height="27" fill="#c0c0c0"/>
<rect x="168" y="665" width="1" height="26" fill="#c0c0c0"/>
<rect x="172" y="667" width="1" height="24" fill="#c0c0c0"/>
<rect x="176" y="669" width="1" height="22" fill="#c0c0c0"/>
<rect x="180" y="670" width="1" height="21" fill="#c0c0c0"/>
<rect x="184" y="672" width="1" height="19" fill="#c0c0c0"/>
<rect x="188" y="673" width="1" height="18" fill="#c0c0c0"/>
<rect x="192" y="674" width="1" height="17" fill="#c0c0c0"/>
<rect x="196" y="677" width="1" height="14" fill="#c0c0c0"/>
<rect x="200" y="680" width="1" height="11" fill="#c0c0c0"/>
<rect x="204" y="685" width="1" height="6" fill="#c0c0c0"/>
<rect x="208" y="689" width="1" height="2" fill="#c0c0c0"/>
<rect x="212" y="691" width="1" height="1" fill="#c0c0c0"/>
<rect x="216" y="691" width="1" height="3" fill="#c0c0c0"/>
<rect x="220" y="691" width="1" height="4" fill="#c0c0c0"/>
<rect x="224" y="691" width="1" height="4" fill="#c0c0c0"/>
<rect x="228" y="691" width="1" height="5" fill="#c0c0c0"/>
<rect x="232" y="691" width="1" height="6" fill="#c0c0c0"/>
<rect x="236" y="691" width="1" height="7" fill="#c0c0c0"/>
<rect x="240" y="691" width="1" height="8" fill="#c0c0c0"/>
<rect x="244" y="691" width="1" height="7" fill="#c0c0c0"/>
<rect x="248" y="691" width="1" height="6" fill="#c0c0c0"/>
<rect x="252" y="691" width="1" height="6" fill="#c0c0c0"/>
<rect x="256" y="691" width="1" height="4" fill="#c0c0c0"/>
<rect x="260" y="691" width="1" height="3" fill="#c0c0c0"/>
<rect x="264" y="691" width="1" height="3" fill="#c0c0c0"/>
<rect x="268" y="691" width="1" height="2" fill="#c0c0c0"/>
<rect x="272" y="691" width="1" height="3" fill="#c0c0c0"/>
<rect x="276" y="691" width="1" height="4" fill="#c0c0c0"/>
<rect x="280" y="691" width="1" height="3" fill="#c0c0c0"/>
<rect x="284" y="691" width="1" height="3" fill="#c0c0c0"/>
<rect x="288" y="691" width="1" height="4" fill="#c0c0c0"/>
<rect x="292" y="691" width="1" height="3" fill="#c0c0c0"/>
<rect x="296" y="691" width="1" height="4" fill="#c0c0c0"/>
<rect x="300" y="691" width="1" height="3" fill="#c0c0c0"/>
<rect x="304" y="691" width="1" height="3" fill="#c0c0c0"/>
<rect x="308" y="691" width="1" height="2" fill="#c0c0c0"/>
<rect x="312" y="691" width="1" height="2" fill="#c0c0c0"/>
<rect x="316" y="691" width="1" height="2" fill="#c0c0c0"/>
<rect x="320" y="691" width="1" height="2" fill="#c0c0c0"/>
<rect x="324" y="691" width="1" height="3" fill="#c0c0c0"/>
<rect x="328" y="691" width="1" height="2" fill="#c0c0c0"/>
<rect x="332" y="691" width="1" height="2" fill="#c0c0c0"/>
<rect x="336" y="691" width="1" height="1" fill="#c0c0c0"/>
<rect x="348" y="689" width="1" height="2" fill="#c0c0c0"/>
<rect x="352" y="684" width="1" height="7" fill="#c0c0c0"/>
<rect x="356" y="679" width="1" height="12" fill="#c0c0c0"/>
<rect x="360" y="667" width="1" height="24" fill="#c0c0c0"/>
<rect x="364" y="661" width="1" height="30" fill="#c0c0c0"/>
<rect x="368" y="654" width="1" height="37" fill="#c0c0c0"/>
<rect x="372" y="650" width="1" height="41" fill="#c0c0c0"/>
<rect x="376" y="646" width="1" height="45" fill="#c0c0c0"/>
<rect x="380" y="643" width="1" height="48" fill="#c0c0c0"/>
<rect x="384" y="641" width="1" height="50" fill="#c0c0c0"/>
<rect x="388" y="646" width="1" height="45" fill="#c0c0c0"/>
<rect x="392" y="648" width="1" height="43" fill="#c0c0c0"/>
<rect x="396" y="650" width="1" height="41" fill="#c0c0c0"/>
<rect x="400" y="652" width="1" height="39" fill="#c0c0c0"/>
<rect x="404" y="655" width="1" height="36" fill="#c0c0c0"/>
<rect x="408" y="656" width="1" height="35" fill="#c0c0c0"/>
<rect x="412" y="656" width="1" height="35" fill="#c0c0c0"/>
<rect x="416" y="658" width="1" height="33" fill="#c0c0c0"/>
<rect x="420" y="657" width="1" height="34" fill="#c0c0c0"/>
<rect x="424" y="655" width="1" height="36" fill="#c0c0c0"/>
<rect x="428" y="652" width="1" height="39" fill="#c0c0c0"/>
<rect x="432" y="649" width="1" height="42" fill="#c0c0c0"/>
<rect x="436" y="647" width="1" height="44" fill="#c0c0c0"/>
<rect x="440" y="645" width="1" height="46" fill="#c0c0c0"/>
<rect x="444" y="647" width="1" height="44" fill="#c0c0c0"/>
<rect x="448" y="647" width="1" height="44" fill="#c0c0c0"/>
<rect x="452" y="647" width="1" height="44" fill="#c0c0c0"/>
<rect x="456" y="647" width="1" height="44" fill="#c0c0c0"/>
<rect x="460" y="647" width="1" height="44" fill="#c0c0c0"/>
<rect x="464" y="650" width="1" height="41" fill="#c0c0c0"/>
<rect x="468" y="654" width="1" height="37" fill="#c0c0c0"/>
<rect x="472" y="659" width="1" height="32" fill="#c0c0c0"/>
<rect x="476" y="664" width="1" height="27" fill="#c0c0c0"/>
<rect x="480" y="667" width="1" height="24" fill="#c0c0c0"/>
<rect x="484" y="670" width="1" height="21" fill="#c0c0c0"/>
<rect x="488" y="673" width="1" height="18" fill="#c0c0c0"/>
<rect x="492" y="679" width="1" height="12" fill="#c0c0c0"/>
<rect x="496" y="685" width="1" height="6" fill="#c0c0c0"/>
<rect x="500" y="690" width="1" height="1" fill="#c0c0c0"/>
<rect x="504" y="691" width="1" height="1" fill="#c0c0c0"/>
<rect x="508" y="691" width="1" height="1" fill="#c0c0c0"/>
<rect x="512" y="691" width="1" height="2" fill="#c0c0c0"/>
<rect x="516" y="691" width="1" height="1" fill="#c0c0c0"/>
<rect x="520" y="691" width="1" height="1" fill="#c0c0c0"/>
<rect x="524" y="690" width="1" height="1" fill="#c0c0c0"/>
<rect x="528" y="689" width="1" height="2" fill="#c0c0c0"/>
<rect x="532" y="687" width="1" height="4" fill="#c0c0c0"/>
<rect x="536" y="685" width="1" height="6" fill="#c0c0c0"/>
<rect x="540" y="684" width="1" height="7" fill="#c0c0c0"/>
<rect x="544" y="683" width="1" height="8" fill="#c0c0c0"/>
<rect x="548" y="681" width="1" height="10" fill="#c0c0c0"/>
<rect x="552" y="680" width="1" height="11" fill="#c0c0c0"/>
<rect x="556" y="679" width="1" height="12" fill="#c0c0c0"/>
<rect x="560" y="678" width="1" height="13" fill="#c0c0c0"/>
<rect x="564" y="679" width="1" height="12" fill="#c0c0c0"/>
<rect x="568" y="681" width="1" height="10" fill="#c0c0c0"/>
<rect x="572" y="683" width="1" height="8" fill="#c0c0c0"/>
<rect x="576" y="683" width="1" height="8" fill="#c0c0c0"/>
<rect x="580" y="682" width="1" height="9" fill="#c0c0c0"/>
<rect x="584" y="682" width="1" height="9" fill="#c0c0c0"/>
<rect x="588" y="684" width="1" height="7" fill="#c0c0c0"/>
<rect x="592" y="688" width="1" height="3" fill="#c0c0c0"/>
<rect x="600" y="691" width="1" height="4" fill="#c0c0c0"/>
<rect x="604" y="691" width="1" height="5" fill="#c0c0c0"/>
<rect x="608" y="691" width="1" height="5" fill="#c0c0c0"/>
<rect x="612" y="691" width="1" height="6" fill="#c0c0c0"/>
<rect x="616" y="691" width="1" height="7" fill="#c0c0c0"/>
<rect x="620" y="691" width="1" height="8" fill="#c0c0c0"/>
<rect x="624" y="691" width="1" height="9" fill="#c0c0c0"/>
<rect x="628" y="691" width="1" height="9" fill="#c0c0c0"/>
<rect x="632" y="691" width="1" height="10" fill="#c0c0c0"/>
<rect x="636" y="691" width="1" height="10" fill="#c0c0c0"/>
<rect x="640" y="691" width="1" height="11" fill="#c0c0c0"/>
<rect x="644" y="691" width="1" height="12" fill="#c0c0c0"/>
<rect x="648" y="691" width="1" height="12" fill="#c0c0c0"/>
<rect x="652" y="691" width="1" height="12" fill="#c0c0c0"/>
<rect x="656" y="691" width="1" height="12" fill="#c0c0c0"/>
<rect x="660" y="691" width="1" height="13" fill="#c0c0c0"/>
<rect x="664" y="691" width="1" height="14" fill="#c0c0c0"/>
<rect x="668" y="691" width="1" height="14" fill="#c0c0c0"/>
<rect x="672" y="691" width="1" height="15" fill="#c0c0c0"/>
<rect x="676" y="691" width="1" height="18" fill="#c0c0c0"/>
<rect x="680" y="691" width="1" height="20" fill="#c0c0c0"/>
<rect x="684" y="691" width="1" height="23" fill="#c0c0c0"/>
<rect x="688" y="691" width="1" height="23" fill="#c0c0c0"/>
<rect x="692" y="691" width="1" height="24" fill="#c0c0c0"/>
<rect x="696" y="691" width="1" height="22" fill="#c0c0c0"/>
<rect x="700" y="691" width="1" height="21" fill="#c0c0c0"/>
<rect x="704" y="691" width="1" height="19" fill="#c0c0c0"/>
<rect x="708" y="691" width="1" height="17" fill="#c0c0c0"/>
<rect x="712" y="691" width="1" height="17" fill="#c0c0c0"/>
<rect x="716" y="691" width="1" height="16" fill="#c0c0c0"/>
<rect x="720" y="691" width="1" height="14" fill="#c0c0c0"/>
<rect x="724" y="691" width="1" height="12" fill="#c0c0c0"/>
<rect x="728" y="691" width="1" height="10" fill="#c0c0c0"/>
<rect x="732" y="691" width="1" height="9" fill="#c0c0c0"/>
<rect x="736" y="691" width="1" height="6" fill="#c0c0c0"/>
<rect x="740" y="691" width="1" height="5" fill="#c0c0c0"/>
<rect x="744" y="691" width="1" height="4" fill="#c0c0c0"/>
<rect x="748" y="691" width="1" height="5" fill="#c0c0c0"/>
<rect x="752" y="691" width="1" height="5" fill="#c0c0c0"/>
<rect x="756" y="691" width="1" height="4" fill="#c0c0c0"/>
<rect x="760" y="691" width="1" height="4" fill="#c0c0c0"/>
<rect x="764" y="691" width="1" height="3" fill="#c0c0c0"/>
<rect x="768" y="691" width="1" height="2" fill="#c0c0c0"/>
<rect x="772" y="689" width="1" height="2" fill="#c0c0c0"/>
<rect x="776" y="689" width="1" height="2" fill="#c0c0c0"/>
<rect x="780" y="689" width="1" height="2" fill="#c0c0c0"/>
<rect x="784" y="690" width="1" height="1" fill="#c0c0c0"/>
<rect x="804" y="691" width="1" height="4" fill="#c0c0c0"/>
<rect x="808" y="691" width="1" height="5" fill="#c0c0c0"/>
<rect x="812" y="691" width="1" height="6" fill="#c0c0c0"/>
<rect x="816" y="691" width="1" height="8" fill="#c0c0c0"/>
<rect x="820" y="691" width="1" height="9" fill="#c0c0c0"/>
<rect x="824" y="691" width="1" height="9" fill="#c0c0c0"/>
<rect x="828" y="691" width="1" height="9" fill="#c0c0c0"/>
<rect x="832" y="691" width="1" height="9" fill="#c0c0c0"/>
<rect x="836" y="691" width="1" height="9" fill="#c0c0c0"/>
<rect x="840" y="691" width="1" height="8" fill="#c0c0c0"/>
<rect x="844" y="691" width="1" height="8" fill="#c0c0c0"/>
<rect x="848" y="691" width="1" height="7" fill="#c0c0c0"/>
<rect x="852" y="691" width="1" height="8" fill="#c0c0c0"/>
<rect x="856" y="691" width="1" height="8" fill="#c0c0c0"/>
<rect x="860" y="691" width="1" height="8" fill="#c0c0c0"/>
<rect x="864" y="691" width="1" height="9" fill="#c0c0c0"/>
<rect x="868" y="691" width="1" height="11" fill="#c0c0c0"/>
<rect x="872" y="691" width="1" height="12" fill="#c0c0c0"/>
<rect x="876" y="691" width="1" height="13" fill="#c0c0c0"/>
<rect x="880" y="691" width="1" height="14" fill="#c0c0c0"/>
<rect x="884" y="691" width="1" height="14" fill="#c0c0c0"/>
<rect x="888" y="691" width="1" height="13" fill="#c0c0c0"/>
<rect x="892" y="691" width="1" height="14" fill="#c0c0c0"/>
<rect x="896" y="691" width="1" height="15" fill="#c0c0c0"/>
<rect x="900" y="691" width="1" height="17" fill="#c0c0c0"/>
<rect x="904" y="691" width="1" height="19" fill="#c0c0c0"/>
<rect x="908" y="691" width="1" height="21" fill="#c0c0c0"/>
<rect x="912" y="691" width="1" height="23" fill="#c0c0c0"/>
<rect x="916" y="691" width="1" height="25" fill="#c0c0c0"/>
<rect x="920" y="691" width="1" height="26" fill="#c0c0c0"/>
<rect x="924" y="691" width="1" height="28" fill="#c0c0c0"/>
<rect x="928" y="691" width="1" height="29" fill="#c0c0c0"/>
<rect x="932" y="691" width="1" height="30" fill="#c0c0c0"/>
<rect x="936" y="691" width="1" height="30" fill="#c0c0c0"/>
<rect x="940" y="691" width="1" height="27" fill="#c0c0c0"/>
<rect x="944" y="691" width="1" height="24" fill="#c0c0c0"/>
<rect x="948" y="691" width="1" height="20" fill="#c0c0c0"/>
<rect x="952" y="691" width="1" height="16" fill="#c0c0c0"/>
<rect x="956" y="691" width="1" height="13" fill="#c0c0c0"/>
<rect x="960" y="691" width="1" height="7" fill="#c0c0c0"/>
<rect x="964" y="691" width="1" height="4" fill="#c0c0c0"/>
<rect x="968" y="691" width="1" height="1" fill="#c0c0c0"/>
<rect x="972" y="687" width="1" height="4" fill="#c0c0c0"/>
<rect x="976" y="684" width="1" height="7" fill="#c0c0c0"/>
<rect x="980" y="681" width="1" height="10" fill="#c0c0c0"/>
<rect x="984" y="678" width="1" height="13" fill="#c0c0c0"/>
<rect x="988" y="678" width="1" height="13" fill="#c0c0c0"/>
<rect x="992" y="679" width="1" height="12" fill="#c0c0c0"/>
<rect x="996" y="680" width="1" height="11" fill="#c0c0c0"/>
<rect x="1000" y="678" width="1" height="13" fill="#c0c0c0"/>
<rect x="1004" y="677" width="1" height="14" fill="#c0c0c0"/>
<rect x="1008" y="678" width="1" height="13" fill="#c0c0c0"/>
<rect x="1012" y="680" width="1" height="11" fill="#c0c0c0"/>
<rect x="1016" y="681" width="1" height="10" fill="#c0c0c0"/>
<rect x="1020" y="682" width="1" height="9" fill="#c0c0c0"/>
<rect x="1024" y="681" width="1" height="10" fill="#c0c0c0"/>
<rect x="1028" y="681" width="1" height="10" fill="#c0c0c0"/>
<rect x="1032" y="682" width="1" height="9" fill="#c0c0c0"/>
<rect x="1036" y="682" width="1" height="9" fill="#c0c0c0"/>
<rect x="1040" y="681" width="1" height="10" fill="#c0c0c0"/>
<rect x="1044" y="678" width="1" height="13" fill="#c0c0c0"/>
<rect x="1048" y="676" width="1" height="15" fill="#c0c0c0"/>
<rect x="1052" y="675" width="1" height="16" fill="#c0c0c0"/>
<rect x="1056" y="675" width="1" height="16" fill="#c0c0c0"/>
<rect x="1060" y="675" width="1" height="16" fill="#c0c0c0"/>
<rect x="1064" y="675" width="1" height="16" fill="#c0c0c0"/>
<rect x="1068" y="677" width="1" height="14" fill="#c0c0c0"/>
<rect x="1072" y="680" width="1" height="11" fill="#c0c0c0"/>
<rect x="1076" y="682" width="1" height="9" fill="#c0c0c0"/>
<rect x="1080" y="686" width="1" height="5" fill="#c0c0c0"/>
<rect x="1088" y="691" width="1" height="5" fill="#c0c0c0"/>
<rect x="1092" y="691" width="1" height="8" fill="#c0c0c0"/>
<rect x="1096" y="691" width="1" height="10" fill="#c0c0c0"/>
<rect x="1100" y="691" width="1" height="11" fill="#c0c0c0"/>
<rect x="1104" y="691" width="1" height="11" fill="#c0c0c0"/>
<rect x="1108" y="691" width="1" height="10" fill="#c0c0c0"/>
<rect x="1112" y="691" width="1" height="10" fill="#c0c0c0"/>
<rect x="1116" y="691" width="1" height="3" fill="#c0c0c0"/>
<rect x="1120" y="690" width="1" height="1" fill="#c0c0c0"/>
<rect x="1124" y="687" width="1" height="4" fill="#c0c0c0"/>
<rect x="1128" y="687" width="1" height="4" fill="#c0c0c0"/>
<rect x="1132" y="684" width="1" height="7" fill="#c0c0c0"/>
<rect x="1136" y="679" width="1" height="12" fill="#c0c0c0"/>
<rect x="1140" y="670" width="1" height="21" fill="#c0c0c0"/>
<rect x="1144" y="664" width="1" height="27" fill="#c0c0c0"/>
<rect x="1148" y="660" width="1" height="31" fill="#c0c0c0"/>
<rect x="1152" y="658" width="1" height="33" fill="#c0c0c0"/>
<rect x="1156" y="659" width="1" height="32" fill="#c0c0c0"/>
<rect x="1160" y="657" width="1" height="34" fill="#c0c0c0"/>
<rect x="1164" y="659" width="1" height="32" fill="#c0c0c0"/>
<rect x="1168" y="660" width="1" height="31" fill="#c0c0c0"/>
<rect x="1172" y="662" width="1" height="29" fill="#c0c0c0"/>
<rect x="1176" y="662" width="1" height="29" fill="#c0c0c0"/>
<rect x="1180" y="664" width="1" height="27" fill="#c0c0c0"/>
<rect x="1184" y="665" width="1" height="26" fill="#c0c0c0"/>
<rect x="1188" y="667" width="1" height="24" fill="#c0c0c0"/>
<rect x="1192" y="667" width="1" height="24" fill="#c0c0c0"/>
<rect x="1196" y="668" width="1" height="23" fill="#c0c0c0"/>
<rect x="1200" y="670" width="1" height="21" fill="#c0c0c0"/>
<rect x="1204" y="675" width="1" height="16" fill="#c0c0c0"/>
<rect x="1208" y="677" width="1" height="14" fill="#c0c0c0"/>
<rect x="1212" y="681" width="1" height="10" fill="#c0c0c0"/>
<rect x="1216" y="684" width="1" height="7" fill="#c0c0c0"/>
<rect x="1220" y="687" width="1" height="4" fill="#c0c0c0"/>
<rect x="1224" y="688" width="1" height="3" fill="#c0c0c0"/>
<rect x="1228" y="690" width="1" height="1" fill="#c0c0c0"/>
<rect x="1232" y="690" width="1" height="1" fill="#c0c0c0"/>
<rect x="1236" y="689" width="1" height="2" fill="#c0c0c0"/>
<rect x="1240" y="688" width="1" height="3" fill="#c0c0c0"/>
<rect x="1244" y="688" width="1" height="3" fill="#c0c0c0"/>
<rect x="1248" y="688" width="1" height="3" fill="#c0c0c0"/>
<rect x="1252" y="686" width="1" height="5" fill="#c0c0c0"/>
<rect x="1256" y="684" width="1" height="7" fill="#c0c0c0"/>
<rect x="1260" y="685" width="1" height="6" fill="#c0c0c0"/>
<rect x="1264" y="684" width="1" height="7" fill="#c0c0c0"/>
<rect x="1268" y="684" width="1" height="7" fill="#c0c0c0"/>
<path d="M4 693h1v1h-1zM5 693h1v1h-1zM6 693h1v1h-1zM10 693h1v1h-1zM11 693h1v1h-1zM12 693h1v1h-1zM16 694h1v1h-1zM17 694h1v1h-1zM18 694h1v1h-1zM22 694h1v1h-1zM23 694h1v1h-1zM24 694h1v1h-1zM28 694h1v1h-1zM29 694h1v1h-1zM30 693h1v1h-1zM34 693h1v1h-1zM35 693h1v1h-1zM36 693h1v1h-1zM40 692h1v1h-1zM41 692h1v1h-1zM42 691h1v1h-1zM46 690h1v1h-1zM47 690h1v1h-1zM48 690h1v1h-1zM52 689h1v1h-1zM53 689h1v1h-1zM54 688h1v1h-1zM58 687h1v1h-1zM59 687h1v1h-1zM60 687h1v1h-1zM64 686h1v1h-1zM65 686h1v1h-1zM66 686h1v1h-1zM70 685h1v1h-1zM71 684h1v1h-1zM72 684h1v1h-1zM76 682h1v1h-1zM77 681h1v1h-1zM78 680h1v1h-1zM82 677h1v1h-1zM83 676h1v1h-1zM84 675h1v1h-1zM88 671h1v1h-1zM89 670h1v1h-1zM90 669h1v1h-1zM93 665h1v1h-1zM94 663h1v2h-1zM98 658h1v2h-1zM99 657h1v1h-1zM102 653h1v1h-1zM103 652h1v1h-1zM104 651h1v1h-1zM108 647h1v1h-1zM109 646h1v1h-1zM110 646h1v1h-1zM114 644h1v1h-1zM115 643h1v1h-1zM116 643h1v1h-1zM120 643h1v1h-1zM121 643h1v1h-1zM122 643h1v1h-1zM126 644h1v1h-1zM127 644h1v1h-1zM128 644h1v1h-1zM132 645h1v1h-1zM133 646h1v1h-1zM134 646h1v1h-1zM138 648h1v1h-1zM139 648h1v1h-1zM140 648h1v1h-1zM144 650h1v1h-1zM145 651h1v1h-1zM146 651h1v1h-1zM150 653h1v1h-1zM151 654h1v1h-1zM152 654h1v1h-1zM156 656h1v1h-1zM157 656h1v1h-1zM158 657h1v1h-1zM162 658h1v1h-1zM163 659h1v1h-1zM164 659h1v1h-1zM168 660h1v1h-1zM169 661h1v1h-1zM170 661h1v1h-1zM174 663h1v1h-1zM175 663h1v1h-1zM176 663h1v1h-1zM180 665h1v1h-1zM181 665h1v1h-1zM182 666h1v1h-1zM186 667h1v1h-1zM187 667h1v1h-1zM188 667h1v1h-1zM192 669h1v1h-1zM193 669h1v1h-1zM194 670h1v1h-1zM198 671h1v1h-1zM199 672h1v1h-1zM200 672h1v1h-1zM204 674h1v1h-1zM205 675h1v1h-1zM206 676h1v1h-1zM210 678h1v1h-1zM211 679h1v1h-1zM212 679h1v1h-1zM216 682h1v1h-1zM217 683h1v1h-1zM218 683h1v1h-1zM222 686h1v1h-1zM223 686h1v1h-1zM224 687h1v1h-1zM228 689h1v1h-1zM229 690h1v1h-1zM230 690h1v1h-1zM234 692h1v1h-1zM235 693h1v1h-1zM236 693h1v1h-1zM240 695h1v1h-1zM241 695h1v1h-1zM242 696h1v1h-1zM246 696h1v1h-1zM247 696h1v1h-1zM248 696h1v1h-1zM252 697h1v1h-1zM253 697h1v1h-1zM254 697h1v1h-1zM258 697h1v1h-1zM259 697h1v1h-1zM260 697h1v1h-1zM264 697h1v1h-1zM265 697h1v1h-1zM266 696h1v1h-1zM270 696h1v1h-1zM271 696h1v1h-1zM272 696h1v1h-1zM276 695h1v1h-1zM277 695h1v1h-1zM278 695h1v1h-1zM282 695h1v1h-1zM283 695h1v1h-1zM284 695h1v1h-1zM288 694h1v1h-1zM289 694h1v1h-1zM290 694h1v1h-1zM294 694h1v1h-1zM295 694h1v1h-1zM296 694h1v1h-1zM300 694h1v1h-1zM301 694h1v1h-1zM302 694h1v1h-1zM306 694h1v1h-1zM307 694h1v1h-1zM308 694h1v1h-1zM312 694h1v1h-1zM313 694h1v1h-1zM314 694h1v1h-1zM318 694h1v1h-1zM319 694h1v1h-1zM320 694h1v1h-1zM324 694h1v1h-1zM325 694h1v1h-1zM326 694h1v1h-1zM330 693h1v1h-1zM331 693h1v1h-1zM332 693h1v1h-1zM336 693h1v1h-1zM337 693h1v1h-1zM338 693h1v1h-1zM342 693h1v1h-1zM343 693h1v1h-1zM344 693h1v1h-1zM348 692h1v1h-1zM349 692h1v1h-1zM350 691h1v1h-1zM354 690h1v1h-1zM355 690h1v1h-1zM356 690h1v1h-1zM360 687h1v1h-1zM361 686h1v1h-1zM362 685h1v1h-1zM366 681h1v1h-1zM367 680h1v1h-1zM368 679h1v1h-1zM371 675h1v1h-1zM372 674h1v1h-1zM373 673h1v1h-1zM376 669h1v1h-1zM377 668h1v1h-1zM378 667h1v1h-1zM381 662h1v2h-1zM382 661h1v1h-1zM385 657h1v1h-1zM386 656h1v1h-1zM387 655h1v1h-1zM391 652h1v1h-1zM392 651h1v1h-1zM393 650h1v1h-1zM397 649h1v1h-1zM398 648h1v1h-1zM399 648h1v1h-1zM403 648h1v1h-1zM404 648h1v1h-1zM405 648h1v1h-1zM409 649h1v1h-1zM410 650h1v1h-1zM411 650h1v1h-1zM415 651h1v1h-1zM416 651h1v1h-1zM417 652h1v1h-1zM421 653h1v1h-1zM422 654h1v1h-1zM423 654h1v1h-1zM427 655h1v1h-1zM428 655h1v1h-1zM429 655h1v1h-1zM433 654h1v1h-1zM434 654h1v1h-1zM435 654h1v1h-1zM439 653h1v1h-1zM440 653h1v1h-1zM441 653h1v1h-1zM445 652h1v1h-1zM446 651h1v1h-1zM447 651h1v1h-1zM451 649h1v1h-1zM452 649h1v1h-1zM453 649h1v1h-1zM457 648h1v1h-1zM458 647h1v1h-1zM459 647h1v1h-1zM463 647h1v1h-1zM464 647h1v1h-1zM465 647h1v1h-1zM469 648h1v1h-1zM470 649h1v1h-1zM471 649h1v1h-1zM475 651h1v1h-1zM476 651h1v1h-1zM477 652h1v1h-1zM481 654h1v1h-1zM482 655h1v1h-1zM483 655h1v1h-1zM487 658h1v1h-1zM488 659h1v1h-1zM489 660h1v1h-1zM493 663h1v1h-1zM494 664h1v2h-1zM498 669h1v1h-1zM499 670h1v1h-1zM500 671h1v1h-1zM504 675h1v1h-1zM505 676h1v1h-1zM506 677h1v1h-1zM510 681h1v1h-1zM511 681h1v1h-1zM512 682h1v1h-1zM516 685h1v1h-1zM517 686h1v1h-1zM518 687h1v1h-1zM522 689h1v1h-1zM523 690h1v1h-1zM524 690h1v1h-1zM528 691h1v1h-1zM529 691h1v1h-1zM530 691h1v1h-1zM534 690h1v1h-1zM535 690h1v1h-1zM536 690h1v1h-1zM540 689h1v1h-1zM541 689h1v1h-1zM542 688h1v1h-1zM546 687h1v1h-1zM547 687h1v1h-1zM548 687h1v1h-1zM552 686h1v1h-1zM553 685h1v1h-1zM554 685h1v1h-1zM558 683h1v1h-1zM559 683h1v1h-1zM560 683h1v1h-1zM564 682h1v1h-1zM565 682h1v1h-1zM566 681h1v1h-1zM570 681h1v1h-1zM571 681h1v1h-1zM572 681h1v1h-1zM576 681h1v1h-1zM577 681h1v1h-1zM578 681h1v1h-1zM582 681h1v1h-1zM583 681h1v1h-1zM584 681h1v1h-1zM588 681h1v1h-1zM589 681h1v1h-1zM590 682h1v1h-1zM594 683h1v1h-1zM595 684h1v1h-1zM596 684h1v1h-1zM600 686h1v1h-1zM601 686h1v1h-1zM602 687h1v1h-1zM606 688h1v1h-1zM607 689h1v1h-1zM608 689h1v1h-1zM612 690h1v1h-1zM613 691h1v1h-1zM614 691h1v1h-1zM618 693h1v1h-1zM619 694h1v1h-1zM620 694h1v1h-1zM624 696h1v1h-1zM625 696h1v1h-1zM626 697h1v1h-1zM630 698h1v1h-1zM631 698h1v1h-1zM632 698h1v1h-1zM636 699h1v1h-1zM637 699h1v1h-1zM638 699h1v1h-1zM642 700h1v1h-1zM643 700h1v1h-1zM644 700h1v1h-1zM648 701h1v1h-1zM649 701h1v1h-1zM650 702h1v1h-1zM654 702h1v1h-1zM655 702h1v1h-1zM656 702h1v1h-1zM660 702h1v1h-1zM661 702h1v1h-1zM662 703h1v1h-1zM666 703h1v1h-1zM667 703h1v1h-1zM668 703h1v1h-1zM672 704h1v1h-1zM673 704h1v1h-1zM674 705h1v1h-1zM678 705h1v1h-1zM679 705h1v1h-1zM680 705h1v1h-1zM684 706h1v1h-1zM685 707h1v1h-1zM686 707h1v1h-1zM690 709h1v1h-1zM691 709h1v1h-1zM692 709h1v1h-1zM696 710h1v1h-1zM697 710h1v1h-1zM698 711h1v1h-1zM702 711h1v1h-1zM703 711h1v1h-1zM704 711h1v1h-1zM708 712h1v1h-1zM709 712h1v1h-1zM710 712h1v1h-1zM714 711h1v1h-1zM715 711h1v1h-1zM716 711h1v1h-1zM720 710h1v1h-1zM721 710h1v1h-1zM722 709h1v1h-1zM726 708h1v1h-1zM727 708h1v1h-1zM728 708h1v1h-1zM732 706h1v1h-1zM733 705h1v1h-1zM734 705h1v1h-1zM738 703h1v1h-1zM739 703h1v1h-1zM740 703h1v1h-1zM744 701h1v1h-1zM745 701h1v1h-1zM746 700h1v1h-1zM750 699h1v1h-1zM751 699h1v1h-1zM752 699h1v1h-1zM756 698h1v1h-1zM757 698h1v1h-1zM758 697h1v1h-1zM762 696h1v1h-1zM763 696h1v1h-1zM764 696h1v1h-1zM768 695h1v1h-1zM769 695h1v1h-1zM770 694h1v1h-1zM774 693h1v1h-1zM775 693h1v1h-1zM776 693h1v1h-1zM780 693h1v1h-1zM781 693h1v1h-1zM782 692h1v1h-1zM786 692h1v1h-1zM787 692h1v1h-1zM788 692h1v1h-1zM792 691h1v1h-1zM793 691h1v1h-1zM794 691h1v1h-1zM798 690h1v1h-1zM799 690h1v1h-1zM800 690h1v1h-1zM804 691h1v1h-1zM805 691h1v1h-1zM806 691h1v1h-1zM810 692h1v1h-1zM811 692h1v1h-1zM812 692h1v1h-1zM816 693h1v1h-1zM817 694h1v1h-1zM818 694h1v1h-1zM822 696h1v1h-1zM823 696h1v1h-1zM824 696h1v1h-1zM828 697h1v1h-1zM829 697h1v1h-1zM830 698h1v1h-1zM834 699h1v1h-1zM835 699h1v1h-1zM836 699h1v1h-1zM840 699h1v1h-1zM841 699h1v1h-1zM842 699h1v1h-1zM846 699h1v1h-1zM847 699h1v1h-1zM848 699h1v1h-1zM852 699h1v1h-1zM853 699h1v1h-1zM854 699h1v1h-1zM858 699h1v1h-1zM859 699h1v1h-1zM860 699h1v1h-1zM864 699h1v1h-1zM865 699h1v1h-1zM866 699h1v1h-1zM870 700h1v1h-1zM871 700h1v1h-1zM872 700h1v1h-1zM876 700h1v1h-1zM877 700h1v1h-1zM878 701h1v1h-1zM882 702h1v1h-1zM883 702h1v1h-1zM884 702h1v1h-1zM888 702h1v1h-1zM889 702h1v1h-1zM890 703h1v1h-1zM894 704h1v1h-1zM895 704h1v1h-1zM896 704h1v1h-1zM900 705h1v1h-1zM901 705h1v1h-1zM902 706h1v1h-1zM906 707h1v1h-1zM907 707h1v1h-1zM908 707h1v1h-1zM912 708h1v1h-1zM913 708h1v1h-1zM914 709h1v1h-1zM918 710h1v1h-1zM919 710h1v1h-1zM920 710h1v1h-1zM924 712h1v1h-1zM925 713h1v1h-1zM926 713h1v1h-1zM930 715h1v1h-1zM931 715h1v1h-1zM932 715h1v1h-1zM936 717h1v1h-1zM937 717h1v1h-1zM938 718h1v1h-1zM942 718h1v1h-1zM943 718h1v1h-1zM944 718h1v1h-1zM948 718h1v1h-1zM949 718h1v1h-1zM950 717h1v1h-1zM954 716h1v1h-1zM955 715h1v1h-1zM956 715h1v1h-1zM960 713h1v1h-1zM961 712h1v1h-1zM962 711h1v1h-1zM966 708h1v1h-1zM967 708h1v1h-1zM968 707h1v1h-1zM972 703h1v1h-1zM973 702h1v1h-1zM974 701h1v1h-1zM978 697h1v1h-1zM979 697h1v1h-1zM980 696h1v1h-1zM984 692h1v1h-1zM985 691h1v1h-1zM986 690h1v1h-1zM990 687h1v1h-1zM991 687h1v1h-1zM992 686h1v1h-1zM996 684h1v1h-1zM997 683h1v1h-1zM998 683h1v1h-1zM1002 681h1v1h-1zM1003 680h1v1h-1zM1004 680h1v1h-1zM1008 679h1v1h-1zM1009 679h1v1h-1zM1010 679h1v1h-1zM1014 679h1v1h-1zM1015 679h1v1h-1zM1016 679h1v1h-1zM1020 679h1v1h-1zM1021 679h1v1h-1zM1022 680h1v1h-1zM1026 680h1v1h-1zM1027 680h1v1h-1zM1028 680h1v1h-1zM1032 680h1v1h-1zM1033 680h1v1h-1zM1034 680h1v1h-1zM1038 681h1v1h-1zM1039 681h1v1h-1zM1040 681h1v1h-1zM1044 681h1v1h-1zM1045 681h1v1h-1zM1046 680h1v1h-1zM1050 680h1v1h-1zM1051 680h1v1h-1zM1052 680h1v1h-1zM1056 679h1v1h-1zM1057 679h1v1h-1zM1058 678h1v1h-1zM1062 678h1v1h-1zM1063 678h1v1h-1zM1064 678h1v1h-1zM1068 677h1v1h-1zM1069 677h1v1h-1zM1070 677h1v1h-1zM1074 677h1v1h-1zM1075 677h1v1h-1zM1076 677h1v1h-1zM1080 678h1v1h-1zM1081 679h1v1h-1zM1082 679h1v1h-1zM1086 681h1v1h-1zM1087 682h1v1h-1zM1088 682h1v1h-1zM1092 685h1v1h-1zM1093 686h1v1h-1zM1094 686h1v1h-1zM1098 689h1v1h-1zM1099 689h1v1h-1zM1100 690h1v1h-1zM1104 693h1v1h-1zM1105 694h1v1h-1zM1106 695h1v1h-1zM1110 697h1v1h-1zM1111 698h1v1h-1zM1112 698h1v1h-1zM1116 699h1v1h-1zM1117 699h1v1h-1zM1118 699h1v1h-1zM1122 698h1v1h-1zM1123 698h1v1h-1zM1124 698h1v1h-1zM1128 696h1v1h-1zM1129 695h1v1h-1zM1130 695h1v1h-1zM1134 693h1v1h-1zM1135 692h1v1h-1zM1136 692h1v1h-1zM1140 688h1v1h-1zM1141 687h1v1h-1zM1142 686h1v1h-1zM1146 681h1v2h-1zM1147 680h1v1h-1zM1151 676h1v1h-1zM1152 675h1v1h-1zM1153 674h1v1h-1zM1157 671h1v1h-1zM1158 670h1v1h-1zM1159 670h1v1h-1zM1163 667h1v1h-1zM1164 666h1v1h-1zM1165 665h1v1h-1zM1169 662h1v1h-1zM1170 662h1v1h-1zM1171 661h1v1h-1zM1175 660h1v1h-1zM1176 660h1v1h-1zM1177 660h1v1h-1zM1181 660h1v1h-1zM1182 661h1v1h-1zM1183 661h1v1h-1zM1187 662h1v1h-1zM1188 662h1v1h-1zM1189 662h1v1h-1zM1193 663h1v1h-1zM1194 664h1v1h-1zM1195 664h1v1h-1zM1199 665h1v1h-1zM1200 665h1v1h-1zM1201 666h1v1h-1zM1205 667h1v1h-1zM1206 668h1v1h-1zM1207 668h1v1h-1zM1211 670h1v1h-1zM1212 671h1v1h-1zM1213 672h1v1h-1zM1217 674h1v1h-1zM1218 674h1v1h-1zM1219 675h1v1h-1zM1223 677h1v1h-1zM1224 677h1v1h-1zM1225 678h1v1h-1zM1229 681h1v1h-1zM1230 681h1v1h-1zM1231 682h1v1h-1zM1235 684h1v1h-1zM1236 684h1v1h-1zM1237 685h1v1h-1zM1241 686h1v1h-1zM1242 687h1v1h-1zM1243 687h1v1h-1zM1247 688h1v1h-1zM1248 688h1v1h-1zM1249 688h1v1h-1zM1253 688h1v1h-1zM1254 688h1v1h-1zM1255 688h1v1h-1zM1259 687h1v1h-1zM1260 687h1v1h-1zM1261 687h1v1h-1zM1265 687h1v1h-1zM1266 686h1v1h-1zM1267 686h1v1h-1z" fill="#ff0000"/>
<rect x="1597" y="635" width="2" height="1" fill="#000"/>
<rect x="1597" y="690" width="2" height="1" fill="#000"/>
<rect x="1597" y="724" width="2" height="1" fill="#000"/>
</g>
<text x="8.4" y="646.3" font-size="9.5" fill="#000" textLength="147.5" lengthAdjust="spacingAndGlyphs">MACD(12,26,9) 0.007637 0.005308</text>
<text x="1600.2" y="644" font-size="9.5" fill="#000" textLength="37.5" lengthAdjust="spacingAndGlyphs">0.063113</text>
<text x="1600.2" y="694" font-size="9.5" fill="#000" textLength="17.6" lengthAdjust="spacingAndGlyphs">0.00</text>
<text x="1600" y="722" font-size="9.5" fill="#000" textLength="41" lengthAdjust="spacingAndGlyphs">-0.038872</text>
<g shape-rendering="crispEdges">
<rect x="4" y="726" width="1" height="3" fill="#000"/>
<rect x="68" y="726" width="1" height="3" fill="#000"/>
<rect x="132" y="726" width="1" height="3" fill="#000"/>
<rect x="196" y="726" width="1" height="3" fill="#000"/>
<rect x="260" y="726" width="1" height="3" fill="#000"/>
<rect x="324" y="726" width="1" height="3" fill="#000"/>
<rect x="388" y="726" width="1" height="3" fill="#000"/>
<rect x="452" y="726" width="1" height="3" fill="#000"/>
<rect x="516" y="726" width="1" height="3" fill="#000"/>
<rect x="580" y="726" width="1" height="3" fill="#000"/>
<rect x="644" y="726" width="1" height="3" fill="#000"/>
<rect x="708" y="726" width="1" height="3" fill="#000"/>
<rect x="772" y="726" width="1" height="3" fill="#000"/>
<rect x="836" y="726" width="1" height="3" fill="#000"/>
<rect x="900" y="726" width="1" height="3" fill="#000"/>
<rect x="964" y="726" width="1" height="3" fill="#000"/>
<rect x="1028" y="726" width="1" height="3" fill="#000"/>
<rect x="1092" y="726" width="1" height="3" fill="#000"/>
<rect x="1156" y="726" width="1" height="3" fill="#000"/>
<rect x="1220" y="726" width="1" height="3" fill="#000"/>
</g>
<text x="3.6" y="738" font-size="9.5" fill="#000" textLength="50.1" lengthAdjust="spacingAndGlyphs">16 Apr 2019</text>
<text x="66.9" y="738" font-size="9.5" fill="#000" textLength="49.8" lengthAdjust="spacingAndGlyphs">6 May 2019</text>
<text x="131.3" y="738" font-size="9.5" fill="#000" textLength="54.4" lengthAdjust="spacingAndGlyphs">30 May 2019</text>
<text x="195.5" y="738" font-size="9.5" fill="#000" textLength="49" lengthAdjust="spacingAndGlyphs">18 Jun 2019</text>
<text x="259.3" y="738" font-size="9.5" fill="#000" textLength="40.7" lengthAdjust="spacingAndGlyphs">6 Jul 2019</text>
<text x="323" y="738" font-size="9.5" fill="#000" textLength="46.5" lengthAdjust="spacingAndGlyphs">25 Jul 2019</text>
<text x="387.5" y="738" font-size="9.5" fill="#000" textLength="52" lengthAdjust="spacingAndGlyphs">13 Aug 2019</text>
<text x="451.3" y="738" font-size="9.5" fill="#000" textLength="52.5" lengthAdjust="spacingAndGlyphs">31 Aug 2019</text>
<text x="515.5" y="738" font-size="9.5" fill="#000" textLength="51.3" lengthAdjust="spacingAndGlyphs">19 Sep 2019</text>
<text x="578.8" y="738" font-size="9.5" fill="#000" textLength="45.7" lengthAdjust="spacingAndGlyphs">8 Oct 2019</text>
<text x="643" y="738" font-size="9.5" fill="#000" textLength="50" lengthAdjust="spacingAndGlyphs">26 Oct 2019</text>
<text x="707" y="738" font-size="9.5" fill="#000" textLength="53" lengthAdjust="spacingAndGlyphs">14 Nov 2019</text>
<text x="771.8" y="738" font-size="9.5" fill="#000" textLength="45.7" lengthAdjust="spacingAndGlyphs">3 Dec 2019</text>
<text x="835" y="738" font-size="9.5" fill="#000" textLength="51.3" lengthAdjust="spacingAndGlyphs">21 Dec 2019</text>
<text x="899.5" y="738" font-size="9.5" fill="#000" textLength="44.3" lengthAdjust="spacingAndGlyphs">9 Jan 2020</text>
<text x="963" y="738" font-size="9.5" fill="#000" textLength="49.5" lengthAdjust="spacingAndGlyphs">28 Jan 2020</text>
<text x="1027" y="738" font-size="9.5" fill="#000" textLength="51.3" lengthAdjust="spacingAndGlyphs">15 Feb 2020</text>
<text x="1091.3" y="738" font-size="9.5" fill="#000" textLength="46.2" lengthAdjust="spacingAndGlyphs">5 Mar 2020</text>
<text x="1155" y="738" font-size="9.5" fill="#000" textLength="51.3" lengthAdjust="spacingAndGlyphs">24 Mar 2020</text>
<text x="1219.3" y="738" font-size="9.5" fill="#000" textLength="50.8" lengthAdjust="spacingAndGlyphs">11 Apr 2020</text>
<g shape-rendering="crispEdges">
<rect x="0" y="746" width="1638" height="1" fill="#e8e8e8"/>
<rect x="0" y="748" width="1638" height="1" fill="#000"/>
<rect x="0" y="749" width="1638" height="1" fill="#fff"/>
<rect x="0" y="750" width="1638" height="17" fill="#f0f0f0"/>
<rect x="418" y="747" width="102" height="20" fill="#fff"/>
<rect x="417" y="748" width="1" height="19" fill="#000"/>
<rect x="520" y="748" width="1" height="19" fill="#000"/>
<rect x="417" y="766" width="104" height="1" fill="#000"/>
</g>
<text x="17.6" y="762" font-size="11.8" fill="#707070" textLength="79.6" lengthAdjust="spacingAndGlyphs">EURUSD,Daily</text>
<text x="119.5" y="762" font-size="11.8" fill="#707070" textLength="78.2" lengthAdjust="spacingAndGlyphs">USDCHF,Daily</text>
<text x="220.1" y="762" font-size="11.8" fill="#707070" textLength="82" lengthAdjust="spacingAndGlyphs">AUDUSD,Daily</text>
<text x="324.2" y="762" font-size="11.8" fill="#707070" textLength="80.5" lengthAdjust="spacingAndGlyphs">USDCAD,Daily</text>
<text x="427.8" y="762" font-size="11.8" fill="#000" textLength="82.1" lengthAdjust="spacingAndGlyphs">USDCNH,Daily</text>
<text x="533.4" y="762" font-size="11.8" fill="#707070" textLength="79.1" lengthAdjust="spacingAndGlyphs">EURUSD,Daily</text>
<text x="635.4" y="762" font-size="11.8" fill="#707070" textLength="69.9" lengthAdjust="spacingAndGlyphs">GBPUSD,M5</text>
<text x="727.8" y="762" font-size="11.8" fill="#707070" textLength="68.3" lengthAdjust="spacingAndGlyphs">XAUUSD,H1</text>
<text x="820.5" y="762" font-size="11.8" fill="#707070" textLength="48.8" lengthAdjust="spacingAndGlyphs">HK50,H1</text>
<text x="892.2" y="762" font-size="11.8" fill="#707070" textLength="56.2" lengthAdjust="spacingAndGlyphs">UK100,H1</text>
<text x="972.3" y="762" font-size="11.8" fill="#707070" textLength="55.8" lengthAdjust="spacingAndGlyphs">UK100,H1</text>
<text x="1052.3" y="762" font-size="11.8" fill="#707070" textLength="55.9" lengthAdjust="spacingAndGlyphs">GER30,H1</text>
<text x="1131.3" y="762" font-size="11.8" fill="#707070" textLength="54.1" lengthAdjust="spacingAndGlyphs">FRA40,H1</text>
<text x="1207.4" y="762" font-size="11.8" fill="#707070" textLength="49.8" lengthAdjust="spacingAndGlyphs">USOil,H1</text>
<text x="1279.3" y="762" font-size="11.8" fill="#707070" textLength="62.3" lengthAdjust="spacingAndGlyphs">USDJPY,H1</text>
<g shape-rendering="crispEdges">
<rect x="109" y="751" width="1" height="15" fill="#404040"/>
<rect x="209" y="751" width="1" height="15" fill="#404040"/>
<rect x="313" y="751" width="1" height="15" fill="#404040"/>
<rect x="625" y="751" width="1" height="15" fill="#404040"/>
<rect x="717" y="751" width="1" height="15" fill="#404040"/>
<rect x="809" y="751" width="1" height="15" fill="#404040"/>
<rect x="881" y="751" width="1" height="15" fill="#404040"/>
<rect x="961" y="751" width="1" height="15" fill="#404040"/>
<rect x="1041" y="751" width="1" height="15" fill="#404040"/>
<rect x="1121" y="751" width="1" height="15" fill="#404040"/>
<rect x="1197" y="751" width="1" height="15" fill="#404040"/>
<rect x="1269" y="751" width="1" height="15" fill="#404040"/>
<rect x="1353" y="751" width="1" height="15" fill="#404040"/>
</g>
<path d="M1615 754 L1615 760 L1611.5 757 Z" fill="#a0a0a0"/><path d="M1631 754 L1631 760 L1634.5 757 Z" fill="#a0a0a0"/>
</svg></body></html>
